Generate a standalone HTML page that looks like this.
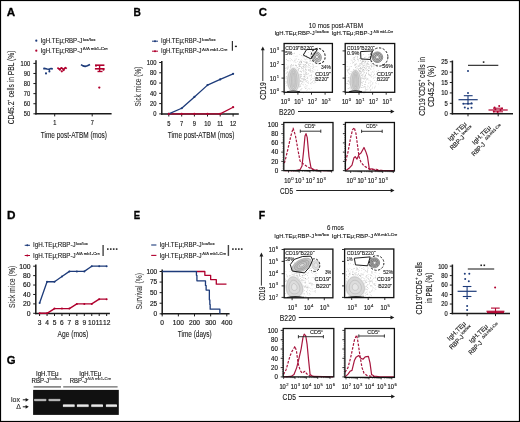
<!DOCTYPE html>
<html><head><meta charset="utf-8"><style>html,body{margin:0;padding:0;background:#fff;overflow:hidden}svg{display:block;will-change:transform}</style></head>
<body><svg width="520" height="422" viewBox="0 0 520 422" font-family='"Liberation Sans", sans-serif'>
<rect width="520" height="422" fill="#fff"/>
<text x="6.80" y="16.10" font-size="11" fill="#000" font-weight="bold" textLength="8.40" lengthAdjust="spacingAndGlyphs" stroke="#000" stroke-width="0.3" >A</text>
<text x="133.40" y="16.20" font-size="11" fill="#000" font-weight="bold" textLength="7.40" lengthAdjust="spacingAndGlyphs" stroke="#000" stroke-width="0.3" >B</text>
<text x="258.80" y="16.20" font-size="11" fill="#000" font-weight="bold" textLength="8.20" lengthAdjust="spacingAndGlyphs" stroke="#000" stroke-width="0.3" >C</text>
<text x="6.90" y="219.30" font-size="11" fill="#000" font-weight="bold" textLength="8.50" lengthAdjust="spacingAndGlyphs" stroke="#000" stroke-width="0.3" >D</text>
<text x="133.80" y="218.80" font-size="11" fill="#000" font-weight="bold" textLength="6.40" lengthAdjust="spacingAndGlyphs" stroke="#000" stroke-width="0.3" >E</text>
<text x="258.80" y="219.20" font-size="11" fill="#000" font-weight="bold" textLength="6.40" lengthAdjust="spacingAndGlyphs" stroke="#000" stroke-width="0.3" >F</text>
<text x="6.80" y="364.00" font-size="11" fill="#000" font-weight="bold" textLength="8.80" lengthAdjust="spacingAndGlyphs" stroke="#000" stroke-width="0.3" >G</text>
<circle cx="36.30" cy="40.70" r="1.1" fill="#1d3b7a"/>
<circle cx="36.30" cy="50.70" r="1.1" fill="#b0002e"/>
<text x="40.60" y="42.80" font-size="6.6000000000000005" fill="#1a1a1a" textLength="41.60" lengthAdjust="spacingAndGlyphs" stroke="#1a1a1a" stroke-width="0.12" >IgH.TEμ;RBP-J</text>
<text x="82.80" y="40.50" font-size="4.1" fill="#222" textLength="12.70" lengthAdjust="spacingAndGlyphs" stroke="#222" stroke-width="0.16" >lox/lox</text>
<text x="40.60" y="52.60" font-size="6.6000000000000005" fill="#1a1a1a" textLength="41.60" lengthAdjust="spacingAndGlyphs" stroke="#1a1a1a" stroke-width="0.12" >IgH.TEμ;RBP-J</text>
<text x="82.80" y="50.30" font-size="4.1" fill="#222" textLength="25.00" lengthAdjust="spacingAndGlyphs" stroke="#222" stroke-width="0.16" >Δ/Δ mb1-Cre</text>
<line x1="36.00" y1="60.30" x2="36.00" y2="114.55" stroke="#1a1a1a" stroke-width="1.5" />
<line x1="33.40" y1="63.40" x2="36.00" y2="63.40" stroke="#1a1a1a" stroke-width="1.0" />
<text x="20.62" y="65.80" font-size="7.0" fill="#1a1a1a" textLength="9.58" lengthAdjust="spacingAndGlyphs" stroke="#1a1a1a" stroke-width="0.18" >100</text>
<line x1="33.40" y1="73.48" x2="36.00" y2="73.48" stroke="#1a1a1a" stroke-width="1.0" />
<text x="23.82" y="75.88" font-size="7.0" fill="#1a1a1a" textLength="6.38" lengthAdjust="spacingAndGlyphs" stroke="#1a1a1a" stroke-width="0.18" >90</text>
<line x1="33.40" y1="83.56" x2="36.00" y2="83.56" stroke="#1a1a1a" stroke-width="1.0" />
<text x="23.82" y="85.96" font-size="7.0" fill="#1a1a1a" textLength="6.38" lengthAdjust="spacingAndGlyphs" stroke="#1a1a1a" stroke-width="0.18" >80</text>
<line x1="33.40" y1="93.64" x2="36.00" y2="93.64" stroke="#1a1a1a" stroke-width="1.0" />
<text x="23.82" y="96.04" font-size="7.0" fill="#1a1a1a" textLength="6.38" lengthAdjust="spacingAndGlyphs" stroke="#1a1a1a" stroke-width="0.18" >70</text>
<line x1="33.40" y1="103.72" x2="36.00" y2="103.72" stroke="#1a1a1a" stroke-width="1.0" />
<text x="23.82" y="106.12" font-size="7.0" fill="#1a1a1a" textLength="6.38" lengthAdjust="spacingAndGlyphs" stroke="#1a1a1a" stroke-width="0.18" >60</text>
<line x1="33.40" y1="113.80" x2="36.00" y2="113.80" stroke="#1a1a1a" stroke-width="1.0" />
<text x="23.82" y="116.20" font-size="7.0" fill="#1a1a1a" textLength="6.38" lengthAdjust="spacingAndGlyphs" stroke="#1a1a1a" stroke-width="0.18" >50</text>
<line x1="35.25" y1="113.80" x2="111.60" y2="113.80" stroke="#1a1a1a" stroke-width="1.5" />
<line x1="54.70" y1="113.80" x2="54.70" y2="116.40" stroke="#1a1a1a" stroke-width="1.0" />
<text x="53.14" y="125.20" font-size="6.6" fill="#1a1a1a" textLength="3.12" lengthAdjust="spacingAndGlyphs" stroke="#1a1a1a" stroke-width="0.18" >1</text>
<line x1="92.20" y1="113.80" x2="92.20" y2="116.40" stroke="#1a1a1a" stroke-width="1.0" />
<text x="90.64" y="125.20" font-size="6.6" fill="#1a1a1a" textLength="3.12" lengthAdjust="spacingAndGlyphs" stroke="#1a1a1a" stroke-width="0.18" >7</text>
<text x="40.80" y="137.60" font-size="9.8" fill="#1a1a1a" textLength="66.20" lengthAdjust="spacingAndGlyphs" stroke="#1a1a1a" stroke-width="0.12" >Time post-ATBM (mos)</text>
<text x="14.50" y="124.30" font-size="9" fill="#1a1a1a" textLength="73.80" lengthAdjust="spacingAndGlyphs" stroke="#1a1a1a" stroke-width="0.12" transform="rotate(-90 14.50 124.30)" >CD45.2⁺ cells in PBL (%)</text>
<polyline points="43.20,68.60 45.00,68.40 47.00,69.00 49.00,69.20 51.00,68.60 52.80,68.90" stroke="#1d3b7a" stroke-width="1.6" fill="none" stroke-linejoin="round" />
<circle cx="46.00" cy="73.40" r="1.05" fill="#1d3b7a"/>
<circle cx="49.40" cy="71.40" r="1.05" fill="#1d3b7a"/>
<line x1="49.30" y1="69.00" x2="49.40" y2="71.40" stroke="#1d3b7a" stroke-width="1.0" />
<polyline points="57.40,67.60 59.40,69.40 61.60,67.80 63.60,69.60 65.40,67.60 66.80,68.60" stroke="#b0002e" stroke-width="1.7" fill="none" stroke-linejoin="round" />
<circle cx="61.80" cy="71.30" r="1.15" fill="#b0002e"/>
<circle cx="60.00" cy="69.80" r="1.0" fill="#b0002e"/>
<circle cx="63.60" cy="70.20" r="1.0" fill="#b0002e"/>
<polyline points="81.00,64.60 83.00,65.90 85.20,66.40 87.40,65.80 90.00,64.60" stroke="#1d3b7a" stroke-width="1.7" fill="none" stroke-linejoin="round" />
<line x1="95.00" y1="65.20" x2="104.40" y2="65.20" stroke="#b0002e" stroke-width="1.6" />
<line x1="94.90" y1="68.80" x2="104.60" y2="68.80" stroke="#b0002e" stroke-width="1.6" />
<line x1="99.60" y1="65.00" x2="99.60" y2="72.00" stroke="#b0002e" stroke-width="1.4" />
<line x1="97.50" y1="71.50" x2="102.50" y2="71.50" stroke="#b0002e" stroke-width="1.4" />
<circle cx="96.00" cy="65.80" r="1.0" fill="#b0002e"/>
<circle cx="103.50" cy="69.80" r="1.0" fill="#b0002e"/>
<circle cx="99.30" cy="87.60" r="1.15" fill="#b0002e"/>
<line x1="152.00" y1="41.20" x2="158.00" y2="41.20" stroke="#1d3b7a" stroke-width="1.0" />
<circle cx="155.00" cy="41.20" r="1.0" fill="#1d3b7a"/>
<line x1="152.00" y1="51.20" x2="158.00" y2="51.20" stroke="#b0002e" stroke-width="1.0" />
<circle cx="155.00" cy="51.20" r="1.0" fill="#b0002e"/>
<text x="161.00" y="43.10" font-size="6.490000000000001" fill="#1a1a1a" textLength="40.50" lengthAdjust="spacingAndGlyphs" stroke="#1a1a1a" stroke-width="0.12" >IgH.TEμ;RBP-J</text>
<text x="202.10" y="40.80" font-size="4.1" fill="#222" textLength="13.60" lengthAdjust="spacingAndGlyphs" stroke="#222" stroke-width="0.16" >lox/lox</text>
<text x="161.00" y="53.10" font-size="6.490000000000001" fill="#1a1a1a" textLength="40.50" lengthAdjust="spacingAndGlyphs" stroke="#1a1a1a" stroke-width="0.12" >IgH.TEμ;RBP-J</text>
<text x="202.10" y="50.80" font-size="4.1" fill="#222" textLength="25.30" lengthAdjust="spacingAndGlyphs" stroke="#222" stroke-width="0.16" >Δ/Δ mb1-Cre</text>
<line x1="232.40" y1="41.00" x2="232.40" y2="50.80" stroke="#333" stroke-width="1.2" />
<rect x="234.9" y="45.7" width="2.0" height="1.4" fill="#222"/>
<line x1="161.80" y1="61.00" x2="161.80" y2="114.65" stroke="#1a1a1a" stroke-width="1.5" />
<line x1="159.20" y1="62.50" x2="161.80" y2="62.50" stroke="#1a1a1a" stroke-width="1.0" />
<text x="146.76" y="64.90" font-size="6.8" fill="#1a1a1a" textLength="9.64" lengthAdjust="spacingAndGlyphs" stroke="#1a1a1a" stroke-width="0.18" >100</text>
<line x1="159.20" y1="72.78" x2="161.80" y2="72.78" stroke="#1a1a1a" stroke-width="1.0" />
<text x="149.97" y="75.18" font-size="6.8" fill="#1a1a1a" textLength="6.43" lengthAdjust="spacingAndGlyphs" stroke="#1a1a1a" stroke-width="0.18" >80</text>
<line x1="159.20" y1="83.06" x2="161.80" y2="83.06" stroke="#1a1a1a" stroke-width="1.0" />
<text x="149.97" y="85.46" font-size="6.8" fill="#1a1a1a" textLength="6.43" lengthAdjust="spacingAndGlyphs" stroke="#1a1a1a" stroke-width="0.18" >60</text>
<line x1="159.20" y1="93.34" x2="161.80" y2="93.34" stroke="#1a1a1a" stroke-width="1.0" />
<text x="149.97" y="95.74" font-size="6.8" fill="#1a1a1a" textLength="6.43" lengthAdjust="spacingAndGlyphs" stroke="#1a1a1a" stroke-width="0.18" >40</text>
<line x1="159.20" y1="103.62" x2="161.80" y2="103.62" stroke="#1a1a1a" stroke-width="1.0" />
<text x="149.97" y="106.02" font-size="6.8" fill="#1a1a1a" textLength="6.43" lengthAdjust="spacingAndGlyphs" stroke="#1a1a1a" stroke-width="0.18" >20</text>
<line x1="159.20" y1="113.90" x2="161.80" y2="113.90" stroke="#1a1a1a" stroke-width="1.0" />
<text x="153.19" y="116.30" font-size="6.8" fill="#1a1a1a" textLength="3.21" lengthAdjust="spacingAndGlyphs" stroke="#1a1a1a" stroke-width="0.18" >0</text>
<line x1="161.05" y1="113.90" x2="238.80" y2="113.90" stroke="#1a1a1a" stroke-width="1.5" />
<line x1="168.80" y1="113.90" x2="168.80" y2="116.50" stroke="#1a1a1a" stroke-width="1.0" />
<text x="167.19" y="125.80" font-size="6.8" fill="#1a1a1a" textLength="3.21" lengthAdjust="spacingAndGlyphs" stroke="#1a1a1a" stroke-width="0.18" >5</text>
<line x1="181.70" y1="113.90" x2="181.70" y2="116.50" stroke="#1a1a1a" stroke-width="1.0" />
<text x="180.09" y="125.80" font-size="6.8" fill="#1a1a1a" textLength="3.21" lengthAdjust="spacingAndGlyphs" stroke="#1a1a1a" stroke-width="0.18" >7</text>
<line x1="194.40" y1="113.90" x2="194.40" y2="116.50" stroke="#1a1a1a" stroke-width="1.0" />
<text x="192.79" y="125.80" font-size="6.8" fill="#1a1a1a" textLength="3.21" lengthAdjust="spacingAndGlyphs" stroke="#1a1a1a" stroke-width="0.18" >9</text>
<line x1="207.50" y1="113.90" x2="207.50" y2="116.50" stroke="#1a1a1a" stroke-width="1.0" />
<text x="204.29" y="125.80" font-size="6.8" fill="#1a1a1a" textLength="6.43" lengthAdjust="spacingAndGlyphs" stroke="#1a1a1a" stroke-width="0.18" >10</text>
<line x1="220.20" y1="113.90" x2="220.20" y2="116.50" stroke="#1a1a1a" stroke-width="1.0" />
<text x="217.20" y="125.80" font-size="6.8" fill="#1a1a1a" textLength="6.00" lengthAdjust="spacingAndGlyphs" stroke="#1a1a1a" stroke-width="0.18" >11</text>
<line x1="233.10" y1="113.90" x2="233.10" y2="116.50" stroke="#1a1a1a" stroke-width="1.0" />
<text x="229.89" y="125.80" font-size="6.8" fill="#1a1a1a" textLength="6.43" lengthAdjust="spacingAndGlyphs" stroke="#1a1a1a" stroke-width="0.18" >12</text>
<text x="167.80" y="137.60" font-size="9.8" fill="#1a1a1a" textLength="66.60" lengthAdjust="spacingAndGlyphs" stroke="#1a1a1a" stroke-width="0.12" >Time post-ATBM (mos)</text>
<text x="141.40" y="106.50" font-size="9" fill="#3a3a3a" textLength="40.00" lengthAdjust="spacingAndGlyphs" stroke="#3a3a3a" stroke-width="0.12" transform="rotate(-90 141.40 106.50)" >Sick mice (%)</text>
<polyline points="168.80,113.90 181.70,113.90 194.40,113.90 207.50,113.90 220.20,113.90 233.10,107.22" stroke="#b0002e" stroke-width="1.2" fill="none" stroke-linejoin="round" />
<polyline points="168.80,113.90 181.70,108.25 194.40,96.94 207.50,85.12 220.20,79.46 233.10,73.81" stroke="#1d3b7a" stroke-width="1.3" fill="none" stroke-linejoin="round" />
<circle cx="168.80" cy="113.90" r="1.1" fill="#1d3b7a"/>
<circle cx="181.70" cy="108.25" r="1.1" fill="#1d3b7a"/>
<circle cx="194.40" cy="96.94" r="1.1" fill="#1d3b7a"/>
<circle cx="207.50" cy="85.12" r="1.1" fill="#1d3b7a"/>
<circle cx="220.20" cy="79.46" r="1.1" fill="#1d3b7a"/>
<circle cx="233.10" cy="73.81" r="1.1" fill="#1d3b7a"/>
<circle cx="168.80" cy="113.90" r="1.15" fill="#b0002e"/>
<circle cx="181.70" cy="113.90" r="1.15" fill="#b0002e"/>
<circle cx="194.40" cy="113.90" r="1.15" fill="#b0002e"/>
<circle cx="207.50" cy="113.90" r="1.15" fill="#b0002e"/>
<circle cx="220.20" cy="113.90" r="1.15" fill="#b0002e"/>
<circle cx="233.10" cy="107.22" r="1.15" fill="#b0002e"/>
<text x="308.75" y="27.80" font-size="6.3" fill="#1a1a1a" textLength="54.20" lengthAdjust="spacingAndGlyphs" stroke="#1a1a1a" stroke-width="0.1" >10 mos post-ATBM</text>
<text x="274.40" y="34.90" font-size="6.1" fill="#1a1a1a" textLength="40.40" lengthAdjust="spacingAndGlyphs" stroke="#1a1a1a" stroke-width="0.12" >IgH.TEμ;RBP-J</text>
<text x="315.60" y="32.50" font-size="4.2" fill="#222" textLength="13.40" lengthAdjust="spacingAndGlyphs" stroke="#222" stroke-width="0.16" >lox/lox</text>
<text x="331.60" y="34.90" font-size="6.1" fill="#1a1a1a" textLength="40.80" lengthAdjust="spacingAndGlyphs" stroke="#1a1a1a" stroke-width="0.12" >IgH.TEμ;RBP-J</text>
<text x="373.60" y="32.50" font-size="4.2" fill="#222" textLength="19.60" lengthAdjust="spacingAndGlyphs" stroke="#222" stroke-width="0.16" >Δ/Δ mb1-Cre</text>
<path d="M297.0 80.9h0.6v0.6h-0.6zM297.3 69.6h0.6v0.6h-0.6zM290.0 71.3h0.6v0.6h-0.6zM311.3 79.1h0.6v0.6h-0.6zM310.9 77.1h0.6v0.6h-0.6zM304.6 76.6h0.6v0.6h-0.6zM286.2 82.3h0.6v0.6h-0.6zM305.7 80.6h0.6v0.6h-0.6zM288.5 60.0h0.6v0.6h-0.6zM290.5 68.1h0.6v0.6h-0.6zM303.6 73.4h0.6v0.6h-0.6zM305.8 65.6h0.6v0.6h-0.6zM303.6 79.4h0.6v0.6h-0.6zM294.5 90.9h0.6v0.6h-0.6zM305.5 87.8h0.6v0.6h-0.6zM293.3 64.6h0.6v0.6h-0.6zM295.9 72.5h0.6v0.6h-0.6zM307.2 77.3h0.6v0.6h-0.6zM295.3 62.2h0.6v0.6h-0.6zM294.9 88.1h0.6v0.6h-0.6zM291.1 77.2h0.6v0.6h-0.6zM303.9 57.9h0.6v0.6h-0.6zM300.5 89.1h0.6v0.6h-0.6zM284.3 71.1h0.6v0.6h-0.6zM298.8 63.4h0.6v0.6h-0.6zM305.8 73.1h0.6v0.6h-0.6zM287.1 82.6h0.6v0.6h-0.6zM306.9 85.4h0.6v0.6h-0.6zM313.5 78.0h0.6v0.6h-0.6zM301.2 58.9h0.6v0.6h-0.6zM306.8 66.1h0.6v0.6h-0.6zM295.6 59.5h0.6v0.6h-0.6zM289.9 67.5h0.6v0.6h-0.6zM308.9 57.6h0.6v0.6h-0.6zM286.3 76.6h0.6v0.6h-0.6zM313.2 80.2h0.6v0.6h-0.6zM289.8 58.1h0.6v0.6h-0.6zM304.0 64.4h0.6v0.6h-0.6zM289.5 84.8h0.6v0.6h-0.6zM311.4 75.9h0.6v0.6h-0.6zM302.9 80.0h0.6v0.6h-0.6zM313.9 80.3h0.6v0.6h-0.6zM305.8 81.2h0.6v0.6h-0.6zM287.7 85.8h0.6v0.6h-0.6zM310.0 80.5h0.6v0.6h-0.6zM284.8 68.3h0.6v0.6h-0.6zM306.7 57.1h0.6v0.6h-0.6zM298.1 86.7h0.6v0.6h-0.6zM289.9 88.6h0.6v0.6h-0.6zM306.4 72.0h0.6v0.6h-0.6zM303.7 82.6h0.6v0.6h-0.6zM301.2 87.9h0.6v0.6h-0.6zM292.6 68.6h0.6v0.6h-0.6zM311.0 74.3h0.6v0.6h-0.6zM291.3 85.0h0.6v0.6h-0.6zM313.5 69.2h0.6v0.6h-0.6zM286.7 72.5h0.6v0.6h-0.6zM298.2 69.8h0.6v0.6h-0.6zM312.1 63.6h0.6v0.6h-0.6zM310.7 61.3h0.6v0.6h-0.6zM291.6 81.9h0.6v0.6h-0.6zM310.8 83.6h0.6v0.6h-0.6zM304.1 76.0h0.6v0.6h-0.6zM301.8 81.8h0.6v0.6h-0.6zM297.9 77.9h0.6v0.6h-0.6zM306.6 74.0h0.6v0.6h-0.6zM308.2 81.2h0.6v0.6h-0.6zM315.7 77.0h0.6v0.6h-0.6zM295.1 68.9h0.6v0.6h-0.6zM299.9 85.8h0.6v0.6h-0.6zM296.1 79.3h0.6v0.6h-0.6zM309.9 57.8h0.6v0.6h-0.6zM288.4 77.0h0.6v0.6h-0.6zM304.7 77.3h0.6v0.6h-0.6zM295.2 82.6h0.6v0.6h-0.6zM303.2 66.9h0.6v0.6h-0.6zM316.4 76.8h0.6v0.6h-0.6zM293.6 72.6h0.6v0.6h-0.6zM297.3 73.1h0.6v0.6h-0.6zM283.4 70.5h0.6v0.6h-0.6zM309.3 61.4h0.6v0.6h-0.6zM299.3 86.1h0.6v0.6h-0.6zM307.4 89.2h0.6v0.6h-0.6zM285.3 70.4h0.6v0.6h-0.6zM296.1 82.3h0.6v0.6h-0.6zM306.4 55.6h0.6v0.6h-0.6zM309.2 59.6h0.6v0.6h-0.6zM306.1 58.4h0.6v0.6h-0.6zM301.8 88.2h0.6v0.6h-0.6zM298.2 76.7h0.6v0.6h-0.6zM308.8 75.8h0.6v0.6h-0.6zM299.2 90.6h0.6v0.6h-0.6zM310.9 70.4h0.6v0.6h-0.6zM315.6 66.3h0.6v0.6h-0.6zM309.9 70.6h0.6v0.6h-0.6zM301.5 83.4h0.6v0.6h-0.6zM302.5 82.5h0.6v0.6h-0.6zM288.5 60.7h0.6v0.6h-0.6zM306.3 62.3h0.6v0.6h-0.6zM291.3 59.3h0.6v0.6h-0.6zM311.9 82.3h0.6v0.6h-0.6zM312.7 64.5h0.6v0.6h-0.6zM300.0 60.2h0.6v0.6h-0.6zM306.6 90.0h0.6v0.6h-0.6zM292.5 89.5h0.6v0.6h-0.6zM310.5 71.8h0.6v0.6h-0.6zM286.5 85.3h0.6v0.6h-0.6zM298.9 65.9h0.6v0.6h-0.6zM304.6 79.6h0.6v0.6h-0.6zM312.6 63.9h0.6v0.6h-0.6zM309.4 88.4h0.6v0.6h-0.6zM313.7 72.0h0.6v0.6h-0.6zM292.6 86.0h0.6v0.6h-0.6zM301.4 75.8h0.6v0.6h-0.6zM313.5 71.1h0.6v0.6h-0.6zM283.8 70.8h0.6v0.6h-0.6zM285.5 81.5h0.6v0.6h-0.6zM303.6 65.8h0.6v0.6h-0.6zM299.9 84.8h0.6v0.6h-0.6zM300.8 89.3h0.6v0.6h-0.6zM299.4 86.9h0.6v0.6h-0.6zM311.0 88.0h0.6v0.6h-0.6zM293.0 84.8h0.6v0.6h-0.6zM286.0 64.5h0.6v0.6h-0.6zM285.7 83.2h0.6v0.6h-0.6zM287.6 73.8h0.6v0.6h-0.6zM297.7 73.6h0.6v0.6h-0.6zM293.2 77.1h0.6v0.6h-0.6zM315.2 74.4h0.6v0.6h-0.6zM305.5 86.2h0.6v0.6h-0.6zM298.0 59.3h0.6v0.6h-0.6zM294.4 86.8h0.6v0.6h-0.6zM285.8 68.0h0.6v0.6h-0.6zM310.0 83.3h0.6v0.6h-0.6zM300.1 84.5h0.6v0.6h-0.6zM301.7 59.9h0.6v0.6h-0.6zM286.3 67.4h0.6v0.6h-0.6zM309.6 67.0h0.6v0.6h-0.6zM290.8 64.8h0.6v0.6h-0.6zM285.9 72.7h0.6v0.6h-0.6zM288.1 78.3h0.6v0.6h-0.6zM283.7 76.7h0.6v0.6h-0.6zM295.0 56.2h0.6v0.6h-0.6zM308.1 70.4h0.6v0.6h-0.6zM284.6 66.9h0.6v0.6h-0.6zM303.4 67.7h0.6v0.6h-0.6zM308.2 83.2h0.6v0.6h-0.6zM307.5 78.3h0.6v0.6h-0.6zM312.5 81.3h0.6v0.6h-0.6zM303.4 55.5h0.6v0.6h-0.6zM308.1 88.0h0.6v0.6h-0.6zM296.6 67.6h0.6v0.6h-0.6zM312.4 60.8h0.6v0.6h-0.6zM303.2 93.2h0.6v0.6h-0.6zM290.5 82.3h0.6v0.6h-0.6zM315.5 72.8h0.6v0.6h-0.6zM305.9 85.2h0.6v0.6h-0.6zM290.1 72.9h0.6v0.6h-0.6zM303.2 84.6h0.6v0.6h-0.6zM299.6 71.3h0.6v0.6h-0.6zM289.4 69.6h0.6v0.6h-0.6zM309.7 75.3h0.6v0.6h-0.6zM291.3 63.9h0.6v0.6h-0.6zM315.5 81.8h0.6v0.6h-0.6zM304.0 54.9h0.6v0.6h-0.6zM306.9 80.3h0.6v0.6h-0.6zM314.5 78.3h0.6v0.6h-0.6zM299.2 81.1h0.6v0.6h-0.6zM285.7 83.0h0.6v0.6h-0.6zM303.6 64.8h0.6v0.6h-0.6zM309.6 89.5h0.6v0.6h-0.6zM287.1 66.8h0.6v0.6h-0.6zM303.5 76.6h0.6v0.6h-0.6zM295.8 61.9h0.6v0.6h-0.6zM314.8 82.5h0.6v0.6h-0.6zM289.9 60.6h0.6v0.6h-0.6zM313.6 83.3h0.6v0.6h-0.6zM314.4 81.6h0.6v0.6h-0.6zM290.5 77.3h0.6v0.6h-0.6zM284.5 67.7h0.6v0.6h-0.6zM299.3 81.1h0.6v0.6h-0.6zM291.8 72.4h0.6v0.6h-0.6zM305.3 79.1h0.6v0.6h-0.6zM307.3 76.8h0.6v0.6h-0.6zM296.4 84.2h0.6v0.6h-0.6zM300.5 63.2h0.6v0.6h-0.6zM292.8 74.0h0.6v0.6h-0.6zM298.7 76.2h0.6v0.6h-0.6zM300.0 76.5h0.6v0.6h-0.6zM298.7 59.2h0.6v0.6h-0.6zM304.3 86.8h0.6v0.6h-0.6zM305.1 71.4h0.6v0.6h-0.6zM304.7 62.1h0.6v0.6h-0.6zM284.5 74.6h0.6v0.6h-0.6zM290.5 82.9h0.6v0.6h-0.6zM293.6 55.7h0.6v0.6h-0.6zM291.5 89.2h0.6v0.6h-0.6zM296.4 58.6h0.6v0.6h-0.6zM291.7 80.6h0.6v0.6h-0.6zM305.8 76.4h0.6v0.6h-0.6z" fill="#c4c4c4"/>
<path d="M305.4 84.4h0.6v0.6h-0.6zM294.9 83.4h0.6v0.6h-0.6zM306.6 86.7h0.6v0.6h-0.6zM302.2 68.3h0.6v0.6h-0.6zM294.0 84.6h0.6v0.6h-0.6zM292.9 87.6h0.6v0.6h-0.6zM299.2 86.2h0.6v0.6h-0.6zM303.7 76.1h0.6v0.6h-0.6zM292.6 85.9h0.6v0.6h-0.6zM301.9 78.1h0.6v0.6h-0.6zM286.8 79.7h0.6v0.6h-0.6zM297.5 88.2h0.6v0.6h-0.6zM300.5 78.2h0.6v0.6h-0.6zM301.0 82.9h0.6v0.6h-0.6zM296.4 78.5h0.6v0.6h-0.6zM293.3 84.2h0.6v0.6h-0.6zM287.6 72.3h0.6v0.6h-0.6zM295.0 64.8h0.6v0.6h-0.6zM291.9 59.9h0.6v0.6h-0.6zM290.2 83.1h0.6v0.6h-0.6zM299.0 77.5h0.6v0.6h-0.6zM293.4 65.2h0.6v0.6h-0.6zM307.8 82.6h0.6v0.6h-0.6zM302.7 70.1h0.6v0.6h-0.6zM293.7 61.6h0.6v0.6h-0.6zM300.5 86.4h0.6v0.6h-0.6zM299.4 62.1h0.6v0.6h-0.6zM290.6 65.4h0.6v0.6h-0.6zM295.2 80.2h0.6v0.6h-0.6zM299.4 84.3h0.6v0.6h-0.6zM305.5 88.5h0.6v0.6h-0.6zM285.8 73.5h0.6v0.6h-0.6zM287.6 68.3h0.6v0.6h-0.6zM294.4 78.0h0.6v0.6h-0.6zM298.4 63.7h0.6v0.6h-0.6zM286.3 77.8h0.6v0.6h-0.6zM293.6 75.2h0.6v0.6h-0.6zM294.6 71.2h0.6v0.6h-0.6zM299.9 81.2h0.6v0.6h-0.6zM294.4 72.0h0.6v0.6h-0.6zM293.8 53.5h0.6v0.6h-0.6zM288.1 78.3h0.6v0.6h-0.6zM296.0 65.6h0.6v0.6h-0.6zM293.2 75.2h0.6v0.6h-0.6zM298.2 83.5h0.6v0.6h-0.6zM294.7 70.3h0.6v0.6h-0.6zM294.0 77.4h0.6v0.6h-0.6zM300.1 80.6h0.6v0.6h-0.6zM289.9 65.8h0.6v0.6h-0.6zM292.4 71.3h0.6v0.6h-0.6zM287.2 77.0h0.6v0.6h-0.6zM291.6 78.9h0.6v0.6h-0.6zM298.7 74.3h0.6v0.6h-0.6zM311.3 75.1h0.6v0.6h-0.6zM302.7 79.1h0.6v0.6h-0.6zM302.8 56.6h0.6v0.6h-0.6zM289.7 80.2h0.6v0.6h-0.6zM297.3 89.5h0.6v0.6h-0.6zM300.4 86.5h0.6v0.6h-0.6zM298.6 76.6h0.6v0.6h-0.6zM298.6 68.3h0.6v0.6h-0.6zM303.3 68.8h0.6v0.6h-0.6zM293.4 78.2h0.6v0.6h-0.6zM303.1 78.2h0.6v0.6h-0.6zM289.3 80.3h0.6v0.6h-0.6zM299.1 84.4h0.6v0.6h-0.6zM306.7 78.2h0.6v0.6h-0.6zM296.9 74.1h0.6v0.6h-0.6zM304.9 71.7h0.6v0.6h-0.6zM299.7 73.7h0.6v0.6h-0.6zM290.1 84.5h0.6v0.6h-0.6zM304.3 77.9h0.6v0.6h-0.6zM290.3 85.3h0.6v0.6h-0.6zM294.7 80.8h0.6v0.6h-0.6zM305.7 88.2h0.6v0.6h-0.6zM295.0 85.1h0.6v0.6h-0.6zM290.5 77.6h0.6v0.6h-0.6zM304.6 67.1h0.6v0.6h-0.6zM303.2 73.9h0.6v0.6h-0.6zM294.6 75.2h0.6v0.6h-0.6zM294.2 68.2h0.6v0.6h-0.6zM295.2 65.1h0.6v0.6h-0.6zM294.5 80.8h0.6v0.6h-0.6zM298.3 75.9h0.6v0.6h-0.6zM288.7 79.4h0.6v0.6h-0.6zM300.4 77.0h0.6v0.6h-0.6zM291.7 71.7h0.6v0.6h-0.6zM288.4 74.8h0.6v0.6h-0.6zM297.1 82.6h0.6v0.6h-0.6zM290.1 78.1h0.6v0.6h-0.6zM314.6 61.2h0.6v0.6h-0.6zM291.3 79.5h0.6v0.6h-0.6zM296.1 81.7h0.6v0.6h-0.6zM293.3 81.3h0.6v0.6h-0.6zM295.4 84.9h0.6v0.6h-0.6zM295.0 68.7h0.6v0.6h-0.6zM287.7 83.6h0.6v0.6h-0.6zM290.5 83.7h0.6v0.6h-0.6zM300.2 80.8h0.6v0.6h-0.6zM298.6 77.1h0.6v0.6h-0.6zM285.1 77.7h0.6v0.6h-0.6zM298.2 73.2h0.6v0.6h-0.6zM294.3 84.7h0.6v0.6h-0.6zM288.9 83.8h0.6v0.6h-0.6zM308.0 73.0h0.6v0.6h-0.6zM296.0 76.6h0.6v0.6h-0.6zM305.8 80.8h0.6v0.6h-0.6zM301.3 71.8h0.6v0.6h-0.6zM294.9 77.9h0.6v0.6h-0.6zM301.3 62.3h0.6v0.6h-0.6zM300.2 76.8h0.6v0.6h-0.6zM298.1 81.3h0.6v0.6h-0.6zM305.4 72.8h0.6v0.6h-0.6zM287.8 65.8h0.6v0.6h-0.6zM286.5 81.0h0.6v0.6h-0.6zM306.8 81.9h0.6v0.6h-0.6zM291.4 71.9h0.6v0.6h-0.6zM298.7 82.9h0.6v0.6h-0.6zM287.9 67.5h0.6v0.6h-0.6zM297.0 80.2h0.6v0.6h-0.6zM285.9 76.2h0.6v0.6h-0.6zM291.2 82.1h0.6v0.6h-0.6zM294.2 77.2h0.6v0.6h-0.6zM292.5 87.5h0.6v0.6h-0.6zM304.7 74.7h0.6v0.6h-0.6zM300.9 71.2h0.6v0.6h-0.6zM295.5 84.7h0.6v0.6h-0.6zM305.6 74.6h0.6v0.6h-0.6zM294.5 79.8h0.6v0.6h-0.6zM290.3 81.3h0.6v0.6h-0.6zM287.1 60.2h0.6v0.6h-0.6zM295.3 80.3h0.6v0.6h-0.6zM291.2 86.0h0.6v0.6h-0.6zM293.1 72.5h0.6v0.6h-0.6zM298.3 63.9h0.6v0.6h-0.6zM290.3 77.8h0.6v0.6h-0.6zM300.9 76.5h0.6v0.6h-0.6zM297.2 72.1h0.6v0.6h-0.6zM290.5 78.2h0.6v0.6h-0.6zM296.2 87.2h0.6v0.6h-0.6zM286.3 59.1h0.6v0.6h-0.6zM299.2 85.2h0.6v0.6h-0.6zM296.4 80.3h0.6v0.6h-0.6zM301.5 81.3h0.6v0.6h-0.6zM306.6 66.9h0.6v0.6h-0.6zM292.4 47.0h0.6v0.6h-0.6zM300.7 74.6h0.6v0.6h-0.6zM295.0 75.7h0.6v0.6h-0.6zM291.5 70.5h0.6v0.6h-0.6zM290.6 83.8h0.6v0.6h-0.6zM295.3 78.6h0.6v0.6h-0.6zM293.8 86.2h0.6v0.6h-0.6zM298.5 76.7h0.6v0.6h-0.6zM299.7 76.6h0.6v0.6h-0.6zM286.9 91.1h0.6v0.6h-0.6zM298.3 69.4h0.6v0.6h-0.6zM302.6 81.1h0.6v0.6h-0.6zM297.3 86.0h0.6v0.6h-0.6zM296.4 76.7h0.6v0.6h-0.6zM295.2 75.4h0.6v0.6h-0.6zM297.5 78.7h0.6v0.6h-0.6zM299.7 74.7h0.6v0.6h-0.6zM294.7 58.7h0.6v0.6h-0.6zM292.0 84.1h0.6v0.6h-0.6zM304.4 74.7h0.6v0.6h-0.6zM292.7 84.6h0.6v0.6h-0.6zM306.7 78.4h0.6v0.6h-0.6zM303.6 71.6h0.6v0.6h-0.6zM296.5 77.3h0.6v0.6h-0.6zM295.8 88.2h0.6v0.6h-0.6zM311.7 72.0h0.6v0.6h-0.6zM291.0 82.5h0.6v0.6h-0.6zM287.6 82.5h0.6v0.6h-0.6zM299.0 75.5h0.6v0.6h-0.6zM298.7 64.1h0.6v0.6h-0.6zM300.3 64.1h0.6v0.6h-0.6zM290.1 73.0h0.6v0.6h-0.6zM292.2 85.7h0.6v0.6h-0.6zM295.6 74.4h0.6v0.6h-0.6zM295.0 81.3h0.6v0.6h-0.6zM303.7 80.4h0.6v0.6h-0.6zM310.5 60.1h0.6v0.6h-0.6zM294.7 81.8h0.6v0.6h-0.6zM301.8 84.0h0.6v0.6h-0.6zM293.1 68.5h0.6v0.6h-0.6zM295.7 87.3h0.6v0.6h-0.6zM287.4 68.8h0.6v0.6h-0.6zM294.8 60.6h0.6v0.6h-0.6zM293.2 74.1h0.6v0.6h-0.6zM298.2 71.7h0.6v0.6h-0.6zM288.8 74.5h0.6v0.6h-0.6zM294.7 72.0h0.6v0.6h-0.6zM295.1 84.8h0.6v0.6h-0.6zM289.5 74.2h0.6v0.6h-0.6zM289.9 77.7h0.6v0.6h-0.6zM298.7 65.8h0.6v0.6h-0.6zM298.2 77.8h0.6v0.6h-0.6zM303.4 61.2h0.6v0.6h-0.6zM300.7 79.9h0.6v0.6h-0.6zM298.3 82.0h0.6v0.6h-0.6zM304.1 76.0h0.6v0.6h-0.6zM301.1 74.3h0.6v0.6h-0.6zM300.1 70.7h0.6v0.6h-0.6zM298.1 76.6h0.6v0.6h-0.6zM287.0 70.9h0.6v0.6h-0.6zM296.4 86.5h0.6v0.6h-0.6zM298.0 82.7h0.6v0.6h-0.6zM294.7 90.2h0.6v0.6h-0.6zM292.3 73.1h0.6v0.6h-0.6zM301.2 78.6h0.6v0.6h-0.6zM293.1 72.8h0.6v0.6h-0.6zM293.2 83.6h0.6v0.6h-0.6zM297.5 67.1h0.6v0.6h-0.6zM298.0 79.6h0.6v0.6h-0.6zM288.0 85.0h0.6v0.6h-0.6zM293.0 75.0h0.6v0.6h-0.6zM300.6 89.9h0.6v0.6h-0.6zM290.2 81.9h0.6v0.6h-0.6zM291.5 88.8h0.6v0.6h-0.6zM290.5 85.3h0.6v0.6h-0.6zM310.5 55.1h0.6v0.6h-0.6zM292.0 82.5h0.6v0.6h-0.6zM294.3 72.0h0.6v0.6h-0.6zM310.1 78.7h0.6v0.6h-0.6zM291.0 79.3h0.6v0.6h-0.6zM303.8 79.1h0.6v0.6h-0.6z" fill="#a8a8a8"/>
<path d="M296.7 55.8h0.6v0.6h-0.6zM312.1 70.4h0.6v0.6h-0.6zM300.1 71.2h0.6v0.6h-0.6zM308.0 69.9h0.6v0.6h-0.6zM291.4 64.2h0.6v0.6h-0.6zM310.4 70.4h0.6v0.6h-0.6zM310.3 51.3h0.6v0.6h-0.6zM306.0 69.0h0.6v0.6h-0.6zM320.3 60.3h0.6v0.6h-0.6zM303.0 66.2h0.6v0.6h-0.6zM310.3 63.3h0.6v0.6h-0.6zM311.9 61.3h0.6v0.6h-0.6zM306.6 62.8h0.6v0.6h-0.6zM305.9 61.9h0.6v0.6h-0.6zM295.4 72.6h0.6v0.6h-0.6zM306.8 62.6h0.6v0.6h-0.6zM306.2 71.9h0.6v0.6h-0.6zM299.1 65.3h0.6v0.6h-0.6zM308.2 69.2h0.6v0.6h-0.6zM303.0 53.4h0.6v0.6h-0.6zM312.5 68.0h0.6v0.6h-0.6zM305.1 64.3h0.6v0.6h-0.6zM306.6 63.4h0.6v0.6h-0.6zM298.9 61.6h0.6v0.6h-0.6zM301.4 62.3h0.6v0.6h-0.6zM298.0 69.8h0.6v0.6h-0.6zM297.1 70.0h0.6v0.6h-0.6zM298.9 68.1h0.6v0.6h-0.6zM313.2 67.2h0.6v0.6h-0.6zM300.6 66.3h0.6v0.6h-0.6zM305.9 55.6h0.6v0.6h-0.6zM301.4 67.0h0.6v0.6h-0.6zM302.2 66.5h0.6v0.6h-0.6zM309.4 70.6h0.6v0.6h-0.6zM310.4 69.5h0.6v0.6h-0.6zM303.3 65.9h0.6v0.6h-0.6zM303.4 64.1h0.6v0.6h-0.6zM303.9 55.7h0.6v0.6h-0.6zM303.0 65.9h0.6v0.6h-0.6zM299.2 65.9h0.6v0.6h-0.6zM308.1 65.0h0.6v0.6h-0.6zM317.5 50.4h0.6v0.6h-0.6zM303.8 55.0h0.6v0.6h-0.6zM310.9 81.9h0.6v0.6h-0.6zM290.0 66.8h0.6v0.6h-0.6zM308.1 64.2h0.6v0.6h-0.6zM308.3 52.5h0.6v0.6h-0.6zM310.1 68.2h0.6v0.6h-0.6zM305.1 62.5h0.6v0.6h-0.6zM308.8 63.1h0.6v0.6h-0.6zM306.3 62.9h0.6v0.6h-0.6zM291.5 65.8h0.6v0.6h-0.6zM306.2 70.5h0.6v0.6h-0.6zM299.7 65.8h0.6v0.6h-0.6zM308.7 66.9h0.6v0.6h-0.6zM312.5 77.9h0.6v0.6h-0.6zM299.5 54.5h0.6v0.6h-0.6zM310.1 75.2h0.6v0.6h-0.6zM310.5 70.9h0.6v0.6h-0.6zM301.3 61.7h0.6v0.6h-0.6zM310.3 60.5h0.6v0.6h-0.6zM294.1 60.0h0.6v0.6h-0.6zM320.0 77.5h0.6v0.6h-0.6zM300.9 61.6h0.6v0.6h-0.6zM306.4 61.5h0.6v0.6h-0.6zM312.9 65.5h0.6v0.6h-0.6zM298.5 73.9h0.6v0.6h-0.6zM301.5 67.3h0.6v0.6h-0.6zM304.9 64.1h0.6v0.6h-0.6zM306.9 61.8h0.6v0.6h-0.6zM293.9 52.8h0.6v0.6h-0.6zM297.4 61.4h0.6v0.6h-0.6zM304.9 66.3h0.6v0.6h-0.6zM308.3 66.7h0.6v0.6h-0.6zM300.2 61.7h0.6v0.6h-0.6zM292.3 65.0h0.6v0.6h-0.6zM307.9 69.2h0.6v0.6h-0.6zM304.3 65.0h0.6v0.6h-0.6zM310.6 66.1h0.6v0.6h-0.6zM309.4 69.5h0.6v0.6h-0.6zM306.3 73.8h0.6v0.6h-0.6zM301.6 63.8h0.6v0.6h-0.6zM300.2 61.2h0.6v0.6h-0.6zM314.3 76.6h0.6v0.6h-0.6zM305.1 69.4h0.6v0.6h-0.6zM312.1 70.8h0.6v0.6h-0.6zM312.2 58.4h0.6v0.6h-0.6zM301.2 68.7h0.6v0.6h-0.6zM313.6 66.6h0.6v0.6h-0.6zM299.8 63.9h0.6v0.6h-0.6zM301.0 60.9h0.6v0.6h-0.6zM314.0 62.2h0.6v0.6h-0.6zM305.1 79.0h0.6v0.6h-0.6zM312.1 68.0h0.6v0.6h-0.6zM301.3 68.5h0.6v0.6h-0.6zM314.7 69.7h0.6v0.6h-0.6zM312.6 66.6h0.6v0.6h-0.6zM308.1 64.8h0.6v0.6h-0.6zM307.6 73.8h0.6v0.6h-0.6zM296.4 65.6h0.6v0.6h-0.6zM306.4 62.6h0.6v0.6h-0.6zM303.2 70.7h0.6v0.6h-0.6zM317.0 69.8h0.6v0.6h-0.6zM307.0 56.7h0.6v0.6h-0.6zM316.6 66.5h0.6v0.6h-0.6zM304.8 59.3h0.6v0.6h-0.6zM304.7 59.4h0.6v0.6h-0.6zM305.4 68.8h0.6v0.6h-0.6zM305.2 67.7h0.6v0.6h-0.6zM299.9 74.6h0.6v0.6h-0.6zM301.1 55.1h0.6v0.6h-0.6zM303.9 61.4h0.6v0.6h-0.6zM298.9 63.9h0.6v0.6h-0.6zM306.7 58.9h0.6v0.6h-0.6zM304.2 74.6h0.6v0.6h-0.6zM309.1 65.1h0.6v0.6h-0.6zM305.8 65.3h0.6v0.6h-0.6zM304.7 70.4h0.6v0.6h-0.6zM304.4 51.6h0.6v0.6h-0.6zM304.9 60.7h0.6v0.6h-0.6z" fill="#b0b0b0"/>
<path d="M300.07,79.80 L300.07,81.85 L299.90,83.85 L299.56,85.75 L299.05,87.51 L298.38,89.07 L297.57,90.41 L296.64,91.48 L295.62,92.27 L294.53,92.75 L293.40,92.91 L292.27,92.75 L291.18,92.27 L290.16,91.48 L289.23,90.41 L288.42,89.07 L287.75,87.51 L287.24,85.75 L286.90,83.85 L286.73,81.85 L286.73,79.80 L286.89,77.75 L287.21,75.75 L287.67,73.85 L288.26,72.09 L288.95,70.53 L289.73,69.19 L290.59,68.12 L291.50,67.33 L292.44,66.85 L293.40,66.69 L294.36,66.85 L295.30,67.33 L296.21,68.12 L297.07,69.19 L297.85,70.53 L298.54,72.09 L299.13,73.85 L299.59,75.75 L299.91,77.75Z" fill="#f1f1f1" stroke="none"/>
<path d="M299.20,79.80 L299.20,81.58 L299.05,83.32 L298.76,84.98 L298.31,86.50 L297.73,87.86 L297.03,89.02 L296.22,89.96 L295.33,90.64 L294.38,91.06 L293.40,91.20 L292.42,91.06 L291.47,90.64 L290.58,89.96 L289.77,89.02 L289.07,87.86 L288.49,86.50 L288.04,84.98 L287.75,83.32 L287.60,81.58 L287.60,79.80 L287.74,78.02 L288.02,76.28 L288.42,74.62 L288.93,73.10 L289.53,71.74 L290.21,70.58 L290.95,69.64 L291.74,68.96 L292.56,68.54 L293.40,68.40 L294.24,68.54 L295.06,68.96 L295.85,69.64 L296.59,70.58 L297.27,71.74 L297.87,73.10 L298.38,74.62 L298.78,76.28 L299.06,78.02Z" fill="#dadada" stroke="#a0a0a0" stroke-width="0.45"/>
<path d="M297.06,79.80 L297.06,81.41 L296.97,82.99 L296.78,84.48 L296.50,85.86 L296.13,87.09 L295.69,88.14 L295.18,88.98 L294.62,89.60 L294.02,89.98 L293.40,90.11 L292.78,89.98 L292.18,89.60 L291.62,88.98 L291.11,88.14 L290.67,87.09 L290.30,85.86 L290.02,84.48 L289.83,82.99 L289.74,81.41 L289.74,79.80 L289.83,78.19 L290.00,76.61 L290.26,75.12 L290.58,73.74 L290.96,72.51 L291.39,71.46 L291.86,70.62 L292.35,70.00 L292.87,69.62 L293.40,69.49 L293.93,69.62 L294.45,70.00 L294.94,70.62 L295.41,71.46 L295.84,72.51 L296.22,73.74 L296.54,75.12 L296.80,76.61 L296.97,78.19Z" fill="#d2d2d2" stroke="#a0a0a0" stroke-width="0.45"/>
<path d="M295.31,79.80 L295.31,81.20 L295.26,82.56 L295.17,83.86 L295.02,85.06 L294.83,86.12 L294.60,87.04 L294.33,87.77 L294.04,88.31 L293.72,88.63 L293.40,88.74 L293.08,88.63 L292.76,88.31 L292.47,87.77 L292.20,87.04 L291.97,86.12 L291.78,85.06 L291.63,83.86 L291.54,82.56 L291.49,81.20 L291.49,79.80 L291.53,78.40 L291.63,77.04 L291.76,75.74 L291.92,74.54 L292.12,73.48 L292.35,72.56 L292.59,71.83 L292.85,71.29 L293.12,70.97 L293.40,70.86 L293.68,70.97 L293.95,71.29 L294.21,71.83 L294.45,72.56 L294.68,73.48 L294.88,74.54 L295.04,75.74 L295.17,77.04 L295.27,78.40Z" fill="#d8d8d8" stroke="#a0a0a0" stroke-width="0.45"/>
<path d="M294.03,79.80 L294.03,80.90 L294.02,81.97 L293.98,82.99 L293.93,83.92 L293.87,84.76 L293.79,85.48 L293.71,86.05 L293.61,86.47 L293.51,86.73 L293.40,86.82 L293.29,86.73 L293.19,86.47 L293.09,86.05 L293.01,85.48 L292.93,84.76 L292.87,83.92 L292.82,82.99 L292.78,81.97 L292.77,80.90 L292.77,79.80 L292.78,78.70 L292.81,77.63 L292.86,76.61 L292.91,75.68 L292.98,74.84 L293.05,74.12 L293.13,73.55 L293.22,73.13 L293.31,72.87 L293.40,72.78 L293.49,72.87 L293.58,73.13 L293.67,73.55 L293.75,74.12 L293.82,74.84 L293.89,75.68 L293.94,76.61 L293.99,77.63 L294.02,78.70Z" fill="#e0e0e0" stroke="#a0a0a0" stroke-width="0.45"/>
<path d="M287,91.8 Q293,90.3 300,91.8" stroke="#333" stroke-width="1.1" fill="none"/>
<ellipse cx="316.9" cy="56.9" rx="4.3" ry="5.2" transform="rotate(-25 316.9 56.9)" fill="#cdcdcd"/>
<ellipse cx="316.9" cy="56.9" rx="4.30" ry="5.20" transform="rotate(-25 316.9 56.9)" fill="none" stroke="#6a6a6a" stroke-width="0.55"/>
<ellipse cx="316.9" cy="56.9" rx="2.87" ry="3.47" transform="rotate(-25 316.9 56.9)" fill="none" stroke="#6a6a6a" stroke-width="0.55"/>
<ellipse cx="316.9" cy="56.9" rx="1.43" ry="1.73" transform="rotate(-25 316.9 56.9)" fill="none" stroke="#6a6a6a" stroke-width="0.55"/>
<ellipse cx="316.9" cy="56.9" rx="0.95" ry="1.14" fill="#f0f0f0"/>
<rect x="284.10" y="43.50" width="48.30" height="48.80" fill="none" stroke="#111" stroke-width="1.3"/>
<line x1="281.50" y1="91.70" x2="284.10" y2="91.70" stroke="#1a1a1a" stroke-width="0.9" />
<line x1="281.50" y1="78.10" x2="284.10" y2="78.10" stroke="#1a1a1a" stroke-width="0.9" />
<line x1="281.50" y1="64.50" x2="284.10" y2="64.50" stroke="#1a1a1a" stroke-width="0.9" />
<line x1="281.50" y1="50.90" x2="284.10" y2="50.90" stroke="#1a1a1a" stroke-width="0.9" />
<line x1="284.30" y1="92.30" x2="284.30" y2="94.70" stroke="#1a1a1a" stroke-width="0.9" />
<line x1="297.90" y1="92.30" x2="297.90" y2="94.70" stroke="#1a1a1a" stroke-width="0.9" />
<line x1="311.50" y1="92.30" x2="311.50" y2="94.70" stroke="#1a1a1a" stroke-width="0.9" />
<line x1="325.10" y1="92.30" x2="325.10" y2="94.70" stroke="#1a1a1a" stroke-width="0.9" />
<polygon points="303.3,55.1 306.6,49.6 317.5,49.2 310.9,58.9" fill="none" stroke="#111" stroke-width="0.95" stroke-linejoin="round"/>
<ellipse cx="318.2" cy="56" rx="6.9" ry="7.8" transform="rotate(-20 318.2 56)" fill="none" stroke="#222" stroke-width="1.0" stroke-dasharray="2.3,1.5"/>
<text x="285.30" y="49.50" font-size="5.5" fill="#222" textLength="28.70" lengthAdjust="spacingAndGlyphs" stroke="#222" stroke-width="0.12" >CD19⁺B220⁻</text>
<text x="285.30" y="55.10" font-size="5.5" fill="#222" textLength="7.00" lengthAdjust="spacingAndGlyphs" stroke="#222" stroke-width="0.12" >5%</text>
<text x="321.10" y="69.00" font-size="5.5" fill="#222" textLength="9.80" lengthAdjust="spacingAndGlyphs" stroke="#222" stroke-width="0.12" >34%</text>
<text x="315.20" y="75.50" font-size="5.5" fill="#222" textLength="15.70" lengthAdjust="spacingAndGlyphs" stroke="#222" stroke-width="0.12" >CD19⁺</text>
<text x="315.20" y="81.40" font-size="5.5" fill="#222" textLength="13.80" lengthAdjust="spacingAndGlyphs" stroke="#222" stroke-width="0.12" >B220⁺</text>
<path d="M369.1 66.2h0.6v0.6h-0.6zM363.1 93.0h0.6v0.6h-0.6zM352.4 61.8h0.6v0.6h-0.6zM353.5 57.0h0.6v0.6h-0.6zM346.7 77.5h0.6v0.6h-0.6zM356.9 56.5h0.6v0.6h-0.6zM348.6 80.5h0.6v0.6h-0.6zM353.5 69.3h0.6v0.6h-0.6zM365.2 89.3h0.6v0.6h-0.6zM376.3 83.0h0.6v0.6h-0.6zM363.7 76.6h0.6v0.6h-0.6zM374.8 86.0h0.6v0.6h-0.6zM358.4 80.2h0.6v0.6h-0.6zM365.4 74.7h0.6v0.6h-0.6zM357.2 59.1h0.6v0.6h-0.6zM357.2 57.8h0.6v0.6h-0.6zM374.0 80.2h0.6v0.6h-0.6zM352.0 87.7h0.6v0.6h-0.6zM368.8 56.9h0.6v0.6h-0.6zM376.5 81.5h0.6v0.6h-0.6zM376.2 64.0h0.6v0.6h-0.6zM368.0 79.7h0.6v0.6h-0.6zM364.4 76.4h0.6v0.6h-0.6zM370.8 59.3h0.6v0.6h-0.6zM351.7 60.4h0.6v0.6h-0.6zM355.8 66.1h0.6v0.6h-0.6zM366.3 77.7h0.6v0.6h-0.6zM362.4 65.0h0.6v0.6h-0.6zM357.3 85.8h0.6v0.6h-0.6zM370.5 75.3h0.6v0.6h-0.6zM359.1 90.6h0.6v0.6h-0.6zM355.5 82.4h0.6v0.6h-0.6zM373.8 70.8h0.6v0.6h-0.6zM370.0 61.4h0.6v0.6h-0.6zM372.7 76.5h0.6v0.6h-0.6zM348.2 80.8h0.6v0.6h-0.6zM353.8 87.8h0.6v0.6h-0.6zM354.3 71.8h0.6v0.6h-0.6zM365.3 69.4h0.6v0.6h-0.6zM365.0 66.5h0.6v0.6h-0.6zM369.6 74.1h0.6v0.6h-0.6zM363.3 54.3h0.6v0.6h-0.6zM373.9 74.4h0.6v0.6h-0.6zM346.8 75.0h0.6v0.6h-0.6zM366.8 86.9h0.6v0.6h-0.6zM353.1 88.9h0.6v0.6h-0.6zM360.9 93.4h0.6v0.6h-0.6zM360.3 83.1h0.6v0.6h-0.6zM358.3 60.6h0.6v0.6h-0.6zM372.5 84.2h0.6v0.6h-0.6zM375.2 82.6h0.6v0.6h-0.6zM357.1 57.2h0.6v0.6h-0.6zM355.0 65.4h0.6v0.6h-0.6zM353.3 81.3h0.6v0.6h-0.6zM365.9 70.3h0.6v0.6h-0.6zM364.1 72.0h0.6v0.6h-0.6zM364.4 83.9h0.6v0.6h-0.6zM371.8 65.8h0.6v0.6h-0.6zM350.4 86.9h0.6v0.6h-0.6zM363.2 87.5h0.6v0.6h-0.6zM347.5 70.6h0.6v0.6h-0.6zM362.3 57.9h0.6v0.6h-0.6zM356.4 83.3h0.6v0.6h-0.6zM370.7 89.2h0.6v0.6h-0.6zM354.3 59.3h0.6v0.6h-0.6zM367.5 85.6h0.6v0.6h-0.6zM363.9 58.9h0.6v0.6h-0.6zM370.1 83.7h0.6v0.6h-0.6zM368.2 67.6h0.6v0.6h-0.6zM365.4 84.3h0.6v0.6h-0.6zM357.5 56.4h0.6v0.6h-0.6zM365.8 80.5h0.6v0.6h-0.6zM362.1 85.4h0.6v0.6h-0.6zM355.2 72.9h0.6v0.6h-0.6zM358.5 81.7h0.6v0.6h-0.6zM376.3 71.3h0.6v0.6h-0.6zM375.4 85.7h0.6v0.6h-0.6zM370.5 81.4h0.6v0.6h-0.6zM377.1 72.2h0.6v0.6h-0.6zM360.8 60.9h0.6v0.6h-0.6zM366.5 89.1h0.6v0.6h-0.6zM368.0 79.7h0.6v0.6h-0.6zM359.6 76.4h0.6v0.6h-0.6zM349.8 84.5h0.6v0.6h-0.6zM357.8 60.7h0.6v0.6h-0.6zM354.2 63.9h0.6v0.6h-0.6zM370.3 86.1h0.6v0.6h-0.6zM349.9 83.7h0.6v0.6h-0.6zM371.3 66.8h0.6v0.6h-0.6zM348.8 66.2h0.6v0.6h-0.6zM354.8 78.5h0.6v0.6h-0.6zM359.2 55.5h0.6v0.6h-0.6zM364.1 57.5h0.6v0.6h-0.6zM370.4 60.8h0.6v0.6h-0.6zM354.8 63.5h0.6v0.6h-0.6zM356.8 88.6h0.6v0.6h-0.6zM371.0 81.5h0.6v0.6h-0.6zM364.9 57.5h0.6v0.6h-0.6zM356.2 66.7h0.6v0.6h-0.6zM351.8 80.2h0.6v0.6h-0.6zM354.1 65.1h0.6v0.6h-0.6zM354.6 56.8h0.6v0.6h-0.6zM367.6 88.8h0.6v0.6h-0.6zM363.9 61.7h0.6v0.6h-0.6zM345.3 75.3h0.6v0.6h-0.6zM374.2 77.5h0.6v0.6h-0.6zM370.0 89.0h0.6v0.6h-0.6zM373.4 68.7h0.6v0.6h-0.6zM372.4 83.0h0.6v0.6h-0.6zM348.1 69.7h0.6v0.6h-0.6zM348.4 72.8h0.6v0.6h-0.6zM367.8 61.3h0.6v0.6h-0.6zM348.0 84.4h0.6v0.6h-0.6zM365.5 90.0h0.6v0.6h-0.6zM350.4 84.9h0.6v0.6h-0.6zM374.1 87.8h0.6v0.6h-0.6zM359.5 77.8h0.6v0.6h-0.6zM360.4 86.5h0.6v0.6h-0.6zM373.0 75.1h0.6v0.6h-0.6zM349.5 82.0h0.6v0.6h-0.6zM356.8 82.3h0.6v0.6h-0.6zM364.3 91.0h0.6v0.6h-0.6zM373.5 68.6h0.6v0.6h-0.6zM365.0 91.6h0.6v0.6h-0.6zM355.9 79.8h0.6v0.6h-0.6zM372.3 86.8h0.6v0.6h-0.6zM367.0 59.2h0.6v0.6h-0.6zM349.5 76.9h0.6v0.6h-0.6zM364.5 93.4h0.6v0.6h-0.6zM353.8 86.7h0.6v0.6h-0.6zM368.4 57.6h0.6v0.6h-0.6zM353.0 76.2h0.6v0.6h-0.6zM356.3 71.9h0.6v0.6h-0.6zM367.1 63.7h0.6v0.6h-0.6zM367.2 65.7h0.6v0.6h-0.6zM355.9 81.1h0.6v0.6h-0.6zM355.4 77.9h0.6v0.6h-0.6zM376.4 74.3h0.6v0.6h-0.6zM360.4 83.7h0.6v0.6h-0.6zM358.2 87.1h0.6v0.6h-0.6zM349.8 80.9h0.6v0.6h-0.6zM356.5 63.9h0.6v0.6h-0.6zM376.2 66.0h0.6v0.6h-0.6zM376.5 80.4h0.6v0.6h-0.6zM374.5 64.1h0.6v0.6h-0.6zM371.8 88.1h0.6v0.6h-0.6zM360.6 72.2h0.6v0.6h-0.6zM378.5 75.4h0.6v0.6h-0.6zM357.3 65.7h0.6v0.6h-0.6zM367.2 78.5h0.6v0.6h-0.6zM363.5 91.5h0.6v0.6h-0.6zM358.2 80.4h0.6v0.6h-0.6zM374.5 63.9h0.6v0.6h-0.6zM369.9 90.4h0.6v0.6h-0.6zM350.3 62.9h0.6v0.6h-0.6zM354.1 57.5h0.6v0.6h-0.6zM365.7 56.2h0.6v0.6h-0.6zM366.6 89.7h0.6v0.6h-0.6zM347.6 70.7h0.6v0.6h-0.6zM347.2 81.1h0.6v0.6h-0.6zM353.8 70.5h0.6v0.6h-0.6zM362.6 81.4h0.6v0.6h-0.6zM357.9 74.2h0.6v0.6h-0.6zM355.7 75.6h0.6v0.6h-0.6zM350.0 74.8h0.6v0.6h-0.6zM346.7 69.4h0.6v0.6h-0.6zM377.6 74.8h0.6v0.6h-0.6zM349.5 77.0h0.6v0.6h-0.6zM354.1 58.2h0.6v0.6h-0.6zM354.2 83.2h0.6v0.6h-0.6zM366.5 72.7h0.6v0.6h-0.6zM353.2 61.9h0.6v0.6h-0.6zM375.1 76.8h0.6v0.6h-0.6zM355.3 56.4h0.6v0.6h-0.6zM353.8 91.3h0.6v0.6h-0.6zM350.2 73.1h0.6v0.6h-0.6zM364.5 71.8h0.6v0.6h-0.6zM359.3 58.5h0.6v0.6h-0.6zM353.7 89.8h0.6v0.6h-0.6zM354.2 84.3h0.6v0.6h-0.6zM347.3 71.2h0.6v0.6h-0.6zM364.7 86.8h0.6v0.6h-0.6zM350.8 81.0h0.6v0.6h-0.6zM366.3 64.4h0.6v0.6h-0.6zM367.1 62.8h0.6v0.6h-0.6zM353.1 73.8h0.6v0.6h-0.6zM345.2 73.2h0.6v0.6h-0.6zM353.5 59.3h0.6v0.6h-0.6zM357.3 83.8h0.6v0.6h-0.6zM358.0 88.6h0.6v0.6h-0.6zM352.0 60.7h0.6v0.6h-0.6zM376.0 78.2h0.6v0.6h-0.6zM371.4 64.3h0.6v0.6h-0.6zM370.9 77.4h0.6v0.6h-0.6zM369.4 74.3h0.6v0.6h-0.6zM373.7 66.6h0.6v0.6h-0.6zM353.8 59.1h0.6v0.6h-0.6zM373.2 65.6h0.6v0.6h-0.6zM352.0 63.4h0.6v0.6h-0.6zM357.7 59.4h0.6v0.6h-0.6z" fill="#c4c4c4"/>
<path d="M355.0 72.4h0.6v0.6h-0.6zM353.1 69.4h0.6v0.6h-0.6zM357.3 73.9h0.6v0.6h-0.6zM357.8 80.2h0.6v0.6h-0.6zM359.4 58.3h0.6v0.6h-0.6zM353.3 70.8h0.6v0.6h-0.6zM362.4 63.8h0.6v0.6h-0.6zM352.0 75.4h0.6v0.6h-0.6zM354.6 86.9h0.6v0.6h-0.6zM353.9 86.7h0.6v0.6h-0.6zM346.7 61.7h0.6v0.6h-0.6zM365.5 81.9h0.6v0.6h-0.6zM360.4 79.1h0.6v0.6h-0.6zM360.4 67.1h0.6v0.6h-0.6zM363.6 73.2h0.6v0.6h-0.6zM363.9 78.8h0.6v0.6h-0.6zM364.9 76.8h0.6v0.6h-0.6zM354.2 80.2h0.6v0.6h-0.6zM354.0 73.1h0.6v0.6h-0.6zM357.7 79.3h0.6v0.6h-0.6zM367.6 78.4h0.6v0.6h-0.6zM369.0 87.6h0.6v0.6h-0.6zM357.9 79.2h0.6v0.6h-0.6zM356.0 71.4h0.6v0.6h-0.6zM356.5 72.2h0.6v0.6h-0.6zM368.5 82.8h0.6v0.6h-0.6zM353.9 60.8h0.6v0.6h-0.6zM356.6 74.3h0.6v0.6h-0.6zM349.4 67.8h0.6v0.6h-0.6zM356.8 76.7h0.6v0.6h-0.6zM367.1 79.2h0.6v0.6h-0.6zM358.2 74.7h0.6v0.6h-0.6zM352.8 91.5h0.6v0.6h-0.6zM354.6 78.3h0.6v0.6h-0.6zM350.8 86.7h0.6v0.6h-0.6zM347.2 83.1h0.6v0.6h-0.6zM364.7 90.7h0.6v0.6h-0.6zM350.4 87.8h0.6v0.6h-0.6zM352.0 71.2h0.6v0.6h-0.6zM347.7 88.4h0.6v0.6h-0.6zM368.5 72.7h0.6v0.6h-0.6zM351.7 74.9h0.6v0.6h-0.6zM374.6 87.0h0.6v0.6h-0.6zM353.2 61.9h0.6v0.6h-0.6zM352.3 88.7h0.6v0.6h-0.6zM370.1 75.6h0.6v0.6h-0.6zM352.2 73.4h0.6v0.6h-0.6zM349.4 87.6h0.6v0.6h-0.6zM359.0 71.1h0.6v0.6h-0.6zM362.5 78.1h0.6v0.6h-0.6zM348.8 83.6h0.6v0.6h-0.6zM362.9 60.8h0.6v0.6h-0.6zM369.8 82.5h0.6v0.6h-0.6zM362.3 61.3h0.6v0.6h-0.6zM352.0 74.9h0.6v0.6h-0.6zM364.5 64.9h0.6v0.6h-0.6zM350.8 59.7h0.6v0.6h-0.6zM355.3 81.1h0.6v0.6h-0.6zM361.6 75.3h0.6v0.6h-0.6zM348.8 69.6h0.6v0.6h-0.6zM352.4 79.3h0.6v0.6h-0.6zM359.0 68.4h0.6v0.6h-0.6zM367.8 86.5h0.6v0.6h-0.6zM357.7 71.5h0.6v0.6h-0.6zM363.4 70.8h0.6v0.6h-0.6zM347.8 79.8h0.6v0.6h-0.6zM358.7 83.5h0.6v0.6h-0.6zM361.6 90.7h0.6v0.6h-0.6zM351.1 86.8h0.6v0.6h-0.6zM350.1 84.2h0.6v0.6h-0.6zM358.3 80.2h0.6v0.6h-0.6zM363.8 77.8h0.6v0.6h-0.6zM364.8 85.9h0.6v0.6h-0.6zM357.9 72.9h0.6v0.6h-0.6zM351.7 73.3h0.6v0.6h-0.6zM355.6 77.8h0.6v0.6h-0.6zM377.9 83.7h0.6v0.6h-0.6zM362.4 70.3h0.6v0.6h-0.6zM352.0 75.1h0.6v0.6h-0.6zM358.3 68.7h0.6v0.6h-0.6zM368.3 72.9h0.6v0.6h-0.6zM364.5 57.0h0.6v0.6h-0.6zM357.0 80.5h0.6v0.6h-0.6zM358.3 83.4h0.6v0.6h-0.6zM359.0 79.5h0.6v0.6h-0.6zM359.2 76.2h0.6v0.6h-0.6zM351.3 72.8h0.6v0.6h-0.6zM356.6 89.6h0.6v0.6h-0.6zM353.6 70.1h0.6v0.6h-0.6zM353.1 79.7h0.6v0.6h-0.6zM378.2 72.1h0.6v0.6h-0.6zM357.3 80.5h0.6v0.6h-0.6zM356.8 86.4h0.6v0.6h-0.6zM369.4 66.8h0.6v0.6h-0.6zM358.1 75.6h0.6v0.6h-0.6zM359.5 64.2h0.6v0.6h-0.6zM360.7 79.7h0.6v0.6h-0.6zM357.5 56.7h0.6v0.6h-0.6zM354.4 71.2h0.6v0.6h-0.6zM347.1 69.8h0.6v0.6h-0.6zM361.9 82.9h0.6v0.6h-0.6zM356.8 82.6h0.6v0.6h-0.6zM352.8 78.6h0.6v0.6h-0.6zM357.3 83.0h0.6v0.6h-0.6zM356.5 76.7h0.6v0.6h-0.6zM356.1 72.2h0.6v0.6h-0.6zM372.6 82.6h0.6v0.6h-0.6zM366.8 64.0h0.6v0.6h-0.6zM361.9 85.5h0.6v0.6h-0.6zM370.2 89.8h0.6v0.6h-0.6zM362.4 67.4h0.6v0.6h-0.6zM350.9 80.4h0.6v0.6h-0.6zM360.5 68.8h0.6v0.6h-0.6zM354.3 74.4h0.6v0.6h-0.6zM357.4 81.0h0.6v0.6h-0.6zM355.0 66.9h0.6v0.6h-0.6zM356.3 87.2h0.6v0.6h-0.6zM360.1 83.9h0.6v0.6h-0.6zM360.4 71.1h0.6v0.6h-0.6zM361.0 87.1h0.6v0.6h-0.6zM370.9 84.7h0.6v0.6h-0.6zM354.6 72.6h0.6v0.6h-0.6zM351.3 79.0h0.6v0.6h-0.6zM356.8 84.0h0.6v0.6h-0.6zM372.9 77.8h0.6v0.6h-0.6zM361.7 82.3h0.6v0.6h-0.6zM358.9 76.1h0.6v0.6h-0.6zM356.1 70.6h0.6v0.6h-0.6zM358.2 77.8h0.6v0.6h-0.6zM359.2 70.3h0.6v0.6h-0.6zM357.3 78.4h0.6v0.6h-0.6zM361.2 68.4h0.6v0.6h-0.6zM359.9 86.8h0.6v0.6h-0.6zM361.2 74.7h0.6v0.6h-0.6zM353.6 75.9h0.6v0.6h-0.6zM355.9 72.2h0.6v0.6h-0.6zM359.6 79.8h0.6v0.6h-0.6zM350.6 71.4h0.6v0.6h-0.6zM356.3 84.0h0.6v0.6h-0.6zM348.6 68.8h0.6v0.6h-0.6zM360.5 67.0h0.6v0.6h-0.6zM357.8 81.2h0.6v0.6h-0.6zM356.2 68.8h0.6v0.6h-0.6zM356.6 75.0h0.6v0.6h-0.6zM359.4 70.5h0.6v0.6h-0.6zM364.6 62.9h0.6v0.6h-0.6zM355.8 78.1h0.6v0.6h-0.6zM363.7 72.5h0.6v0.6h-0.6zM360.8 72.9h0.6v0.6h-0.6zM354.2 82.0h0.6v0.6h-0.6zM350.5 86.8h0.6v0.6h-0.6zM365.5 78.3h0.6v0.6h-0.6zM349.1 81.6h0.6v0.6h-0.6zM365.0 87.8h0.6v0.6h-0.6zM362.7 61.5h0.6v0.6h-0.6zM352.2 90.8h0.6v0.6h-0.6zM348.4 88.2h0.6v0.6h-0.6zM370.2 84.9h0.6v0.6h-0.6zM364.8 75.0h0.6v0.6h-0.6zM348.4 77.1h0.6v0.6h-0.6zM355.6 77.6h0.6v0.6h-0.6zM361.9 76.7h0.6v0.6h-0.6zM358.3 81.8h0.6v0.6h-0.6zM360.1 78.8h0.6v0.6h-0.6zM355.5 72.4h0.6v0.6h-0.6zM366.4 79.4h0.6v0.6h-0.6zM349.4 72.9h0.6v0.6h-0.6zM356.0 74.0h0.6v0.6h-0.6zM364.6 67.5h0.6v0.6h-0.6zM360.4 79.3h0.6v0.6h-0.6zM348.8 78.4h0.6v0.6h-0.6zM356.3 82.5h0.6v0.6h-0.6zM353.8 80.7h0.6v0.6h-0.6zM362.5 87.4h0.6v0.6h-0.6zM356.9 72.6h0.6v0.6h-0.6zM364.6 59.2h0.6v0.6h-0.6zM351.4 84.0h0.6v0.6h-0.6zM361.6 68.7h0.6v0.6h-0.6zM358.1 69.9h0.6v0.6h-0.6zM357.4 86.1h0.6v0.6h-0.6zM362.2 59.3h0.6v0.6h-0.6zM362.4 62.0h0.6v0.6h-0.6zM365.0 81.6h0.6v0.6h-0.6zM372.8 72.5h0.6v0.6h-0.6zM357.0 87.4h0.6v0.6h-0.6zM352.5 71.7h0.6v0.6h-0.6zM354.4 77.3h0.6v0.6h-0.6zM349.4 82.4h0.6v0.6h-0.6zM360.8 78.6h0.6v0.6h-0.6zM368.9 75.1h0.6v0.6h-0.6zM366.1 73.1h0.6v0.6h-0.6zM362.3 60.6h0.6v0.6h-0.6zM358.4 76.4h0.6v0.6h-0.6zM353.5 72.5h0.6v0.6h-0.6zM354.6 71.5h0.6v0.6h-0.6zM353.2 73.3h0.6v0.6h-0.6zM349.6 76.8h0.6v0.6h-0.6zM362.5 75.7h0.6v0.6h-0.6zM353.6 90.2h0.6v0.6h-0.6zM363.8 86.3h0.6v0.6h-0.6zM365.1 75.1h0.6v0.6h-0.6zM356.1 88.0h0.6v0.6h-0.6zM353.1 76.9h0.6v0.6h-0.6zM359.6 81.4h0.6v0.6h-0.6zM355.1 86.9h0.6v0.6h-0.6zM355.8 84.5h0.6v0.6h-0.6zM364.5 83.9h0.6v0.6h-0.6zM362.1 67.6h0.6v0.6h-0.6zM347.8 72.4h0.6v0.6h-0.6zM360.3 91.5h0.6v0.6h-0.6zM348.4 80.8h0.6v0.6h-0.6zM351.0 71.4h0.6v0.6h-0.6zM355.1 84.2h0.6v0.6h-0.6zM358.5 88.6h0.6v0.6h-0.6zM350.1 86.0h0.6v0.6h-0.6zM363.5 78.6h0.6v0.6h-0.6zM360.3 72.9h0.6v0.6h-0.6zM349.4 74.4h0.6v0.6h-0.6zM358.4 80.8h0.6v0.6h-0.6zM362.2 71.0h0.6v0.6h-0.6zM363.4 81.4h0.6v0.6h-0.6zM346.4 83.4h0.6v0.6h-0.6zM360.9 82.1h0.6v0.6h-0.6zM368.1 74.3h0.6v0.6h-0.6zM360.6 84.7h0.6v0.6h-0.6zM350.7 88.8h0.6v0.6h-0.6zM346.8 66.3h0.6v0.6h-0.6zM360.7 68.2h0.6v0.6h-0.6zM356.2 63.2h0.6v0.6h-0.6zM357.5 67.8h0.6v0.6h-0.6z" fill="#a8a8a8"/>
<path d="M368.1 56.8h0.6v0.6h-0.6zM368.7 64.4h0.6v0.6h-0.6zM366.4 65.6h0.6v0.6h-0.6zM366.8 58.1h0.6v0.6h-0.6zM350.6 66.2h0.6v0.6h-0.6zM360.4 63.3h0.6v0.6h-0.6zM368.6 54.1h0.6v0.6h-0.6zM361.4 62.3h0.6v0.6h-0.6zM359.7 68.0h0.6v0.6h-0.6zM365.2 61.1h0.6v0.6h-0.6zM360.1 70.8h0.6v0.6h-0.6zM362.0 69.5h0.6v0.6h-0.6zM368.7 54.6h0.6v0.6h-0.6zM359.5 66.0h0.6v0.6h-0.6zM368.1 70.7h0.6v0.6h-0.6zM370.8 72.2h0.6v0.6h-0.6zM363.8 64.7h0.6v0.6h-0.6zM370.7 63.4h0.6v0.6h-0.6zM372.3 56.5h0.6v0.6h-0.6zM369.9 65.0h0.6v0.6h-0.6zM354.2 71.9h0.6v0.6h-0.6zM367.9 66.1h0.6v0.6h-0.6zM359.5 63.2h0.6v0.6h-0.6zM375.1 61.0h0.6v0.6h-0.6zM358.8 65.2h0.6v0.6h-0.6zM363.6 60.5h0.6v0.6h-0.6zM360.9 72.3h0.6v0.6h-0.6zM357.3 77.7h0.6v0.6h-0.6zM362.7 59.4h0.6v0.6h-0.6zM370.7 69.4h0.6v0.6h-0.6zM359.7 70.5h0.6v0.6h-0.6zM355.0 60.5h0.6v0.6h-0.6zM372.8 64.5h0.6v0.6h-0.6zM358.2 69.1h0.6v0.6h-0.6zM371.5 65.9h0.6v0.6h-0.6zM355.2 63.9h0.6v0.6h-0.6zM368.5 70.6h0.6v0.6h-0.6zM377.1 64.5h0.6v0.6h-0.6zM363.1 65.8h0.6v0.6h-0.6zM373.2 60.4h0.6v0.6h-0.6zM373.8 49.5h0.6v0.6h-0.6zM370.8 61.9h0.6v0.6h-0.6zM368.8 70.1h0.6v0.6h-0.6zM358.9 65.5h0.6v0.6h-0.6zM367.4 69.5h0.6v0.6h-0.6zM360.4 60.1h0.6v0.6h-0.6zM354.5 81.2h0.6v0.6h-0.6zM364.8 64.7h0.6v0.6h-0.6zM357.0 71.6h0.6v0.6h-0.6zM362.8 74.6h0.6v0.6h-0.6zM371.1 66.1h0.6v0.6h-0.6zM370.4 59.3h0.6v0.6h-0.6zM364.0 62.5h0.6v0.6h-0.6zM358.4 66.1h0.6v0.6h-0.6zM365.1 74.6h0.6v0.6h-0.6zM360.5 63.2h0.6v0.6h-0.6zM368.5 68.4h0.6v0.6h-0.6zM366.2 63.2h0.6v0.6h-0.6zM369.0 68.2h0.6v0.6h-0.6zM354.9 64.4h0.6v0.6h-0.6zM357.8 58.9h0.6v0.6h-0.6zM366.9 66.4h0.6v0.6h-0.6zM366.7 60.7h0.6v0.6h-0.6zM364.8 60.5h0.6v0.6h-0.6zM368.3 70.1h0.6v0.6h-0.6zM376.5 73.6h0.6v0.6h-0.6zM361.2 63.3h0.6v0.6h-0.6zM360.4 67.8h0.6v0.6h-0.6zM377.9 70.3h0.6v0.6h-0.6zM352.8 58.5h0.6v0.6h-0.6zM358.2 69.1h0.6v0.6h-0.6zM366.0 67.8h0.6v0.6h-0.6zM376.7 61.0h0.6v0.6h-0.6zM360.9 77.8h0.6v0.6h-0.6zM368.1 61.3h0.6v0.6h-0.6zM353.8 56.9h0.6v0.6h-0.6zM351.3 66.4h0.6v0.6h-0.6zM366.3 72.0h0.6v0.6h-0.6zM365.2 61.8h0.6v0.6h-0.6zM361.6 77.4h0.6v0.6h-0.6zM355.4 67.0h0.6v0.6h-0.6zM366.2 69.7h0.6v0.6h-0.6zM363.6 69.0h0.6v0.6h-0.6zM370.9 65.1h0.6v0.6h-0.6zM363.3 64.9h0.6v0.6h-0.6zM360.2 64.8h0.6v0.6h-0.6zM364.2 67.3h0.6v0.6h-0.6zM374.0 73.8h0.6v0.6h-0.6zM363.3 69.6h0.6v0.6h-0.6zM367.8 70.6h0.6v0.6h-0.6zM366.1 67.6h0.6v0.6h-0.6zM363.2 61.3h0.6v0.6h-0.6zM371.2 73.8h0.6v0.6h-0.6zM370.0 68.6h0.6v0.6h-0.6zM367.6 63.3h0.6v0.6h-0.6zM355.3 70.0h0.6v0.6h-0.6zM367.2 62.7h0.6v0.6h-0.6zM360.2 73.7h0.6v0.6h-0.6zM355.2 76.6h0.6v0.6h-0.6zM369.8 80.2h0.6v0.6h-0.6zM361.7 65.9h0.6v0.6h-0.6zM363.0 66.9h0.6v0.6h-0.6zM364.7 61.5h0.6v0.6h-0.6zM372.4 61.3h0.6v0.6h-0.6zM363.0 69.3h0.6v0.6h-0.6zM362.8 63.4h0.6v0.6h-0.6zM368.1 63.8h0.6v0.6h-0.6zM358.5 65.4h0.6v0.6h-0.6zM364.7 76.2h0.6v0.6h-0.6zM359.4 71.8h0.6v0.6h-0.6zM361.3 63.9h0.6v0.6h-0.6zM364.0 67.6h0.6v0.6h-0.6zM371.2 76.5h0.6v0.6h-0.6zM362.2 74.0h0.6v0.6h-0.6zM372.0 70.9h0.6v0.6h-0.6zM361.4 71.4h0.6v0.6h-0.6zM365.4 68.1h0.6v0.6h-0.6zM364.4 70.0h0.6v0.6h-0.6z" fill="#b0b0b0"/>
<path d="M361.38,80.80 L361.38,82.67 L361.23,84.50 L360.92,86.23 L360.47,87.83 L359.87,89.26 L359.14,90.48 L358.31,91.46 L357.39,92.17 L356.41,92.61 L355.40,92.76 L354.39,92.61 L353.41,92.17 L352.49,91.46 L351.66,90.48 L350.93,89.26 L350.33,87.83 L349.88,86.23 L349.57,84.50 L349.42,82.67 L349.42,80.80 L349.57,78.93 L349.85,77.10 L350.27,75.37 L350.79,73.77 L351.41,72.34 L352.11,71.12 L352.88,70.14 L353.69,69.43 L354.54,68.99 L355.40,68.84 L356.26,68.99 L357.11,69.43 L357.92,70.14 L358.69,71.12 L359.39,72.34 L360.01,73.77 L360.53,75.37 L360.95,77.10 L361.23,78.93Z" fill="#f1f1f1" stroke="none"/>
<path d="M360.60,80.80 L360.60,82.43 L360.47,84.01 L360.20,85.52 L359.80,86.91 L359.28,88.15 L358.65,89.21 L357.93,90.07 L357.13,90.69 L356.28,91.07 L355.40,91.20 L354.52,91.07 L353.67,90.69 L352.87,90.07 L352.15,89.21 L351.52,88.15 L351.00,86.91 L350.60,85.52 L350.33,84.01 L350.20,82.43 L350.20,80.80 L350.33,79.17 L350.58,77.59 L350.94,76.08 L351.39,74.69 L351.93,73.45 L352.54,72.39 L353.21,71.53 L353.92,70.91 L354.65,70.53 L355.40,70.40 L356.15,70.53 L356.88,70.91 L357.59,71.53 L358.26,72.39 L358.87,73.45 L359.41,74.69 L359.86,76.08 L360.22,77.59 L360.47,79.17Z" fill="#dadada" stroke="#a0a0a0" stroke-width="0.45"/>
<path d="M358.68,80.80 L358.68,82.27 L358.60,83.71 L358.43,85.07 L358.18,86.33 L357.85,87.45 L357.45,88.41 L357.00,89.18 L356.49,89.74 L355.95,90.09 L355.40,90.20 L354.85,90.09 L354.31,89.74 L353.80,89.18 L353.35,88.41 L352.95,87.45 L352.62,86.33 L352.37,85.07 L352.20,83.71 L352.12,82.27 L352.12,80.80 L352.20,79.33 L352.36,77.89 L352.58,76.53 L352.87,75.27 L353.21,74.15 L353.60,73.19 L354.02,72.42 L354.46,71.86 L354.93,71.51 L355.40,71.40 L355.87,71.51 L356.34,71.86 L356.78,72.42 L357.20,73.19 L357.59,74.15 L357.93,75.27 L358.22,76.53 L358.44,77.89 L358.60,79.33Z" fill="#d2d2d2" stroke="#a0a0a0" stroke-width="0.45"/>
<path d="M357.12,80.80 L357.12,82.08 L357.07,83.32 L356.98,84.50 L356.85,85.60 L356.68,86.57 L356.47,87.40 L356.23,88.07 L355.97,88.56 L355.69,88.86 L355.40,88.96 L355.11,88.86 L354.83,88.56 L354.57,88.07 L354.33,87.40 L354.12,86.57 L353.95,85.60 L353.82,84.50 L353.73,83.32 L353.68,82.08 L353.68,80.80 L353.73,79.52 L353.81,78.28 L353.93,77.10 L354.08,76.00 L354.26,75.03 L354.46,74.20 L354.68,73.53 L354.91,73.04 L355.15,72.74 L355.40,72.64 L355.65,72.74 L355.89,73.04 L356.12,73.53 L356.34,74.20 L356.54,75.03 L356.72,76.00 L356.87,77.10 L356.99,78.28 L357.07,79.52Z" fill="#d8d8d8" stroke="#a0a0a0" stroke-width="0.45"/>
<path d="M355.97,80.80 L355.97,81.80 L355.95,82.78 L355.92,83.71 L355.88,84.56 L355.82,85.33 L355.75,85.98 L355.68,86.50 L355.59,86.89 L355.50,87.12 L355.40,87.20 L355.30,87.12 L355.21,86.89 L355.12,86.50 L355.05,85.98 L354.98,85.33 L354.92,84.56 L354.88,83.71 L354.85,82.78 L354.83,81.80 L354.83,80.80 L354.85,79.80 L354.88,78.82 L354.91,77.89 L354.96,77.04 L355.02,76.27 L355.09,75.62 L355.16,75.10 L355.24,74.71 L355.32,74.48 L355.40,74.40 L355.48,74.48 L355.56,74.71 L355.64,75.10 L355.71,75.62 L355.78,76.27 L355.84,77.04 L355.89,77.89 L355.92,78.82 L355.95,79.80Z" fill="#e0e0e0" stroke="#a0a0a0" stroke-width="0.45"/>
<path d="M349,91.8 Q355,89.9 362,91.8" stroke="#222" stroke-width="1.3" fill="none"/>
<ellipse cx="377.4" cy="57.2" rx="5.3" ry="5.3" transform="rotate(-20 377.4 57.2)" fill="#c4c4c4"/>
<ellipse cx="377.4" cy="57.2" rx="5.30" ry="5.30" transform="rotate(-20 377.4 57.2)" fill="none" stroke="#555" stroke-width="0.55"/>
<ellipse cx="377.4" cy="57.2" rx="3.97" ry="3.97" transform="rotate(-20 377.4 57.2)" fill="none" stroke="#555" stroke-width="0.55"/>
<ellipse cx="377.4" cy="57.2" rx="2.65" ry="2.65" transform="rotate(-20 377.4 57.2)" fill="none" stroke="#555" stroke-width="0.55"/>
<ellipse cx="377.4" cy="57.2" rx="1.32" ry="1.32" transform="rotate(-20 377.4 57.2)" fill="none" stroke="#555" stroke-width="0.55"/>
<ellipse cx="377.4" cy="57.2" rx="1.17" ry="1.17" fill="#f0f0f0"/>
<rect x="345.20" y="43.50" width="49.50" height="48.80" fill="none" stroke="#111" stroke-width="1.3"/>
<line x1="342.60" y1="91.70" x2="345.20" y2="91.70" stroke="#1a1a1a" stroke-width="0.9" />
<line x1="342.60" y1="78.10" x2="345.20" y2="78.10" stroke="#1a1a1a" stroke-width="0.9" />
<line x1="342.60" y1="64.50" x2="345.20" y2="64.50" stroke="#1a1a1a" stroke-width="0.9" />
<line x1="342.60" y1="50.90" x2="345.20" y2="50.90" stroke="#1a1a1a" stroke-width="0.9" />
<line x1="345.40" y1="92.30" x2="345.40" y2="94.70" stroke="#1a1a1a" stroke-width="0.9" />
<line x1="359.00" y1="92.30" x2="359.00" y2="94.70" stroke="#1a1a1a" stroke-width="0.9" />
<line x1="372.60" y1="92.30" x2="372.60" y2="94.70" stroke="#1a1a1a" stroke-width="0.9" />
<line x1="386.20" y1="92.30" x2="386.20" y2="94.70" stroke="#1a1a1a" stroke-width="0.9" />
<polygon points="360.6,51.6 372.5,51.0 370.2,59.5 360.9,58.9" fill="none" stroke="#111" stroke-width="0.95" stroke-linejoin="round"/>
<ellipse cx="379.1" cy="57" rx="8.8" ry="9.1" fill="none" stroke="#222" stroke-width="1.0" stroke-dasharray="2.3,1.5"/>
<text x="346.80" y="49.50" font-size="5.5" fill="#222" textLength="28.00" lengthAdjust="spacingAndGlyphs" stroke="#222" stroke-width="0.12" >CD19⁺B220⁻</text>
<text x="346.90" y="55.30" font-size="5.5" fill="#222" textLength="12.40" lengthAdjust="spacingAndGlyphs" stroke="#222" stroke-width="0.12" >0.9%</text>
<text x="382.10" y="68.40" font-size="5.5" fill="#222" textLength="11.00" lengthAdjust="spacingAndGlyphs" stroke="#222" stroke-width="0.12" >56%</text>
<text x="377.00" y="75.50" font-size="5.5" fill="#222" textLength="16.00" lengthAdjust="spacingAndGlyphs" stroke="#222" stroke-width="0.12" >CD19⁺</text>
<text x="377.00" y="81.40" font-size="5.5" fill="#222" textLength="13.00" lengthAdjust="spacingAndGlyphs" stroke="#222" stroke-width="0.12" >B220⁺</text>
<text x="269.80" y="53.30" font-size="6.8" fill="#1a1a1a" textLength="6.40" lengthAdjust="spacingAndGlyphs" stroke="#1a1a1a" stroke-width="0.18" >10</text>
<text x="276.70" y="50.30" font-size="4.2" fill="#1a1a1a" stroke="#1a1a1a" stroke-width="0.12" >3</text>
<text x="269.80" y="66.90" font-size="6.8" fill="#1a1a1a" textLength="6.40" lengthAdjust="spacingAndGlyphs" stroke="#1a1a1a" stroke-width="0.18" >10</text>
<text x="276.70" y="63.90" font-size="4.2" fill="#1a1a1a" stroke="#1a1a1a" stroke-width="0.12" >2</text>
<text x="269.80" y="80.50" font-size="6.8" fill="#1a1a1a" textLength="6.40" lengthAdjust="spacingAndGlyphs" stroke="#1a1a1a" stroke-width="0.18" >10</text>
<text x="276.70" y="77.50" font-size="4.2" fill="#1a1a1a" stroke="#1a1a1a" stroke-width="0.12" >1</text>
<text x="269.80" y="94.10" font-size="6.8" fill="#1a1a1a" textLength="6.40" lengthAdjust="spacingAndGlyphs" stroke="#1a1a1a" stroke-width="0.18" >10</text>
<text x="276.70" y="91.10" font-size="4.2" fill="#1a1a1a" stroke="#1a1a1a" stroke-width="0.12" >0</text>
<text x="280.80" y="103.70" font-size="6.8" fill="#1a1a1a" textLength="6.40" lengthAdjust="spacingAndGlyphs" stroke="#1a1a1a" stroke-width="0.18" >10</text>
<text x="287.70" y="100.70" font-size="4.2" fill="#1a1a1a" stroke="#1a1a1a" stroke-width="0.12" >0</text>
<text x="294.30" y="103.70" font-size="6.8" fill="#1a1a1a" textLength="6.40" lengthAdjust="spacingAndGlyphs" stroke="#1a1a1a" stroke-width="0.18" >10</text>
<text x="301.20" y="100.70" font-size="4.2" fill="#1a1a1a" stroke="#1a1a1a" stroke-width="0.12" >1</text>
<text x="307.80" y="103.70" font-size="6.8" fill="#1a1a1a" textLength="6.40" lengthAdjust="spacingAndGlyphs" stroke="#1a1a1a" stroke-width="0.18" >10</text>
<text x="314.70" y="100.70" font-size="4.2" fill="#1a1a1a" stroke="#1a1a1a" stroke-width="0.12" >2</text>
<text x="321.40" y="103.70" font-size="6.8" fill="#1a1a1a" textLength="6.40" lengthAdjust="spacingAndGlyphs" stroke="#1a1a1a" stroke-width="0.18" >10</text>
<text x="328.30" y="100.70" font-size="4.2" fill="#1a1a1a" stroke="#1a1a1a" stroke-width="0.12" >3</text>
<text x="341.90" y="103.70" font-size="6.8" fill="#1a1a1a" textLength="6.40" lengthAdjust="spacingAndGlyphs" stroke="#1a1a1a" stroke-width="0.18" >10</text>
<text x="348.80" y="100.70" font-size="4.2" fill="#1a1a1a" stroke="#1a1a1a" stroke-width="0.12" >0</text>
<text x="355.40" y="103.70" font-size="6.8" fill="#1a1a1a" textLength="6.40" lengthAdjust="spacingAndGlyphs" stroke="#1a1a1a" stroke-width="0.18" >10</text>
<text x="362.30" y="100.70" font-size="4.2" fill="#1a1a1a" stroke="#1a1a1a" stroke-width="0.12" >1</text>
<text x="368.90" y="103.70" font-size="6.8" fill="#1a1a1a" textLength="6.40" lengthAdjust="spacingAndGlyphs" stroke="#1a1a1a" stroke-width="0.18" >10</text>
<text x="375.80" y="100.70" font-size="4.2" fill="#1a1a1a" stroke="#1a1a1a" stroke-width="0.12" >2</text>
<text x="382.50" y="103.70" font-size="6.8" fill="#1a1a1a" textLength="6.40" lengthAdjust="spacingAndGlyphs" stroke="#1a1a1a" stroke-width="0.18" >10</text>
<text x="389.40" y="100.70" font-size="4.2" fill="#1a1a1a" stroke="#1a1a1a" stroke-width="0.12" >3</text>
<line x1="262.80" y1="81.00" x2="262.80" y2="49.40" stroke="#1a1a1a" stroke-width="0.9" />
<polygon points="260.90,50.20 264.70,50.20 262.80,46.40" fill="#1a1a1a"/>
<text x="266.10" y="99.80" font-size="8.4" fill="#1a1a1a" textLength="17.60" lengthAdjust="spacingAndGlyphs" stroke="#1a1a1a" stroke-width="0.12" transform="rotate(-90 266.10 99.80)" >CD19</text>
<text x="279.00" y="114.60" font-size="8.4" fill="#1a1a1a" textLength="15.80" lengthAdjust="spacingAndGlyphs" stroke="#1a1a1a" stroke-width="0.12" >B220</text>
<line x1="298.00" y1="111.50" x2="391.50" y2="111.50" stroke="#222" stroke-width="1.1" />
<polygon points="390.70,109.60 390.70,113.40 394.50,111.50" fill="#1a1a1a"/>
<polyline points="284.40,163.21 285.50,159.05 287.70,149.99 290.80,136.18 293.10,128.19 295.40,135.49 297.70,148.52 300.00,160.90 303.10,163.81 307.70,166.90 312.30,169.21 318.00,170.37" stroke="#a8173f" stroke-width="1.2" fill="none" stroke-linejoin="round" stroke-dasharray="2.6,1.4"/>
<polyline points="284.50,170.60 296.00,170.60 300.00,169.68 302.00,165.98 303.50,152.12 305.00,135.95 306.00,133.64 307.20,137.34 309.00,156.74 311.00,167.83 314.00,170.14 318.00,170.60 332.00,170.60" stroke="#a8173f" stroke-width="1.2" fill="none" stroke-linejoin="round" />
<rect x="283.80" y="122.50" width="49.20" height="48.10" fill="none" stroke="#111" stroke-width="1.3"/>
<line x1="281.30" y1="124.40" x2="283.80" y2="124.40" stroke="#1a1a1a" stroke-width="0.9" />
<line x1="281.30" y1="133.64" x2="283.80" y2="133.64" stroke="#1a1a1a" stroke-width="0.9" />
<line x1="281.30" y1="142.88" x2="283.80" y2="142.88" stroke="#1a1a1a" stroke-width="0.9" />
<line x1="281.30" y1="152.12" x2="283.80" y2="152.12" stroke="#1a1a1a" stroke-width="0.9" />
<line x1="281.30" y1="161.36" x2="283.80" y2="161.36" stroke="#1a1a1a" stroke-width="0.9" />
<line x1="281.30" y1="170.60" x2="283.80" y2="170.60" stroke="#1a1a1a" stroke-width="0.9" />
<line x1="282.50" y1="126.25" x2="283.80" y2="126.25" stroke="#1a1a1a" stroke-width="0.5" />
<line x1="282.50" y1="128.10" x2="283.80" y2="128.10" stroke="#1a1a1a" stroke-width="0.5" />
<line x1="282.50" y1="129.94" x2="283.80" y2="129.94" stroke="#1a1a1a" stroke-width="0.5" />
<line x1="282.50" y1="131.79" x2="283.80" y2="131.79" stroke="#1a1a1a" stroke-width="0.5" />
<line x1="282.50" y1="135.49" x2="283.80" y2="135.49" stroke="#1a1a1a" stroke-width="0.5" />
<line x1="282.50" y1="137.34" x2="283.80" y2="137.34" stroke="#1a1a1a" stroke-width="0.5" />
<line x1="282.50" y1="139.18" x2="283.80" y2="139.18" stroke="#1a1a1a" stroke-width="0.5" />
<line x1="282.50" y1="141.03" x2="283.80" y2="141.03" stroke="#1a1a1a" stroke-width="0.5" />
<line x1="282.50" y1="144.73" x2="283.80" y2="144.73" stroke="#1a1a1a" stroke-width="0.5" />
<line x1="282.50" y1="146.58" x2="283.80" y2="146.58" stroke="#1a1a1a" stroke-width="0.5" />
<line x1="282.50" y1="148.42" x2="283.80" y2="148.42" stroke="#1a1a1a" stroke-width="0.5" />
<line x1="282.50" y1="150.27" x2="283.80" y2="150.27" stroke="#1a1a1a" stroke-width="0.5" />
<line x1="282.50" y1="153.97" x2="283.80" y2="153.97" stroke="#1a1a1a" stroke-width="0.5" />
<line x1="282.50" y1="155.82" x2="283.80" y2="155.82" stroke="#1a1a1a" stroke-width="0.5" />
<line x1="282.50" y1="157.66" x2="283.80" y2="157.66" stroke="#1a1a1a" stroke-width="0.5" />
<line x1="282.50" y1="159.51" x2="283.80" y2="159.51" stroke="#1a1a1a" stroke-width="0.5" />
<line x1="282.50" y1="163.21" x2="283.80" y2="163.21" stroke="#1a1a1a" stroke-width="0.5" />
<line x1="282.50" y1="165.06" x2="283.80" y2="165.06" stroke="#1a1a1a" stroke-width="0.5" />
<line x1="282.50" y1="166.90" x2="283.80" y2="166.90" stroke="#1a1a1a" stroke-width="0.5" />
<line x1="282.50" y1="168.75" x2="283.80" y2="168.75" stroke="#1a1a1a" stroke-width="0.5" />
<line x1="288.50" y1="170.60" x2="288.50" y2="172.60" stroke="#1a1a1a" stroke-width="0.8" />
<line x1="291.72" y1="170.60" x2="291.72" y2="171.80" stroke="#1a1a1a" stroke-width="0.5" />
<line x1="293.61" y1="170.60" x2="293.61" y2="171.80" stroke="#1a1a1a" stroke-width="0.5" />
<line x1="294.94" y1="170.60" x2="294.94" y2="171.80" stroke="#1a1a1a" stroke-width="0.5" />
<line x1="295.98" y1="170.60" x2="295.98" y2="171.80" stroke="#1a1a1a" stroke-width="0.5" />
<line x1="296.83" y1="170.60" x2="296.83" y2="171.80" stroke="#1a1a1a" stroke-width="0.5" />
<line x1="297.54" y1="170.60" x2="297.54" y2="171.80" stroke="#1a1a1a" stroke-width="0.5" />
<line x1="298.16" y1="170.60" x2="298.16" y2="171.80" stroke="#1a1a1a" stroke-width="0.5" />
<line x1="298.71" y1="170.60" x2="298.71" y2="171.80" stroke="#1a1a1a" stroke-width="0.5" />
<line x1="299.20" y1="170.60" x2="299.20" y2="172.60" stroke="#1a1a1a" stroke-width="0.8" />
<line x1="302.45" y1="170.60" x2="302.45" y2="171.80" stroke="#1a1a1a" stroke-width="0.5" />
<line x1="304.35" y1="170.60" x2="304.35" y2="171.80" stroke="#1a1a1a" stroke-width="0.5" />
<line x1="305.70" y1="170.60" x2="305.70" y2="171.80" stroke="#1a1a1a" stroke-width="0.5" />
<line x1="306.75" y1="170.60" x2="306.75" y2="171.80" stroke="#1a1a1a" stroke-width="0.5" />
<line x1="307.60" y1="170.60" x2="307.60" y2="171.80" stroke="#1a1a1a" stroke-width="0.5" />
<line x1="308.33" y1="170.60" x2="308.33" y2="171.80" stroke="#1a1a1a" stroke-width="0.5" />
<line x1="308.95" y1="170.60" x2="308.95" y2="171.80" stroke="#1a1a1a" stroke-width="0.5" />
<line x1="309.51" y1="170.60" x2="309.51" y2="171.80" stroke="#1a1a1a" stroke-width="0.5" />
<line x1="310.00" y1="170.60" x2="310.00" y2="172.60" stroke="#1a1a1a" stroke-width="0.8" />
<line x1="313.25" y1="170.60" x2="313.25" y2="171.80" stroke="#1a1a1a" stroke-width="0.5" />
<line x1="315.15" y1="170.60" x2="315.15" y2="171.80" stroke="#1a1a1a" stroke-width="0.5" />
<line x1="316.50" y1="170.60" x2="316.50" y2="171.80" stroke="#1a1a1a" stroke-width="0.5" />
<line x1="317.55" y1="170.60" x2="317.55" y2="171.80" stroke="#1a1a1a" stroke-width="0.5" />
<line x1="318.40" y1="170.60" x2="318.40" y2="171.80" stroke="#1a1a1a" stroke-width="0.5" />
<line x1="319.13" y1="170.60" x2="319.13" y2="171.80" stroke="#1a1a1a" stroke-width="0.5" />
<line x1="319.75" y1="170.60" x2="319.75" y2="171.80" stroke="#1a1a1a" stroke-width="0.5" />
<line x1="320.31" y1="170.60" x2="320.31" y2="171.80" stroke="#1a1a1a" stroke-width="0.5" />
<line x1="320.80" y1="170.60" x2="320.80" y2="172.60" stroke="#1a1a1a" stroke-width="0.8" />
<line x1="324.05" y1="170.60" x2="324.05" y2="171.80" stroke="#1a1a1a" stroke-width="0.5" />
<line x1="325.95" y1="170.60" x2="325.95" y2="171.80" stroke="#1a1a1a" stroke-width="0.5" />
<line x1="327.30" y1="170.60" x2="327.30" y2="171.80" stroke="#1a1a1a" stroke-width="0.5" />
<line x1="328.35" y1="170.60" x2="328.35" y2="171.80" stroke="#1a1a1a" stroke-width="0.5" />
<line x1="329.20" y1="170.60" x2="329.20" y2="171.80" stroke="#1a1a1a" stroke-width="0.5" />
<line x1="329.93" y1="170.60" x2="329.93" y2="171.80" stroke="#1a1a1a" stroke-width="0.5" />
<line x1="330.55" y1="170.60" x2="330.55" y2="171.80" stroke="#1a1a1a" stroke-width="0.5" />
<line x1="331.11" y1="170.60" x2="331.11" y2="171.80" stroke="#1a1a1a" stroke-width="0.5" />
<line x1="331.60" y1="170.60" x2="331.60" y2="172.60" stroke="#1a1a1a" stroke-width="0.8" />
<line x1="300.30" y1="131.20" x2="320.80" y2="131.20" stroke="#222" stroke-width="0.9" />
<line x1="300.30" y1="129.60" x2="300.30" y2="132.80" stroke="#222" stroke-width="0.9" />
<line x1="320.80" y1="129.60" x2="320.80" y2="132.80" stroke="#222" stroke-width="0.9" />
<text x="304.60" y="128.30" font-size="5.0" fill="#1a1a1a" textLength="11.60" lengthAdjust="spacingAndGlyphs" stroke="#1a1a1a" stroke-width="0.1" >CD5⁺</text>
<text x="267.68" y="126.70" font-size="6.5" fill="#1a1a1a" textLength="10.52" lengthAdjust="spacingAndGlyphs" stroke="#1a1a1a" stroke-width="0.18" >100</text>
<text x="271.19" y="135.94" font-size="6.5" fill="#1a1a1a" textLength="7.01" lengthAdjust="spacingAndGlyphs" stroke="#1a1a1a" stroke-width="0.18" >80</text>
<text x="271.19" y="145.18" font-size="6.5" fill="#1a1a1a" textLength="7.01" lengthAdjust="spacingAndGlyphs" stroke="#1a1a1a" stroke-width="0.18" >60</text>
<text x="271.19" y="154.42" font-size="6.5" fill="#1a1a1a" textLength="7.01" lengthAdjust="spacingAndGlyphs" stroke="#1a1a1a" stroke-width="0.18" >40</text>
<text x="271.19" y="163.66" font-size="6.5" fill="#1a1a1a" textLength="7.01" lengthAdjust="spacingAndGlyphs" stroke="#1a1a1a" stroke-width="0.18" >20</text>
<text x="274.69" y="172.90" font-size="6.5" fill="#1a1a1a" textLength="3.51" lengthAdjust="spacingAndGlyphs" stroke="#1a1a1a" stroke-width="0.18" >0</text>
<polyline points="345.60,161.36 348.00,152.12 350.50,138.26 352.50,129.94 354.20,127.63 356.00,133.64 357.50,145.19 359.00,156.74 361.00,162.28 364.00,165.98 368.00,168.29 372.00,169.68 376.00,169.21 380.00,170.14 385.00,170.60" stroke="#a8173f" stroke-width="1.2" fill="none" stroke-linejoin="round" stroke-dasharray="2.6,1.4"/>
<polyline points="346.00,170.60 349.00,168.29 352.00,165.06 354.00,157.66 355.20,156.74 357.00,159.05 359.00,154.43 361.00,153.04 364.00,147.50 366.00,152.12 367.50,156.74 369.40,169.68 372.00,168.75 376.00,170.60 394.00,170.60" stroke="#a8173f" stroke-width="1.2" fill="none" stroke-linejoin="round" />
<rect x="345.40" y="122.50" width="49.00" height="48.50" fill="none" stroke="#111" stroke-width="1.3"/>
<line x1="342.90" y1="124.40" x2="345.40" y2="124.40" stroke="#1a1a1a" stroke-width="0.9" />
<line x1="342.90" y1="133.64" x2="345.40" y2="133.64" stroke="#1a1a1a" stroke-width="0.9" />
<line x1="342.90" y1="142.88" x2="345.40" y2="142.88" stroke="#1a1a1a" stroke-width="0.9" />
<line x1="342.90" y1="152.12" x2="345.40" y2="152.12" stroke="#1a1a1a" stroke-width="0.9" />
<line x1="342.90" y1="161.36" x2="345.40" y2="161.36" stroke="#1a1a1a" stroke-width="0.9" />
<line x1="342.90" y1="170.60" x2="345.40" y2="170.60" stroke="#1a1a1a" stroke-width="0.9" />
<line x1="344.10" y1="126.25" x2="345.40" y2="126.25" stroke="#1a1a1a" stroke-width="0.5" />
<line x1="344.10" y1="128.10" x2="345.40" y2="128.10" stroke="#1a1a1a" stroke-width="0.5" />
<line x1="344.10" y1="129.94" x2="345.40" y2="129.94" stroke="#1a1a1a" stroke-width="0.5" />
<line x1="344.10" y1="131.79" x2="345.40" y2="131.79" stroke="#1a1a1a" stroke-width="0.5" />
<line x1="344.10" y1="135.49" x2="345.40" y2="135.49" stroke="#1a1a1a" stroke-width="0.5" />
<line x1="344.10" y1="137.34" x2="345.40" y2="137.34" stroke="#1a1a1a" stroke-width="0.5" />
<line x1="344.10" y1="139.18" x2="345.40" y2="139.18" stroke="#1a1a1a" stroke-width="0.5" />
<line x1="344.10" y1="141.03" x2="345.40" y2="141.03" stroke="#1a1a1a" stroke-width="0.5" />
<line x1="344.10" y1="144.73" x2="345.40" y2="144.73" stroke="#1a1a1a" stroke-width="0.5" />
<line x1="344.10" y1="146.58" x2="345.40" y2="146.58" stroke="#1a1a1a" stroke-width="0.5" />
<line x1="344.10" y1="148.42" x2="345.40" y2="148.42" stroke="#1a1a1a" stroke-width="0.5" />
<line x1="344.10" y1="150.27" x2="345.40" y2="150.27" stroke="#1a1a1a" stroke-width="0.5" />
<line x1="344.10" y1="153.97" x2="345.40" y2="153.97" stroke="#1a1a1a" stroke-width="0.5" />
<line x1="344.10" y1="155.82" x2="345.40" y2="155.82" stroke="#1a1a1a" stroke-width="0.5" />
<line x1="344.10" y1="157.66" x2="345.40" y2="157.66" stroke="#1a1a1a" stroke-width="0.5" />
<line x1="344.10" y1="159.51" x2="345.40" y2="159.51" stroke="#1a1a1a" stroke-width="0.5" />
<line x1="344.10" y1="163.21" x2="345.40" y2="163.21" stroke="#1a1a1a" stroke-width="0.5" />
<line x1="344.10" y1="165.06" x2="345.40" y2="165.06" stroke="#1a1a1a" stroke-width="0.5" />
<line x1="344.10" y1="166.90" x2="345.40" y2="166.90" stroke="#1a1a1a" stroke-width="0.5" />
<line x1="344.10" y1="168.75" x2="345.40" y2="168.75" stroke="#1a1a1a" stroke-width="0.5" />
<line x1="350.70" y1="171.00" x2="350.70" y2="173.00" stroke="#1a1a1a" stroke-width="0.8" />
<line x1="353.98" y1="171.00" x2="353.98" y2="172.20" stroke="#1a1a1a" stroke-width="0.5" />
<line x1="355.90" y1="171.00" x2="355.90" y2="172.20" stroke="#1a1a1a" stroke-width="0.5" />
<line x1="357.26" y1="171.00" x2="357.26" y2="172.20" stroke="#1a1a1a" stroke-width="0.5" />
<line x1="358.32" y1="171.00" x2="358.32" y2="172.20" stroke="#1a1a1a" stroke-width="0.5" />
<line x1="359.18" y1="171.00" x2="359.18" y2="172.20" stroke="#1a1a1a" stroke-width="0.5" />
<line x1="359.91" y1="171.00" x2="359.91" y2="172.20" stroke="#1a1a1a" stroke-width="0.5" />
<line x1="360.54" y1="171.00" x2="360.54" y2="172.20" stroke="#1a1a1a" stroke-width="0.5" />
<line x1="361.10" y1="171.00" x2="361.10" y2="172.20" stroke="#1a1a1a" stroke-width="0.5" />
<line x1="361.60" y1="171.00" x2="361.60" y2="173.00" stroke="#1a1a1a" stroke-width="0.8" />
<line x1="364.73" y1="171.00" x2="364.73" y2="172.20" stroke="#1a1a1a" stroke-width="0.5" />
<line x1="366.56" y1="171.00" x2="366.56" y2="172.20" stroke="#1a1a1a" stroke-width="0.5" />
<line x1="367.86" y1="171.00" x2="367.86" y2="172.20" stroke="#1a1a1a" stroke-width="0.5" />
<line x1="368.87" y1="171.00" x2="368.87" y2="172.20" stroke="#1a1a1a" stroke-width="0.5" />
<line x1="369.69" y1="171.00" x2="369.69" y2="172.20" stroke="#1a1a1a" stroke-width="0.5" />
<line x1="370.39" y1="171.00" x2="370.39" y2="172.20" stroke="#1a1a1a" stroke-width="0.5" />
<line x1="370.99" y1="171.00" x2="370.99" y2="172.20" stroke="#1a1a1a" stroke-width="0.5" />
<line x1="371.52" y1="171.00" x2="371.52" y2="172.20" stroke="#1a1a1a" stroke-width="0.5" />
<line x1="372.00" y1="171.00" x2="372.00" y2="173.00" stroke="#1a1a1a" stroke-width="0.8" />
<line x1="375.22" y1="171.00" x2="375.22" y2="172.20" stroke="#1a1a1a" stroke-width="0.5" />
<line x1="377.11" y1="171.00" x2="377.11" y2="172.20" stroke="#1a1a1a" stroke-width="0.5" />
<line x1="378.44" y1="171.00" x2="378.44" y2="172.20" stroke="#1a1a1a" stroke-width="0.5" />
<line x1="379.48" y1="171.00" x2="379.48" y2="172.20" stroke="#1a1a1a" stroke-width="0.5" />
<line x1="380.33" y1="171.00" x2="380.33" y2="172.20" stroke="#1a1a1a" stroke-width="0.5" />
<line x1="381.04" y1="171.00" x2="381.04" y2="172.20" stroke="#1a1a1a" stroke-width="0.5" />
<line x1="381.66" y1="171.00" x2="381.66" y2="172.20" stroke="#1a1a1a" stroke-width="0.5" />
<line x1="382.21" y1="171.00" x2="382.21" y2="172.20" stroke="#1a1a1a" stroke-width="0.5" />
<line x1="382.70" y1="171.00" x2="382.70" y2="173.00" stroke="#1a1a1a" stroke-width="0.8" />
<line x1="385.89" y1="171.00" x2="385.89" y2="172.20" stroke="#1a1a1a" stroke-width="0.5" />
<line x1="387.76" y1="171.00" x2="387.76" y2="172.20" stroke="#1a1a1a" stroke-width="0.5" />
<line x1="389.08" y1="171.00" x2="389.08" y2="172.20" stroke="#1a1a1a" stroke-width="0.5" />
<line x1="390.11" y1="171.00" x2="390.11" y2="172.20" stroke="#1a1a1a" stroke-width="0.5" />
<line x1="390.95" y1="171.00" x2="390.95" y2="172.20" stroke="#1a1a1a" stroke-width="0.5" />
<line x1="391.66" y1="171.00" x2="391.66" y2="172.20" stroke="#1a1a1a" stroke-width="0.5" />
<line x1="392.27" y1="171.00" x2="392.27" y2="172.20" stroke="#1a1a1a" stroke-width="0.5" />
<line x1="392.81" y1="171.00" x2="392.81" y2="172.20" stroke="#1a1a1a" stroke-width="0.5" />
<line x1="393.30" y1="171.00" x2="393.30" y2="173.00" stroke="#1a1a1a" stroke-width="0.8" />
<line x1="361.60" y1="131.30" x2="382.20" y2="131.30" stroke="#222" stroke-width="0.9" />
<line x1="361.60" y1="129.70" x2="361.60" y2="132.90" stroke="#222" stroke-width="0.9" />
<line x1="382.20" y1="129.70" x2="382.20" y2="132.90" stroke="#222" stroke-width="0.9" />
<text x="366.00" y="128.30" font-size="5.0" fill="#1a1a1a" textLength="11.60" lengthAdjust="spacingAndGlyphs" stroke="#1a1a1a" stroke-width="0.1" >CD5⁺</text>
<text x="284.30" y="182.60" font-size="6.4" fill="#1a1a1a" textLength="6.40" lengthAdjust="spacingAndGlyphs" stroke="#1a1a1a" stroke-width="0.18" >10</text>
<text x="291.20" y="179.60" font-size="4.2" fill="#1a1a1a" stroke="#1a1a1a" stroke-width="0.12" >0</text>
<text x="295.00" y="182.60" font-size="6.4" fill="#1a1a1a" textLength="6.40" lengthAdjust="spacingAndGlyphs" stroke="#1a1a1a" stroke-width="0.18" >10</text>
<text x="301.90" y="179.60" font-size="4.2" fill="#1a1a1a" stroke="#1a1a1a" stroke-width="0.12" >1</text>
<text x="305.80" y="182.60" font-size="6.4" fill="#1a1a1a" textLength="6.40" lengthAdjust="spacingAndGlyphs" stroke="#1a1a1a" stroke-width="0.18" >10</text>
<text x="312.70" y="179.60" font-size="4.2" fill="#1a1a1a" stroke="#1a1a1a" stroke-width="0.12" >2</text>
<text x="316.60" y="182.60" font-size="6.4" fill="#1a1a1a" textLength="6.40" lengthAdjust="spacingAndGlyphs" stroke="#1a1a1a" stroke-width="0.18" >10</text>
<text x="323.50" y="179.60" font-size="4.2" fill="#1a1a1a" stroke="#1a1a1a" stroke-width="0.12" >3</text>
<text x="346.50" y="182.60" font-size="6.4" fill="#1a1a1a" textLength="6.40" lengthAdjust="spacingAndGlyphs" stroke="#1a1a1a" stroke-width="0.18" >10</text>
<text x="353.40" y="179.60" font-size="4.2" fill="#1a1a1a" stroke="#1a1a1a" stroke-width="0.12" >0</text>
<text x="357.40" y="182.60" font-size="6.4" fill="#1a1a1a" textLength="6.40" lengthAdjust="spacingAndGlyphs" stroke="#1a1a1a" stroke-width="0.18" >10</text>
<text x="364.30" y="179.60" font-size="4.2" fill="#1a1a1a" stroke="#1a1a1a" stroke-width="0.12" >1</text>
<text x="367.80" y="182.60" font-size="6.4" fill="#1a1a1a" textLength="6.40" lengthAdjust="spacingAndGlyphs" stroke="#1a1a1a" stroke-width="0.18" >10</text>
<text x="374.70" y="179.60" font-size="4.2" fill="#1a1a1a" stroke="#1a1a1a" stroke-width="0.12" >2</text>
<text x="378.50" y="182.60" font-size="6.4" fill="#1a1a1a" textLength="6.40" lengthAdjust="spacingAndGlyphs" stroke="#1a1a1a" stroke-width="0.18" >10</text>
<text x="385.40" y="179.60" font-size="4.2" fill="#1a1a1a" stroke="#1a1a1a" stroke-width="0.12" >3</text>
<text x="280.00" y="193.60" font-size="8.4" fill="#1a1a1a" textLength="13.00" lengthAdjust="spacingAndGlyphs" stroke="#1a1a1a" stroke-width="0.12" >CD5</text>
<line x1="296.20" y1="190.50" x2="391.50" y2="190.50" stroke="#222" stroke-width="1.1" />
<polygon points="390.70,188.60 390.70,192.40 394.50,190.50" fill="#1a1a1a"/>
<line x1="452.40" y1="60.50" x2="452.40" y2="114.45" stroke="#1a1a1a" stroke-width="1.5" />
<line x1="449.80" y1="61.75" x2="452.40" y2="61.75" stroke="#1a1a1a" stroke-width="1.0" />
<text x="441.19" y="64.15" font-size="6.6" fill="#1a1a1a" textLength="6.61" lengthAdjust="spacingAndGlyphs" stroke="#1a1a1a" stroke-width="0.18" >25</text>
<line x1="449.80" y1="72.14" x2="452.40" y2="72.14" stroke="#1a1a1a" stroke-width="1.0" />
<text x="441.19" y="74.54" font-size="6.6" fill="#1a1a1a" textLength="6.61" lengthAdjust="spacingAndGlyphs" stroke="#1a1a1a" stroke-width="0.18" >20</text>
<line x1="449.80" y1="82.53" x2="452.40" y2="82.53" stroke="#1a1a1a" stroke-width="1.0" />
<text x="441.19" y="84.93" font-size="6.6" fill="#1a1a1a" textLength="6.61" lengthAdjust="spacingAndGlyphs" stroke="#1a1a1a" stroke-width="0.18" >15</text>
<line x1="449.80" y1="92.92" x2="452.40" y2="92.92" stroke="#1a1a1a" stroke-width="1.0" />
<text x="441.19" y="95.32" font-size="6.6" fill="#1a1a1a" textLength="6.61" lengthAdjust="spacingAndGlyphs" stroke="#1a1a1a" stroke-width="0.18" >10</text>
<line x1="449.80" y1="103.31" x2="452.40" y2="103.31" stroke="#1a1a1a" stroke-width="1.0" />
<text x="444.50" y="105.71" font-size="6.6" fill="#1a1a1a" textLength="3.30" lengthAdjust="spacingAndGlyphs" stroke="#1a1a1a" stroke-width="0.18" >5</text>
<line x1="449.80" y1="113.70" x2="452.40" y2="113.70" stroke="#1a1a1a" stroke-width="1.0" />
<text x="444.50" y="116.10" font-size="6.6" fill="#1a1a1a" textLength="3.30" lengthAdjust="spacingAndGlyphs" stroke="#1a1a1a" stroke-width="0.18" >0</text>
<line x1="451.65" y1="113.70" x2="513.00" y2="113.70" stroke="#1a1a1a" stroke-width="1.5" />
<line x1="468.00" y1="113.70" x2="468.00" y2="116.30" stroke="#1a1a1a" stroke-width="1.0" />
<line x1="498.20" y1="113.70" x2="498.20" y2="116.30" stroke="#1a1a1a" stroke-width="1.0" />
<text x="424.60" y="115.70" font-size="8.8" fill="#1a1a1a" textLength="58.70" lengthAdjust="spacingAndGlyphs" stroke="#1a1a1a" stroke-width="0.12" transform="rotate(-90 424.60 115.70)" >CD19⁺CD5⁺ cells in</text>
<text x="434.00" y="107.00" font-size="8.8" fill="#1a1a1a" textLength="41.40" lengthAdjust="spacingAndGlyphs" stroke="#1a1a1a" stroke-width="0.12" transform="rotate(-90 434.00 107.00)" >CD45.2⁺ (%)</text>
<line x1="468.00" y1="65.35" x2="498.30" y2="65.35" stroke="#333" stroke-width="1.2" />
<rect x="482.8" y="61.3" width="1.6" height="1.6" fill="#222"/>
<circle cx="468.00" cy="71.00" r="1.0" fill="#1d3b7a"/>
<circle cx="468.00" cy="93.10" r="1.0" fill="#1d3b7a"/>
<circle cx="463.30" cy="103.80" r="1.0" fill="#1d3b7a"/>
<circle cx="468.00" cy="103.80" r="1.0" fill="#1d3b7a"/>
<circle cx="471.50" cy="103.30" r="1.0" fill="#1d3b7a"/>
<circle cx="464.80" cy="107.50" r="1.0" fill="#1d3b7a"/>
<circle cx="471.50" cy="107.70" r="1.0" fill="#1d3b7a"/>
<circle cx="468.00" cy="108.60" r="1.0" fill="#1d3b7a"/>
<line x1="458.50" y1="99.70" x2="477.70" y2="99.70" stroke="#1d3b7a" stroke-width="1.2" />
<line x1="463.80" y1="95.70" x2="472.60" y2="95.70" stroke="#1d3b7a" stroke-width="1.1" />
<line x1="463.80" y1="103.80" x2="472.60" y2="103.80" stroke="#1d3b7a" stroke-width="1.1" />
<line x1="468.00" y1="95.70" x2="468.00" y2="103.80" stroke="#1d3b7a" stroke-width="1.1" />
<circle cx="494.60" cy="107.40" r="1.0" fill="#b0002e"/>
<circle cx="499.20" cy="105.90" r="1.0" fill="#b0002e"/>
<circle cx="495.40" cy="109.20" r="1.0" fill="#b0002e"/>
<circle cx="500.50" cy="110.00" r="1.0" fill="#b0002e"/>
<circle cx="497.70" cy="112.00" r="1.0" fill="#b0002e"/>
<circle cx="493.80" cy="111.50" r="1.0" fill="#b0002e"/>
<circle cx="502.00" cy="108.60" r="1.0" fill="#b0002e"/>
<line x1="488.50" y1="110.00" x2="507.70" y2="110.00" stroke="#b0002e" stroke-width="1.2" />
<line x1="493.00" y1="108.20" x2="503.00" y2="108.20" stroke="#b0002e" stroke-width="1.0" />
<line x1="493.00" y1="111.80" x2="503.00" y2="111.80" stroke="#b0002e" stroke-width="1.0" />
<g transform="translate(458.30 132.60) rotate(-45)">
<text x="-11.90" y="0.60" font-size="6.4" fill="#1a1a1a" textLength="23.80" lengthAdjust="spacingAndGlyphs" stroke="#1a1a1a" stroke-width="0.15" >IgH.TEμ</text>
<text x="-16.60" y="8.40" font-size="6.4" fill="#1a1a1a" textLength="17.60" lengthAdjust="spacingAndGlyphs" stroke="#1a1a1a" stroke-width="0.15" >RBP-J</text>
<text x="1.50" y="5.40" font-size="4.0" fill="#222" textLength="12.00" lengthAdjust="spacingAndGlyphs" stroke="#222" stroke-width="0.14" >lox/lox</text>
</g>
<g transform="translate(482.50 136.20) rotate(-45)">
<text x="-11.90" y="0.60" font-size="6.4" fill="#1a1a1a" textLength="23.80" lengthAdjust="spacingAndGlyphs" stroke="#1a1a1a" stroke-width="0.15" >IgH.TEμ</text>
<text x="-20.30" y="8.40" font-size="6.4" fill="#1a1a1a" textLength="16.30" lengthAdjust="spacingAndGlyphs" stroke="#1a1a1a" stroke-width="0.15" >RBP-J</text>
<text x="-0.20" y="5.40" font-size="4.0" fill="#222" textLength="21.40" lengthAdjust="spacingAndGlyphs" stroke="#222" stroke-width="0.14" >Δ/Δ mb1-Cre</text>
</g>
<line x1="24.70" y1="245.30" x2="30.00" y2="245.30" stroke="#1d3b7a" stroke-width="1.0" />
<circle cx="27.30" cy="245.30" r="1.0" fill="#1d3b7a"/>
<line x1="24.70" y1="255.50" x2="30.00" y2="255.50" stroke="#b0002e" stroke-width="1.0" />
<circle cx="27.30" cy="255.50" r="1.0" fill="#b0002e"/>
<text x="33.10" y="247.30" font-size="6.71" fill="#1a1a1a" textLength="42.50" lengthAdjust="spacingAndGlyphs" stroke="#1a1a1a" stroke-width="0.12" >IgH.TEμ;RBP-J</text>
<text x="76.20" y="245.00" font-size="4.1" fill="#222" textLength="11.50" lengthAdjust="spacingAndGlyphs" stroke="#222" stroke-width="0.16" >lox/lox</text>
<text x="33.10" y="257.60" font-size="6.71" fill="#1a1a1a" textLength="42.50" lengthAdjust="spacingAndGlyphs" stroke="#1a1a1a" stroke-width="0.12" >IgH.TEμ;RBP-J</text>
<text x="76.20" y="255.30" font-size="4.1" fill="#222" textLength="23.60" lengthAdjust="spacingAndGlyphs" stroke="#222" stroke-width="0.16" >Δ/Δ mb1-Cre</text>
<line x1="103.10" y1="245.00" x2="103.10" y2="255.90" stroke="#444" stroke-width="1.4" />
<rect x="107.00" y="248.25" width="1.6" height="1.7" fill="#333"/>
<rect x="109.95" y="248.25" width="1.6" height="1.7" fill="#333"/>
<rect x="112.90" y="248.25" width="1.6" height="1.7" fill="#333"/>
<rect x="115.85" y="248.25" width="1.6" height="1.7" fill="#333"/>
<line x1="35.80" y1="264.50" x2="35.80" y2="314.15" stroke="#1a1a1a" stroke-width="1.5" />
<line x1="33.20" y1="266.20" x2="35.80" y2="266.20" stroke="#1a1a1a" stroke-width="1.0" />
<text x="19.25" y="268.60" font-size="6.8" fill="#1a1a1a" textLength="11.35" lengthAdjust="spacingAndGlyphs" stroke="#1a1a1a" stroke-width="0.18" >100</text>
<line x1="33.20" y1="275.62" x2="35.80" y2="275.62" stroke="#1a1a1a" stroke-width="1.0" />
<text x="23.04" y="278.02" font-size="6.8" fill="#1a1a1a" textLength="7.56" lengthAdjust="spacingAndGlyphs" stroke="#1a1a1a" stroke-width="0.18" >80</text>
<line x1="33.20" y1="285.04" x2="35.80" y2="285.04" stroke="#1a1a1a" stroke-width="1.0" />
<text x="23.04" y="287.44" font-size="6.8" fill="#1a1a1a" textLength="7.56" lengthAdjust="spacingAndGlyphs" stroke="#1a1a1a" stroke-width="0.18" >60</text>
<line x1="33.20" y1="294.46" x2="35.80" y2="294.46" stroke="#1a1a1a" stroke-width="1.0" />
<text x="23.04" y="296.86" font-size="6.8" fill="#1a1a1a" textLength="7.56" lengthAdjust="spacingAndGlyphs" stroke="#1a1a1a" stroke-width="0.18" >40</text>
<line x1="33.20" y1="303.88" x2="35.80" y2="303.88" stroke="#1a1a1a" stroke-width="1.0" />
<text x="23.04" y="306.28" font-size="6.8" fill="#1a1a1a" textLength="7.56" lengthAdjust="spacingAndGlyphs" stroke="#1a1a1a" stroke-width="0.18" >20</text>
<line x1="33.20" y1="313.30" x2="35.80" y2="313.30" stroke="#1a1a1a" stroke-width="1.0" />
<text x="26.82" y="315.70" font-size="6.8" fill="#1a1a1a" textLength="3.78" lengthAdjust="spacingAndGlyphs" stroke="#1a1a1a" stroke-width="0.18" >0</text>
<line x1="35.05" y1="313.40" x2="109.90" y2="313.40" stroke="#1a1a1a" stroke-width="1.5" />
<line x1="39.60" y1="313.40" x2="39.60" y2="316.00" stroke="#1a1a1a" stroke-width="1.0" />
<text x="37.75" y="325.40" font-size="7.0" fill="#1a1a1a" textLength="3.70" lengthAdjust="spacingAndGlyphs" stroke="#1a1a1a" stroke-width="0.18" >3</text>
<line x1="47.05" y1="313.40" x2="47.05" y2="316.00" stroke="#1a1a1a" stroke-width="1.0" />
<text x="45.20" y="325.40" font-size="7.0" fill="#1a1a1a" textLength="3.70" lengthAdjust="spacingAndGlyphs" stroke="#1a1a1a" stroke-width="0.18" >4</text>
<line x1="54.50" y1="313.40" x2="54.50" y2="316.00" stroke="#1a1a1a" stroke-width="1.0" />
<text x="52.65" y="325.40" font-size="7.0" fill="#1a1a1a" textLength="3.70" lengthAdjust="spacingAndGlyphs" stroke="#1a1a1a" stroke-width="0.18" >5</text>
<line x1="61.95" y1="313.40" x2="61.95" y2="316.00" stroke="#1a1a1a" stroke-width="1.0" />
<text x="60.10" y="325.40" font-size="7.0" fill="#1a1a1a" textLength="3.70" lengthAdjust="spacingAndGlyphs" stroke="#1a1a1a" stroke-width="0.18" >6</text>
<line x1="69.40" y1="313.40" x2="69.40" y2="316.00" stroke="#1a1a1a" stroke-width="1.0" />
<text x="67.55" y="325.40" font-size="7.0" fill="#1a1a1a" textLength="3.70" lengthAdjust="spacingAndGlyphs" stroke="#1a1a1a" stroke-width="0.18" >7</text>
<line x1="76.85" y1="313.40" x2="76.85" y2="316.00" stroke="#1a1a1a" stroke-width="1.0" />
<text x="75.00" y="325.40" font-size="7.0" fill="#1a1a1a" textLength="3.70" lengthAdjust="spacingAndGlyphs" stroke="#1a1a1a" stroke-width="0.18" >8</text>
<line x1="84.30" y1="313.40" x2="84.30" y2="316.00" stroke="#1a1a1a" stroke-width="1.0" />
<text x="82.45" y="325.40" font-size="7.0" fill="#1a1a1a" textLength="3.70" lengthAdjust="spacingAndGlyphs" stroke="#1a1a1a" stroke-width="0.18" >9</text>
<line x1="91.75" y1="313.40" x2="91.75" y2="316.00" stroke="#1a1a1a" stroke-width="1.0" />
<text x="88.05" y="325.40" font-size="7.0" fill="#1a1a1a" textLength="7.40" lengthAdjust="spacingAndGlyphs" stroke="#1a1a1a" stroke-width="0.18" >10</text>
<line x1="99.20" y1="313.40" x2="99.20" y2="316.00" stroke="#1a1a1a" stroke-width="1.0" />
<text x="95.75" y="325.40" font-size="7.0" fill="#1a1a1a" textLength="6.90" lengthAdjust="spacingAndGlyphs" stroke="#1a1a1a" stroke-width="0.18" >11</text>
<line x1="106.65" y1="313.40" x2="106.65" y2="316.00" stroke="#1a1a1a" stroke-width="1.0" />
<text x="102.95" y="325.40" font-size="7.0" fill="#1a1a1a" textLength="7.40" lengthAdjust="spacingAndGlyphs" stroke="#1a1a1a" stroke-width="0.18" >12</text>
<text x="57.60" y="336.50" font-size="9.6" fill="#1a1a1a" textLength="30.70" lengthAdjust="spacingAndGlyphs" stroke="#1a1a1a" stroke-width="0.12" >Age (mos)</text>
<text x="14.60" y="307.90" font-size="9" fill="#3a3a3a" textLength="42.30" lengthAdjust="spacingAndGlyphs" stroke="#3a3a3a" stroke-width="0.12" transform="rotate(-90 14.60 307.90)" >Sick mice (%)</text>
<polyline points="39.60,313.30 47.05,313.30 54.50,308.59 61.95,308.59 69.40,308.59 76.85,303.88 84.30,303.88 91.75,303.88 99.20,299.17 106.65,299.17" stroke="#b0002e" stroke-width="1.4" fill="none" stroke-linejoin="round" />
<polyline points="39.60,302.94 47.05,281.74 54.50,281.74 61.95,276.56 69.40,271.38 76.85,271.38 84.30,271.38 91.75,266.20 99.20,266.20 106.65,266.20" stroke="#1d3b7a" stroke-width="1.3" fill="none" stroke-linejoin="round" />
<circle cx="39.60" cy="302.94" r="1.0" fill="#1d3b7a"/>
<circle cx="47.05" cy="281.74" r="1.0" fill="#1d3b7a"/>
<circle cx="54.50" cy="281.74" r="1.0" fill="#1d3b7a"/>
<circle cx="61.95" cy="276.56" r="1.0" fill="#1d3b7a"/>
<circle cx="69.40" cy="271.38" r="1.0" fill="#1d3b7a"/>
<circle cx="76.85" cy="271.38" r="1.0" fill="#1d3b7a"/>
<circle cx="84.30" cy="271.38" r="1.0" fill="#1d3b7a"/>
<circle cx="91.75" cy="266.20" r="1.0" fill="#1d3b7a"/>
<circle cx="99.20" cy="266.20" r="1.0" fill="#1d3b7a"/>
<circle cx="106.65" cy="266.20" r="1.0" fill="#1d3b7a"/>
<circle cx="39.60" cy="313.30" r="1.0" fill="#b0002e"/>
<circle cx="47.05" cy="313.30" r="1.0" fill="#b0002e"/>
<circle cx="54.50" cy="308.59" r="1.0" fill="#b0002e"/>
<circle cx="61.95" cy="308.59" r="1.0" fill="#b0002e"/>
<circle cx="69.40" cy="308.59" r="1.0" fill="#b0002e"/>
<circle cx="76.85" cy="303.88" r="1.0" fill="#b0002e"/>
<circle cx="84.30" cy="303.88" r="1.0" fill="#b0002e"/>
<circle cx="91.75" cy="303.88" r="1.0" fill="#b0002e"/>
<circle cx="99.20" cy="299.17" r="1.0" fill="#b0002e"/>
<circle cx="106.65" cy="299.17" r="1.0" fill="#b0002e"/>
<line x1="151.20" y1="245.00" x2="156.40" y2="245.00" stroke="#1d3b7a" stroke-width="1.1" />
<line x1="151.20" y1="255.40" x2="156.40" y2="255.40" stroke="#b0002e" stroke-width="1.1" />
<text x="159.60" y="247.20" font-size="6.71" fill="#1a1a1a" textLength="42.10" lengthAdjust="spacingAndGlyphs" stroke="#1a1a1a" stroke-width="0.12" >IgH.TEμ;RBP-J</text>
<text x="202.30" y="244.90" font-size="4.1" fill="#222" textLength="12.30" lengthAdjust="spacingAndGlyphs" stroke="#222" stroke-width="0.16" >lox/lox</text>
<text x="159.60" y="257.50" font-size="6.71" fill="#1a1a1a" textLength="42.10" lengthAdjust="spacingAndGlyphs" stroke="#1a1a1a" stroke-width="0.12" >IgH.TEμ;RBP-J</text>
<text x="202.30" y="255.20" font-size="4.1" fill="#222" textLength="23.80" lengthAdjust="spacingAndGlyphs" stroke="#222" stroke-width="0.16" >Δ/Δ mb1-Cre</text>
<line x1="228.40" y1="245.00" x2="228.40" y2="255.90" stroke="#444" stroke-width="1.4" />
<rect x="232.10" y="248.25" width="1.6" height="1.7" fill="#333"/>
<rect x="235.05" y="248.25" width="1.6" height="1.7" fill="#333"/>
<rect x="238.00" y="248.25" width="1.6" height="1.7" fill="#333"/>
<rect x="240.95" y="248.25" width="1.6" height="1.7" fill="#333"/>
<line x1="162.20" y1="269.50" x2="162.20" y2="314.55" stroke="#1a1a1a" stroke-width="1.5" />
<line x1="159.60" y1="271.50" x2="162.20" y2="271.50" stroke="#1a1a1a" stroke-width="1.0" />
<text x="146.42" y="273.90" font-size="6.8" fill="#1a1a1a" textLength="10.78" lengthAdjust="spacingAndGlyphs" stroke="#1a1a1a" stroke-width="0.18" >100</text>
<line x1="159.60" y1="282.07" x2="162.20" y2="282.07" stroke="#1a1a1a" stroke-width="1.0" />
<text x="150.01" y="284.47" font-size="6.8" fill="#1a1a1a" textLength="7.19" lengthAdjust="spacingAndGlyphs" stroke="#1a1a1a" stroke-width="0.18" >75</text>
<line x1="159.60" y1="292.65" x2="162.20" y2="292.65" stroke="#1a1a1a" stroke-width="1.0" />
<text x="150.01" y="295.05" font-size="6.8" fill="#1a1a1a" textLength="7.19" lengthAdjust="spacingAndGlyphs" stroke="#1a1a1a" stroke-width="0.18" >50</text>
<line x1="159.60" y1="303.23" x2="162.20" y2="303.23" stroke="#1a1a1a" stroke-width="1.0" />
<text x="150.01" y="305.62" font-size="6.8" fill="#1a1a1a" textLength="7.19" lengthAdjust="spacingAndGlyphs" stroke="#1a1a1a" stroke-width="0.18" >25</text>
<line x1="159.60" y1="313.80" x2="162.20" y2="313.80" stroke="#1a1a1a" stroke-width="1.0" />
<text x="153.61" y="316.20" font-size="6.8" fill="#1a1a1a" textLength="3.59" lengthAdjust="spacingAndGlyphs" stroke="#1a1a1a" stroke-width="0.18" >0</text>
<line x1="161.45" y1="313.80" x2="229.60" y2="313.80" stroke="#1a1a1a" stroke-width="1.5" />
<line x1="162.20" y1="313.80" x2="162.20" y2="316.40" stroke="#1a1a1a" stroke-width="1.0" />
<text x="160.37" y="325.10" font-size="6.8" fill="#1a1a1a" textLength="3.67" lengthAdjust="spacingAndGlyphs" stroke="#1a1a1a" stroke-width="0.18" >0</text>
<line x1="178.35" y1="313.80" x2="178.35" y2="316.40" stroke="#1a1a1a" stroke-width="1.0" />
<text x="172.85" y="325.10" font-size="6.8" fill="#1a1a1a" textLength="11.01" lengthAdjust="spacingAndGlyphs" stroke="#1a1a1a" stroke-width="0.18" >100</text>
<line x1="194.50" y1="313.80" x2="194.50" y2="316.40" stroke="#1a1a1a" stroke-width="1.0" />
<text x="189.00" y="325.10" font-size="6.8" fill="#1a1a1a" textLength="11.01" lengthAdjust="spacingAndGlyphs" stroke="#1a1a1a" stroke-width="0.18" >200</text>
<line x1="210.65" y1="313.80" x2="210.65" y2="316.40" stroke="#1a1a1a" stroke-width="1.0" />
<text x="205.15" y="325.10" font-size="6.8" fill="#1a1a1a" textLength="11.01" lengthAdjust="spacingAndGlyphs" stroke="#1a1a1a" stroke-width="0.18" >300</text>
<line x1="226.80" y1="313.80" x2="226.80" y2="316.40" stroke="#1a1a1a" stroke-width="1.0" />
<text x="221.30" y="325.10" font-size="6.8" fill="#1a1a1a" textLength="11.01" lengthAdjust="spacingAndGlyphs" stroke="#1a1a1a" stroke-width="0.18" >400</text>
<text x="177.80" y="336.50" font-size="9.6" fill="#1a1a1a" textLength="33.80" lengthAdjust="spacingAndGlyphs" stroke="#1a1a1a" stroke-width="0.12" >Time (days)</text>
<text x="141.80" y="309.40" font-size="8.8" fill="#3a3a3a" textLength="36.30" lengthAdjust="spacingAndGlyphs" stroke="#3a3a3a" stroke-width="0.12" transform="rotate(-90 141.80 309.40)" >Survival (%)</text>
<polyline points="196.60,271.50 204.84,271.50 204.84,275.31 210.65,275.31 210.65,279.54 216.30,279.54 216.30,284.19 226.48,284.19 226.48,284.19" stroke="#b0002e" stroke-width="1.3" fill="none" stroke-linejoin="round" />
<polyline points="162.20,271.50 196.44,271.50 196.44,271.50 196.44,271.50 196.44,275.31 196.92,275.31 196.92,275.31 196.92,275.31 196.92,280.81 205.48,280.81 205.48,280.81 205.48,280.81 205.48,285.46 206.13,285.46 206.13,285.46 206.13,285.46 206.13,290.11 209.03,290.11 209.03,290.11 209.36,290.11 209.36,299.84 209.84,299.84 209.84,304.49 210.17,304.49 210.17,309.15 219.86,309.15 219.86,309.15 219.86,309.15 219.86,313.80" stroke="#1d3b7a" stroke-width="1.3" fill="none" stroke-linejoin="round" />
<text x="326.90" y="230.40" font-size="6.4" fill="#1a1a1a" textLength="16.90" lengthAdjust="spacingAndGlyphs" stroke="#1a1a1a" stroke-width="0.1" >6 mos</text>
<text x="274.30" y="238.30" font-size="6.1" fill="#1a1a1a" textLength="39.90" lengthAdjust="spacingAndGlyphs" stroke="#1a1a1a" stroke-width="0.12" >IgH.TEμ;RBP-J</text>
<text x="314.90" y="235.70" font-size="4.2" fill="#222" textLength="14.20" lengthAdjust="spacingAndGlyphs" stroke="#222" stroke-width="0.16" >lox/lox</text>
<text x="331.80" y="238.30" font-size="6.1" fill="#1a1a1a" textLength="41.40" lengthAdjust="spacingAndGlyphs" stroke="#1a1a1a" stroke-width="0.12" >IgH.TEμ;RBP-J</text>
<text x="373.90" y="235.70" font-size="4.2" fill="#222" textLength="23.30" lengthAdjust="spacingAndGlyphs" stroke="#222" stroke-width="0.16" >Δ/Δ mb1-Cre</text>
<path d="M312.7 291.2h0.6v0.6h-0.6zM299.7 291.6h0.6v0.6h-0.6zM315.3 272.9h0.6v0.6h-0.6zM314.4 270.4h0.6v0.6h-0.6zM308.4 287.6h0.6v0.6h-0.6zM316.6 283.6h0.6v0.6h-0.6zM296.5 272.4h0.6v0.6h-0.6zM289.5 288.2h0.6v0.6h-0.6zM299.2 273.0h0.6v0.6h-0.6zM308.1 272.7h0.6v0.6h-0.6zM296.7 275.8h0.6v0.6h-0.6zM314.9 291.8h0.6v0.6h-0.6zM300.5 266.7h0.6v0.6h-0.6zM305.5 281.9h0.6v0.6h-0.6zM306.2 287.4h0.6v0.6h-0.6zM298.4 290.9h0.6v0.6h-0.6zM311.7 283.3h0.6v0.6h-0.6zM297.1 275.5h0.6v0.6h-0.6zM309.2 270.1h0.6v0.6h-0.6zM300.1 272.6h0.6v0.6h-0.6zM288.3 286.6h0.6v0.6h-0.6zM301.7 281.4h0.6v0.6h-0.6zM310.0 268.1h0.6v0.6h-0.6zM301.2 284.4h0.6v0.6h-0.6zM310.5 270.5h0.6v0.6h-0.6zM310.5 283.5h0.6v0.6h-0.6zM314.3 290.7h0.6v0.6h-0.6zM306.3 296.7h0.6v0.6h-0.6zM302.0 276.0h0.6v0.6h-0.6zM298.2 271.0h0.6v0.6h-0.6zM301.7 265.5h0.6v0.6h-0.6zM300.9 286.0h0.6v0.6h-0.6zM313.1 277.3h0.6v0.6h-0.6zM315.6 275.0h0.6v0.6h-0.6zM300.8 265.6h0.6v0.6h-0.6zM293.6 272.8h0.6v0.6h-0.6zM316.2 285.8h0.6v0.6h-0.6zM290.4 286.3h0.6v0.6h-0.6zM307.8 278.3h0.6v0.6h-0.6zM302.3 277.5h0.6v0.6h-0.6zM297.3 266.4h0.6v0.6h-0.6zM301.1 293.5h0.6v0.6h-0.6zM316.1 278.4h0.6v0.6h-0.6zM293.3 278.7h0.6v0.6h-0.6zM312.0 284.7h0.6v0.6h-0.6zM295.1 285.0h0.6v0.6h-0.6zM299.5 286.8h0.6v0.6h-0.6zM298.1 267.6h0.6v0.6h-0.6zM302.7 289.3h0.6v0.6h-0.6zM290.0 279.9h0.6v0.6h-0.6zM311.8 277.0h0.6v0.6h-0.6zM296.8 296.2h0.6v0.6h-0.6zM310.5 290.9h0.6v0.6h-0.6zM293.9 294.3h0.6v0.6h-0.6zM287.0 276.6h0.6v0.6h-0.6zM309.1 293.1h0.6v0.6h-0.6zM292.1 274.3h0.6v0.6h-0.6zM303.7 265.6h0.6v0.6h-0.6zM309.3 287.0h0.6v0.6h-0.6zM296.8 286.9h0.6v0.6h-0.6zM310.9 284.3h0.6v0.6h-0.6zM306.9 294.5h0.6v0.6h-0.6zM296.3 282.8h0.6v0.6h-0.6zM296.4 291.4h0.6v0.6h-0.6zM297.2 286.3h0.6v0.6h-0.6zM303.7 281.8h0.6v0.6h-0.6zM317.6 280.3h0.6v0.6h-0.6zM315.2 288.2h0.6v0.6h-0.6zM315.4 279.4h0.6v0.6h-0.6zM311.8 288.5h0.6v0.6h-0.6zM294.8 284.0h0.6v0.6h-0.6zM300.4 280.6h0.6v0.6h-0.6zM314.6 274.4h0.6v0.6h-0.6zM289.9 269.2h0.6v0.6h-0.6zM296.8 274.0h0.6v0.6h-0.6zM302.2 287.3h0.6v0.6h-0.6zM317.6 283.6h0.6v0.6h-0.6zM307.2 273.2h0.6v0.6h-0.6zM307.6 293.5h0.6v0.6h-0.6zM311.8 267.5h0.6v0.6h-0.6zM309.8 294.1h0.6v0.6h-0.6zM309.5 268.2h0.6v0.6h-0.6zM298.4 287.5h0.6v0.6h-0.6zM306.6 272.4h0.6v0.6h-0.6zM292.9 290.3h0.6v0.6h-0.6zM290.8 292.3h0.6v0.6h-0.6zM302.2 284.4h0.6v0.6h-0.6zM289.0 275.5h0.6v0.6h-0.6zM308.4 268.1h0.6v0.6h-0.6zM316.5 271.7h0.6v0.6h-0.6zM289.3 281.4h0.6v0.6h-0.6zM307.4 288.8h0.6v0.6h-0.6zM297.5 278.7h0.6v0.6h-0.6zM299.2 274.6h0.6v0.6h-0.6zM285.4 286.8h0.6v0.6h-0.6zM305.0 282.8h0.6v0.6h-0.6zM294.7 283.8h0.6v0.6h-0.6zM301.8 280.1h0.6v0.6h-0.6zM311.0 267.8h0.6v0.6h-0.6zM304.7 270.2h0.6v0.6h-0.6zM299.0 294.5h0.6v0.6h-0.6zM290.4 280.0h0.6v0.6h-0.6zM295.7 290.6h0.6v0.6h-0.6zM293.8 267.6h0.6v0.6h-0.6zM308.0 277.1h0.6v0.6h-0.6zM298.6 291.9h0.6v0.6h-0.6zM292.2 277.1h0.6v0.6h-0.6zM303.8 285.7h0.6v0.6h-0.6zM296.5 291.3h0.6v0.6h-0.6zM318.9 278.1h0.6v0.6h-0.6zM313.8 268.4h0.6v0.6h-0.6zM315.8 277.8h0.6v0.6h-0.6zM303.7 277.1h0.6v0.6h-0.6zM295.7 269.1h0.6v0.6h-0.6zM298.0 293.3h0.6v0.6h-0.6zM313.9 277.6h0.6v0.6h-0.6zM296.1 273.6h0.6v0.6h-0.6zM292.6 294.3h0.6v0.6h-0.6zM309.7 282.3h0.6v0.6h-0.6zM296.8 270.8h0.6v0.6h-0.6zM314.6 288.0h0.6v0.6h-0.6zM292.5 290.3h0.6v0.6h-0.6zM290.7 287.2h0.6v0.6h-0.6zM291.6 276.8h0.6v0.6h-0.6zM307.8 285.8h0.6v0.6h-0.6zM312.3 273.0h0.6v0.6h-0.6zM314.7 291.2h0.6v0.6h-0.6zM301.9 286.2h0.6v0.6h-0.6zM293.1 279.4h0.6v0.6h-0.6zM288.6 281.9h0.6v0.6h-0.6zM304.0 293.7h0.6v0.6h-0.6zM311.8 288.9h0.6v0.6h-0.6zM297.7 278.5h0.6v0.6h-0.6zM297.9 283.5h0.6v0.6h-0.6zM286.5 286.9h0.6v0.6h-0.6zM287.5 276.5h0.6v0.6h-0.6zM302.3 275.3h0.6v0.6h-0.6zM317.3 280.2h0.6v0.6h-0.6zM315.1 290.3h0.6v0.6h-0.6zM296.2 285.4h0.6v0.6h-0.6zM315.1 277.8h0.6v0.6h-0.6zM303.0 274.8h0.6v0.6h-0.6zM302.7 277.0h0.6v0.6h-0.6zM302.9 291.3h0.6v0.6h-0.6zM315.8 282.2h0.6v0.6h-0.6zM304.3 290.1h0.6v0.6h-0.6zM298.9 270.3h0.6v0.6h-0.6zM312.9 272.4h0.6v0.6h-0.6zM311.4 271.8h0.6v0.6h-0.6zM316.6 273.1h0.6v0.6h-0.6zM309.7 293.8h0.6v0.6h-0.6zM293.5 293.5h0.6v0.6h-0.6zM295.1 267.0h0.6v0.6h-0.6zM309.9 288.2h0.6v0.6h-0.6zM300.6 264.5h0.6v0.6h-0.6zM301.3 277.5h0.6v0.6h-0.6zM297.5 277.7h0.6v0.6h-0.6zM286.6 276.4h0.6v0.6h-0.6zM315.1 291.7h0.6v0.6h-0.6zM297.9 273.4h0.6v0.6h-0.6zM306.2 291.6h0.6v0.6h-0.6zM309.2 270.0h0.6v0.6h-0.6zM304.0 282.6h0.6v0.6h-0.6zM314.4 290.7h0.6v0.6h-0.6zM307.3 292.6h0.6v0.6h-0.6zM298.3 294.6h0.6v0.6h-0.6zM297.0 285.4h0.6v0.6h-0.6zM311.4 272.2h0.6v0.6h-0.6zM296.0 266.8h0.6v0.6h-0.6zM304.0 280.4h0.6v0.6h-0.6zM298.2 286.5h0.6v0.6h-0.6zM285.2 280.8h0.6v0.6h-0.6zM303.1 278.0h0.6v0.6h-0.6zM308.7 295.0h0.6v0.6h-0.6zM297.2 271.4h0.6v0.6h-0.6zM294.9 282.0h0.6v0.6h-0.6zM308.4 272.2h0.6v0.6h-0.6zM311.8 271.5h0.6v0.6h-0.6zM311.2 285.5h0.6v0.6h-0.6zM305.6 296.7h0.6v0.6h-0.6zM298.8 279.1h0.6v0.6h-0.6zM307.2 289.9h0.6v0.6h-0.6zM288.6 283.6h0.6v0.6h-0.6zM293.8 287.5h0.6v0.6h-0.6zM315.7 281.5h0.6v0.6h-0.6zM300.7 283.1h0.6v0.6h-0.6zM284.7 285.3h0.6v0.6h-0.6zM308.6 282.8h0.6v0.6h-0.6zM297.5 273.2h0.6v0.6h-0.6zM300.1 292.9h0.6v0.6h-0.6zM301.0 293.8h0.6v0.6h-0.6zM284.7 278.1h0.6v0.6h-0.6zM305.3 280.8h0.6v0.6h-0.6zM287.3 275.5h0.6v0.6h-0.6zM313.0 270.2h0.6v0.6h-0.6zM292.4 270.9h0.6v0.6h-0.6zM295.8 287.8h0.6v0.6h-0.6zM306.7 265.8h0.6v0.6h-0.6zM315.8 275.7h0.6v0.6h-0.6zM296.8 295.0h0.6v0.6h-0.6z" fill="#c4c4c4"/>
<path d="M295.4 273.5h0.6v0.6h-0.6zM291.1 277.4h0.6v0.6h-0.6zM288.2 280.4h0.6v0.6h-0.6zM302.7 285.7h0.6v0.6h-0.6zM288.4 283.9h0.6v0.6h-0.6zM296.2 288.8h0.6v0.6h-0.6zM293.5 286.5h0.6v0.6h-0.6zM312.2 283.7h0.6v0.6h-0.6zM287.7 285.5h0.6v0.6h-0.6zM289.8 280.2h0.6v0.6h-0.6zM297.4 285.6h0.6v0.6h-0.6zM293.8 289.5h0.6v0.6h-0.6zM294.5 273.0h0.6v0.6h-0.6zM302.7 280.2h0.6v0.6h-0.6zM305.3 278.0h0.6v0.6h-0.6zM300.4 285.4h0.6v0.6h-0.6zM287.4 293.8h0.6v0.6h-0.6zM304.4 286.8h0.6v0.6h-0.6zM301.2 279.2h0.6v0.6h-0.6zM295.9 284.7h0.6v0.6h-0.6zM299.2 288.4h0.6v0.6h-0.6zM294.4 277.6h0.6v0.6h-0.6zM291.7 286.2h0.6v0.6h-0.6zM292.8 278.8h0.6v0.6h-0.6zM293.9 262.6h0.6v0.6h-0.6zM293.4 281.1h0.6v0.6h-0.6zM302.0 267.8h0.6v0.6h-0.6zM293.6 286.6h0.6v0.6h-0.6zM299.8 292.2h0.6v0.6h-0.6zM304.1 274.9h0.6v0.6h-0.6zM300.9 280.4h0.6v0.6h-0.6zM289.8 294.8h0.6v0.6h-0.6zM291.2 276.4h0.6v0.6h-0.6zM292.9 276.4h0.6v0.6h-0.6zM303.7 285.9h0.6v0.6h-0.6zM306.8 286.2h0.6v0.6h-0.6zM291.3 291.1h0.6v0.6h-0.6zM291.0 279.4h0.6v0.6h-0.6zM294.7 283.3h0.6v0.6h-0.6zM305.2 278.3h0.6v0.6h-0.6zM298.7 282.8h0.6v0.6h-0.6zM286.3 274.6h0.6v0.6h-0.6zM294.3 286.1h0.6v0.6h-0.6zM298.5 286.7h0.6v0.6h-0.6zM296.4 279.5h0.6v0.6h-0.6zM299.3 275.3h0.6v0.6h-0.6zM285.7 280.4h0.6v0.6h-0.6zM285.0 279.0h0.6v0.6h-0.6zM290.2 278.7h0.6v0.6h-0.6zM295.7 276.8h0.6v0.6h-0.6zM292.7 269.8h0.6v0.6h-0.6zM297.1 276.2h0.6v0.6h-0.6zM299.1 261.2h0.6v0.6h-0.6zM289.8 284.9h0.6v0.6h-0.6zM296.7 283.8h0.6v0.6h-0.6zM297.1 275.5h0.6v0.6h-0.6zM301.7 282.6h0.6v0.6h-0.6zM296.1 279.5h0.6v0.6h-0.6zM300.2 283.8h0.6v0.6h-0.6zM304.8 286.5h0.6v0.6h-0.6zM291.2 281.3h0.6v0.6h-0.6zM303.1 280.2h0.6v0.6h-0.6zM299.0 287.0h0.6v0.6h-0.6zM294.6 265.0h0.6v0.6h-0.6zM297.0 284.7h0.6v0.6h-0.6zM297.0 277.1h0.6v0.6h-0.6zM305.3 282.0h0.6v0.6h-0.6zM291.2 277.5h0.6v0.6h-0.6zM298.8 274.6h0.6v0.6h-0.6zM306.1 291.2h0.6v0.6h-0.6zM306.6 287.6h0.6v0.6h-0.6zM305.6 286.8h0.6v0.6h-0.6zM306.6 279.2h0.6v0.6h-0.6zM297.0 289.0h0.6v0.6h-0.6zM295.3 291.5h0.6v0.6h-0.6zM296.6 288.4h0.6v0.6h-0.6zM296.7 271.5h0.6v0.6h-0.6zM298.2 293.2h0.6v0.6h-0.6zM304.8 296.3h0.6v0.6h-0.6zM300.3 278.4h0.6v0.6h-0.6zM296.1 268.1h0.6v0.6h-0.6zM294.5 290.0h0.6v0.6h-0.6zM302.4 293.3h0.6v0.6h-0.6zM288.8 277.9h0.6v0.6h-0.6zM287.1 293.7h0.6v0.6h-0.6zM299.3 279.2h0.6v0.6h-0.6zM313.0 263.4h0.6v0.6h-0.6zM295.5 284.7h0.6v0.6h-0.6zM312.5 297.0h0.6v0.6h-0.6zM313.6 284.0h0.6v0.6h-0.6zM303.6 293.6h0.6v0.6h-0.6zM300.0 285.8h0.6v0.6h-0.6zM294.6 279.8h0.6v0.6h-0.6zM292.5 266.8h0.6v0.6h-0.6zM298.1 282.7h0.6v0.6h-0.6zM295.2 280.9h0.6v0.6h-0.6zM290.2 282.8h0.6v0.6h-0.6zM292.6 284.6h0.6v0.6h-0.6zM320.3 286.1h0.6v0.6h-0.6zM302.7 289.4h0.6v0.6h-0.6zM301.6 289.4h0.6v0.6h-0.6zM301.3 294.0h0.6v0.6h-0.6zM303.8 293.5h0.6v0.6h-0.6zM292.1 283.0h0.6v0.6h-0.6zM290.3 290.5h0.6v0.6h-0.6zM302.5 279.4h0.6v0.6h-0.6zM305.6 274.3h0.6v0.6h-0.6zM295.3 287.9h0.6v0.6h-0.6zM295.7 286.0h0.6v0.6h-0.6zM305.2 285.6h0.6v0.6h-0.6zM287.5 288.6h0.6v0.6h-0.6zM295.2 283.9h0.6v0.6h-0.6zM291.6 272.2h0.6v0.6h-0.6zM286.3 280.2h0.6v0.6h-0.6zM287.7 261.8h0.6v0.6h-0.6zM304.9 274.0h0.6v0.6h-0.6zM290.4 287.1h0.6v0.6h-0.6zM290.0 288.1h0.6v0.6h-0.6zM292.2 285.4h0.6v0.6h-0.6zM296.8 283.0h0.6v0.6h-0.6zM295.7 294.0h0.6v0.6h-0.6zM291.7 287.1h0.6v0.6h-0.6zM297.3 286.8h0.6v0.6h-0.6zM303.7 271.3h0.6v0.6h-0.6zM298.1 281.6h0.6v0.6h-0.6zM293.6 276.3h0.6v0.6h-0.6zM289.9 275.0h0.6v0.6h-0.6zM309.2 283.1h0.6v0.6h-0.6zM301.8 275.4h0.6v0.6h-0.6zM297.1 294.2h0.6v0.6h-0.6zM295.7 275.2h0.6v0.6h-0.6zM294.1 275.2h0.6v0.6h-0.6zM285.1 281.2h0.6v0.6h-0.6zM292.9 276.7h0.6v0.6h-0.6zM289.1 275.7h0.6v0.6h-0.6zM297.8 293.9h0.6v0.6h-0.6zM287.0 281.7h0.6v0.6h-0.6zM296.8 287.4h0.6v0.6h-0.6zM304.8 278.7h0.6v0.6h-0.6zM286.3 281.5h0.6v0.6h-0.6zM298.3 277.6h0.6v0.6h-0.6zM303.0 296.1h0.6v0.6h-0.6zM284.9 285.8h0.6v0.6h-0.6zM303.9 268.0h0.6v0.6h-0.6zM297.6 281.2h0.6v0.6h-0.6zM284.9 293.3h0.6v0.6h-0.6zM297.7 279.3h0.6v0.6h-0.6zM299.5 288.0h0.6v0.6h-0.6zM302.0 287.5h0.6v0.6h-0.6zM299.2 273.8h0.6v0.6h-0.6zM292.7 284.0h0.6v0.6h-0.6zM293.0 274.8h0.6v0.6h-0.6zM296.3 278.4h0.6v0.6h-0.6zM292.8 276.1h0.6v0.6h-0.6zM290.2 282.2h0.6v0.6h-0.6zM291.0 288.3h0.6v0.6h-0.6zM294.9 284.0h0.6v0.6h-0.6zM299.2 292.9h0.6v0.6h-0.6zM300.7 284.8h0.6v0.6h-0.6zM294.7 276.7h0.6v0.6h-0.6zM293.3 288.3h0.6v0.6h-0.6zM297.8 280.0h0.6v0.6h-0.6zM285.6 271.0h0.6v0.6h-0.6zM298.5 291.0h0.6v0.6h-0.6zM298.9 272.3h0.6v0.6h-0.6zM294.3 284.7h0.6v0.6h-0.6zM288.8 285.7h0.6v0.6h-0.6zM294.4 276.5h0.6v0.6h-0.6zM286.3 289.3h0.6v0.6h-0.6zM298.8 276.1h0.6v0.6h-0.6zM288.1 289.9h0.6v0.6h-0.6zM300.6 280.6h0.6v0.6h-0.6zM308.4 280.7h0.6v0.6h-0.6zM287.8 291.5h0.6v0.6h-0.6zM294.5 285.7h0.6v0.6h-0.6zM296.3 275.2h0.6v0.6h-0.6zM286.7 281.5h0.6v0.6h-0.6zM307.0 275.2h0.6v0.6h-0.6zM306.6 284.7h0.6v0.6h-0.6zM287.3 285.1h0.6v0.6h-0.6zM300.4 276.0h0.6v0.6h-0.6zM287.4 286.4h0.6v0.6h-0.6zM289.7 271.5h0.6v0.6h-0.6zM294.1 284.3h0.6v0.6h-0.6zM291.7 273.8h0.6v0.6h-0.6zM297.7 269.4h0.6v0.6h-0.6zM300.2 286.8h0.6v0.6h-0.6zM309.1 289.9h0.6v0.6h-0.6zM298.8 285.1h0.6v0.6h-0.6zM296.2 272.7h0.6v0.6h-0.6zM307.4 287.1h0.6v0.6h-0.6zM293.8 274.1h0.6v0.6h-0.6zM307.5 287.1h0.6v0.6h-0.6zM286.8 288.2h0.6v0.6h-0.6zM310.7 282.8h0.6v0.6h-0.6zM299.1 279.8h0.6v0.6h-0.6zM291.1 291.3h0.6v0.6h-0.6zM319.9 283.9h0.6v0.6h-0.6zM295.0 289.2h0.6v0.6h-0.6zM293.6 288.7h0.6v0.6h-0.6zM302.4 275.1h0.6v0.6h-0.6zM287.7 282.4h0.6v0.6h-0.6zM302.5 285.2h0.6v0.6h-0.6zM305.6 272.3h0.6v0.6h-0.6zM299.8 278.2h0.6v0.6h-0.6zM296.8 285.5h0.6v0.6h-0.6zM288.5 281.2h0.6v0.6h-0.6zM287.0 285.1h0.6v0.6h-0.6zM289.4 279.2h0.6v0.6h-0.6zM297.7 277.9h0.6v0.6h-0.6zM304.9 278.1h0.6v0.6h-0.6zM302.6 285.2h0.6v0.6h-0.6zM288.0 281.3h0.6v0.6h-0.6z" fill="#a8a8a8"/>
<path d="M302.96,285.14 L303.51,286.88 L303.80,288.64 L303.82,290.36 L303.55,292.01 L302.99,293.55 L302.14,294.95 L301.05,296.16 L299.73,297.15 L298.23,297.90 L296.62,298.39 L294.95,298.60 L293.28,298.52 L291.67,298.15 L290.17,297.49 L288.84,296.56 L287.70,295.38 L286.78,293.98 L286.10,292.40 L285.65,290.68 L285.44,288.86 L285.44,287.00 L285.63,285.14 L286.00,283.34 L286.52,281.63 L287.17,280.07 L287.92,278.70 L288.77,277.54 L289.70,276.63 L290.71,275.98 L291.78,275.61 L292.91,275.51 L294.09,275.70 L295.31,276.15 L296.56,276.86 L297.81,277.81 L299.03,278.97 L300.20,280.32 L301.27,281.82 L302.21,283.44Z" fill="#f1f1f1" stroke="none"/>
<path d="M302.03,285.34 L302.51,286.90 L302.77,288.46 L302.79,290.00 L302.55,291.48 L302.04,292.85 L301.29,294.09 L300.31,295.17 L299.13,296.06 L297.80,296.74 L296.36,297.17 L294.87,297.36 L293.38,297.29 L291.94,296.95 L290.61,296.37 L289.41,295.54 L288.40,294.48 L287.58,293.23 L286.97,291.82 L286.57,290.29 L286.37,288.66 L286.37,287.00 L286.55,285.34 L286.88,283.73 L287.34,282.21 L287.92,280.82 L288.60,279.59 L289.35,278.56 L290.19,277.74 L291.08,277.16 L292.04,276.83 L293.05,276.74 L294.10,276.91 L295.19,277.32 L296.31,277.95 L297.42,278.80 L298.52,279.83 L299.56,281.03 L300.51,282.37 L301.35,283.82Z" fill="#d8d8d8" stroke="#a8a8a8" stroke-width="0.45"/>
<path d="M299.42,285.89 L299.74,286.93 L299.91,287.98 L299.92,289.00 L299.76,289.98 L299.43,290.90 L298.93,291.73 L298.27,292.45 L297.49,293.04 L296.60,293.49 L295.64,293.78 L294.65,293.91 L293.65,293.86 L292.69,293.64 L291.80,293.24 L291.01,292.69 L290.33,291.99 L289.78,291.16 L289.38,290.22 L289.11,289.19 L288.98,288.11 L288.98,287.00 L289.10,285.89 L289.32,284.82 L289.63,283.81 L290.01,282.88 L290.46,282.06 L290.97,281.37 L291.52,280.83 L292.12,280.44 L292.76,280.22 L293.43,280.16 L294.13,280.27 L294.86,280.54 L295.60,280.97 L296.35,281.53 L297.08,282.22 L297.77,283.02 L298.41,283.91 L298.97,284.88Z" fill="#dcdcdc" stroke="#a8a8a8" stroke-width="0.45"/>
<path d="M296.81,286.45 L296.97,286.97 L297.06,287.49 L297.06,288.00 L296.98,288.49 L296.81,288.95 L296.56,289.36 L296.24,289.72 L295.84,290.02 L295.40,290.25 L294.92,290.39 L294.42,290.45 L293.93,290.43 L293.45,290.32 L293.00,290.12 L292.60,289.85 L292.27,289.49 L291.99,289.08 L291.79,288.61 L291.66,288.10 L291.59,287.55 L291.59,287.00 L291.65,286.45 L291.76,285.91 L291.91,285.40 L292.11,284.94 L292.33,284.53 L292.58,284.19 L292.86,283.91 L293.16,283.72 L293.48,283.61 L293.82,283.58 L294.17,283.64 L294.53,283.77 L294.90,283.98 L295.27,284.27 L295.64,284.61 L295.99,285.01 L296.30,285.46 L296.58,285.94Z" fill="#e6e6e6" stroke="#a8a8a8" stroke-width="0.45"/>
<path d="M287,297.5 Q295,295.8 304,297.5" stroke="#333" stroke-width="1.1" fill="none"/>
<path d="M311.07,260.27 L311.37,261.10 L311.43,262.04 L311.25,263.05 L310.85,264.12 L310.21,265.21 L309.38,266.30 L308.35,267.37 L307.17,268.38 L305.85,269.31 L304.43,270.14 L302.95,270.85 L301.44,271.43 L299.93,271.84 L298.48,272.10 L297.10,272.18 L295.84,272.09 L294.73,271.84 L293.80,271.42 L293.05,270.84 L292.53,270.13 L292.23,269.30 L292.17,268.36 L292.35,267.35 L292.75,266.28 L293.39,265.19 L294.22,264.10 L295.25,263.03 L296.43,262.02 L297.75,261.09 L299.17,260.26 L300.65,259.55 L302.16,258.97 L303.67,258.56 L305.12,258.30 L306.50,258.22 L307.76,258.31 L308.87,258.56 L309.80,258.98 L310.55,259.56Z" fill="#c8c8c8" stroke="#7a7a7a" stroke-width="0.45"/>
<path d="M308.75,261.50 L308.98,262.13 L309.02,262.83 L308.89,263.59 L308.58,264.39 L308.11,265.21 L307.48,266.03 L306.71,266.83 L305.82,267.58 L304.84,268.28 L303.77,268.91 L302.66,269.44 L301.53,269.87 L300.40,270.18 L299.31,270.37 L298.28,270.44 L297.33,270.37 L296.50,270.18 L295.80,269.86 L295.24,269.43 L294.85,268.90 L294.62,268.27 L294.58,267.57 L294.71,266.81 L295.02,266.01 L295.49,265.19 L296.12,264.37 L296.89,263.57 L297.78,262.82 L298.76,262.12 L299.83,261.49 L300.94,260.96 L302.07,260.53 L303.20,260.22 L304.29,260.03 L305.32,259.96 L306.27,260.03 L307.10,260.22 L307.80,260.54 L308.36,260.97Z" fill="#bdbdbd" stroke="#7a7a7a" stroke-width="0.45"/>
<path d="M306.44,262.74 L306.58,263.15 L306.61,263.62 L306.53,264.13 L306.32,264.66 L306.01,265.21 L305.59,265.75 L305.08,266.28 L304.48,266.79 L303.82,267.26 L303.11,267.67 L302.37,268.03 L301.62,268.31 L300.87,268.52 L300.14,268.65 L299.45,268.69 L298.82,268.65 L298.27,268.52 L297.80,268.31 L297.43,268.02 L297.16,267.66 L297.02,267.25 L296.99,266.78 L297.07,266.27 L297.28,265.74 L297.59,265.19 L298.01,264.65 L298.52,264.12 L299.12,263.61 L299.78,263.14 L300.49,262.73 L301.23,262.37 L301.98,262.09 L302.73,261.88 L303.46,261.75 L304.15,261.71 L304.78,261.75 L305.33,261.88 L305.80,262.09 L306.17,262.38Z" fill="#c6c6c6" stroke="#7a7a7a" stroke-width="0.45"/>
<path d="M304.12,263.97 L304.19,264.18 L304.21,264.41 L304.16,264.66 L304.06,264.93 L303.90,265.20 L303.69,265.48 L303.44,265.74 L303.14,265.99 L302.81,266.23 L302.46,266.44 L302.09,266.61 L301.71,266.76 L301.33,266.86 L300.97,266.92 L300.63,266.95 L300.31,266.92 L300.03,266.86 L299.80,266.75 L299.61,266.61 L299.48,266.43 L299.41,266.22 L299.39,265.99 L299.44,265.74 L299.54,265.47 L299.70,265.20 L299.91,264.92 L300.16,264.66 L300.46,264.41 L300.79,264.17 L301.14,263.96 L301.51,263.79 L301.89,263.64 L302.27,263.54 L302.63,263.48 L302.97,263.45 L303.29,263.48 L303.57,263.54 L303.80,263.65 L303.99,263.79Z" fill="#d8d8d8" stroke="#7a7a7a" stroke-width="0.45"/>
<path d="M319.60,265.20 L319.55,265.92 L319.41,266.62 L319.19,267.29 L318.87,267.90 L318.49,268.45 L318.03,268.92 L317.53,269.30 L316.97,269.57 L316.39,269.74 L315.80,269.80 L315.21,269.74 L314.63,269.57 L314.07,269.30 L313.57,268.92 L313.11,268.45 L312.73,267.90 L312.41,267.29 L312.19,266.62 L312.05,265.92 L312.00,265.20 L312.05,264.48 L312.19,263.78 L312.41,263.11 L312.73,262.50 L313.11,261.95 L313.57,261.48 L314.07,261.10 L314.63,260.83 L315.21,260.66 L315.80,260.60 L316.39,260.66 L316.97,260.83 L317.53,261.10 L318.03,261.48 L318.49,261.95 L318.87,262.50 L319.19,263.11 L319.41,263.78 L319.55,264.48Z" fill="#dedede" stroke="#aaa" stroke-width="0.45"/>
<path d="M317.70,265.20 L317.68,265.56 L317.61,265.91 L317.49,266.24 L317.34,266.55 L317.14,266.83 L316.92,267.06 L316.66,267.25 L316.39,267.39 L316.10,267.47 L315.80,267.50 L315.50,267.47 L315.21,267.39 L314.94,267.25 L314.68,267.06 L314.46,266.83 L314.26,266.55 L314.11,266.24 L313.99,265.91 L313.92,265.56 L313.90,265.20 L313.92,264.84 L313.99,264.49 L314.11,264.16 L314.26,263.85 L314.46,263.57 L314.68,263.34 L314.94,263.15 L315.21,263.01 L315.50,262.93 L315.80,262.90 L316.10,262.93 L316.39,263.01 L316.66,263.15 L316.92,263.34 L317.14,263.57 L317.34,263.85 L317.49,264.16 L317.61,264.49 L317.68,264.84Z" fill="#e8e8e8" stroke="#aaa" stroke-width="0.45"/>
<rect x="284.20" y="249.10" width="48.70" height="48.70" fill="none" stroke="#111" stroke-width="1.3"/>
<line x1="281.60" y1="249.50" x2="284.20" y2="249.50" stroke="#1a1a1a" stroke-width="0.9" />
<line x1="281.60" y1="261.40" x2="284.20" y2="261.40" stroke="#1a1a1a" stroke-width="0.9" />
<line x1="281.60" y1="273.70" x2="284.20" y2="273.70" stroke="#1a1a1a" stroke-width="0.9" />
<line x1="281.60" y1="285.90" x2="284.20" y2="285.90" stroke="#1a1a1a" stroke-width="0.9" />
<line x1="281.60" y1="297.40" x2="284.20" y2="297.40" stroke="#1a1a1a" stroke-width="0.9" />
<line x1="292.10" y1="297.80" x2="292.10" y2="300.20" stroke="#1a1a1a" stroke-width="0.9" />
<line x1="308.20" y1="297.80" x2="308.20" y2="300.20" stroke="#1a1a1a" stroke-width="0.9" />
<line x1="324.30" y1="297.80" x2="324.30" y2="300.20" stroke="#1a1a1a" stroke-width="0.9" />
<path d="M290.3,264.6 L294.2,259.4 L302.5,256.5 L310.8,256.2 L312.7,260.1 L309.5,267.1 L304.4,272.9 L292.2,271 Z" fill="none" stroke="#111" stroke-width="0.95" stroke-linejoin="round"/>
<path d="M312.5,259.2 A5.4,6.4 0 1 1 311.2,270.3" fill="none" stroke="#222" stroke-width="1.0" stroke-dasharray="2.3,1.5"/>
<text x="285.20" y="255.00" font-size="5.5" fill="#222" textLength="29.40" lengthAdjust="spacingAndGlyphs" stroke="#222" stroke-width="0.12" >CD19⁺B220⁻</text>
<text x="285.20" y="260.90" font-size="5.5" fill="#222" textLength="9.00" lengthAdjust="spacingAndGlyphs" stroke="#222" stroke-width="0.12" >58%</text>
<text x="324.90" y="273.50" font-size="5.5" fill="#222" textLength="6.40" lengthAdjust="spacingAndGlyphs" stroke="#222" stroke-width="0.12" >3%</text>
<text x="314.60" y="280.60" font-size="5.5" fill="#222" textLength="16.60" lengthAdjust="spacingAndGlyphs" stroke="#222" stroke-width="0.12" >CD19⁺</text>
<text x="315.90" y="287.60" font-size="5.5" fill="#222" textLength="15.40" lengthAdjust="spacingAndGlyphs" stroke="#222" stroke-width="0.12" >B220⁺</text>
<path d="M353.6 277.2h0.6v0.6h-0.6zM360.6 296.0h0.6v0.6h-0.6zM359.1 294.8h0.6v0.6h-0.6zM367.5 268.6h0.6v0.6h-0.6zM346.3 285.6h0.6v0.6h-0.6zM347.1 286.4h0.6v0.6h-0.6zM374.1 285.0h0.6v0.6h-0.6zM360.4 278.1h0.6v0.6h-0.6zM366.1 277.5h0.6v0.6h-0.6zM356.7 276.9h0.6v0.6h-0.6zM374.9 275.0h0.6v0.6h-0.6zM367.0 269.6h0.6v0.6h-0.6zM356.2 268.6h0.6v0.6h-0.6zM360.7 288.5h0.6v0.6h-0.6zM366.6 275.5h0.6v0.6h-0.6zM370.1 277.2h0.6v0.6h-0.6zM367.5 284.1h0.6v0.6h-0.6zM366.7 264.8h0.6v0.6h-0.6zM350.4 288.0h0.6v0.6h-0.6zM362.2 297.2h0.6v0.6h-0.6zM360.2 274.8h0.6v0.6h-0.6zM377.1 285.9h0.6v0.6h-0.6zM378.9 285.0h0.6v0.6h-0.6zM360.6 288.9h0.6v0.6h-0.6zM354.2 276.3h0.6v0.6h-0.6zM356.4 278.5h0.6v0.6h-0.6zM371.7 275.9h0.6v0.6h-0.6zM366.8 275.4h0.6v0.6h-0.6zM368.4 265.0h0.6v0.6h-0.6zM360.5 282.9h0.6v0.6h-0.6zM352.5 290.3h0.6v0.6h-0.6zM365.2 293.4h0.6v0.6h-0.6zM373.2 287.4h0.6v0.6h-0.6zM361.4 270.0h0.6v0.6h-0.6zM360.4 275.8h0.6v0.6h-0.6zM366.0 275.8h0.6v0.6h-0.6zM378.9 273.1h0.6v0.6h-0.6zM375.1 276.4h0.6v0.6h-0.6zM360.3 290.7h0.6v0.6h-0.6zM363.0 269.0h0.6v0.6h-0.6zM368.0 278.8h0.6v0.6h-0.6zM346.3 282.5h0.6v0.6h-0.6zM352.2 273.8h0.6v0.6h-0.6zM368.7 284.4h0.6v0.6h-0.6zM360.7 296.9h0.6v0.6h-0.6zM367.8 274.3h0.6v0.6h-0.6zM365.9 279.6h0.6v0.6h-0.6zM348.6 271.3h0.6v0.6h-0.6zM353.2 294.7h0.6v0.6h-0.6zM360.8 277.8h0.6v0.6h-0.6zM357.0 290.9h0.6v0.6h-0.6zM363.3 295.6h0.6v0.6h-0.6zM369.9 294.6h0.6v0.6h-0.6zM361.6 285.3h0.6v0.6h-0.6zM357.8 279.1h0.6v0.6h-0.6zM347.9 276.2h0.6v0.6h-0.6zM352.9 274.5h0.6v0.6h-0.6zM375.6 283.6h0.6v0.6h-0.6zM374.9 288.8h0.6v0.6h-0.6zM372.2 290.5h0.6v0.6h-0.6zM356.4 289.3h0.6v0.6h-0.6zM359.2 275.1h0.6v0.6h-0.6zM371.4 295.4h0.6v0.6h-0.6zM354.9 294.6h0.6v0.6h-0.6zM371.7 272.6h0.6v0.6h-0.6zM366.3 285.2h0.6v0.6h-0.6zM367.5 277.0h0.6v0.6h-0.6zM349.8 281.3h0.6v0.6h-0.6zM372.1 288.8h0.6v0.6h-0.6zM369.8 291.7h0.6v0.6h-0.6zM352.1 280.6h0.6v0.6h-0.6zM366.7 291.2h0.6v0.6h-0.6zM364.9 286.8h0.6v0.6h-0.6zM364.1 296.8h0.6v0.6h-0.6zM346.0 280.8h0.6v0.6h-0.6zM380.4 282.6h0.6v0.6h-0.6zM347.0 282.1h0.6v0.6h-0.6zM349.5 275.0h0.6v0.6h-0.6zM365.0 295.6h0.6v0.6h-0.6zM368.3 288.2h0.6v0.6h-0.6zM374.1 283.1h0.6v0.6h-0.6zM353.3 280.0h0.6v0.6h-0.6zM367.0 277.9h0.6v0.6h-0.6zM355.3 277.1h0.6v0.6h-0.6zM349.8 272.5h0.6v0.6h-0.6zM361.9 276.9h0.6v0.6h-0.6zM363.4 294.2h0.6v0.6h-0.6zM366.6 280.6h0.6v0.6h-0.6zM352.0 271.4h0.6v0.6h-0.6zM367.2 271.9h0.6v0.6h-0.6zM367.5 270.3h0.6v0.6h-0.6zM364.6 280.2h0.6v0.6h-0.6zM373.8 277.0h0.6v0.6h-0.6zM358.5 283.8h0.6v0.6h-0.6zM363.5 295.6h0.6v0.6h-0.6zM360.0 275.0h0.6v0.6h-0.6zM359.2 286.3h0.6v0.6h-0.6zM365.7 288.5h0.6v0.6h-0.6zM354.3 295.7h0.6v0.6h-0.6zM379.0 280.7h0.6v0.6h-0.6zM350.4 282.5h0.6v0.6h-0.6zM366.1 265.1h0.6v0.6h-0.6zM363.1 267.4h0.6v0.6h-0.6zM367.5 293.8h0.6v0.6h-0.6zM372.0 268.6h0.6v0.6h-0.6zM375.7 288.9h0.6v0.6h-0.6zM358.8 286.6h0.6v0.6h-0.6zM377.4 278.0h0.6v0.6h-0.6zM362.8 274.8h0.6v0.6h-0.6zM371.2 266.5h0.6v0.6h-0.6zM375.8 272.7h0.6v0.6h-0.6zM371.0 267.8h0.6v0.6h-0.6zM353.0 275.0h0.6v0.6h-0.6zM370.3 267.6h0.6v0.6h-0.6zM369.8 274.3h0.6v0.6h-0.6zM375.7 278.0h0.6v0.6h-0.6zM368.8 279.1h0.6v0.6h-0.6zM378.7 278.0h0.6v0.6h-0.6zM362.8 296.6h0.6v0.6h-0.6zM363.9 288.5h0.6v0.6h-0.6zM354.5 283.2h0.6v0.6h-0.6zM345.9 281.8h0.6v0.6h-0.6zM357.0 267.8h0.6v0.6h-0.6zM350.6 290.4h0.6v0.6h-0.6zM367.0 267.5h0.6v0.6h-0.6zM378.3 275.5h0.6v0.6h-0.6zM358.6 283.8h0.6v0.6h-0.6zM353.5 268.3h0.6v0.6h-0.6zM355.6 292.1h0.6v0.6h-0.6zM371.3 268.0h0.6v0.6h-0.6zM375.6 281.3h0.6v0.6h-0.6zM369.0 281.6h0.6v0.6h-0.6zM367.4 270.8h0.6v0.6h-0.6zM353.4 274.0h0.6v0.6h-0.6zM358.7 287.8h0.6v0.6h-0.6zM353.0 293.4h0.6v0.6h-0.6zM355.9 274.7h0.6v0.6h-0.6zM371.0 285.6h0.6v0.6h-0.6zM359.4 270.2h0.6v0.6h-0.6zM354.4 268.1h0.6v0.6h-0.6zM373.8 290.7h0.6v0.6h-0.6zM378.8 285.0h0.6v0.6h-0.6zM366.8 289.1h0.6v0.6h-0.6zM373.5 278.3h0.6v0.6h-0.6zM365.7 296.8h0.6v0.6h-0.6zM349.9 270.7h0.6v0.6h-0.6zM353.0 288.4h0.6v0.6h-0.6zM375.3 277.7h0.6v0.6h-0.6zM370.8 280.5h0.6v0.6h-0.6zM366.5 275.0h0.6v0.6h-0.6zM362.7 280.9h0.6v0.6h-0.6zM370.9 295.7h0.6v0.6h-0.6zM347.5 285.3h0.6v0.6h-0.6zM362.9 291.1h0.6v0.6h-0.6zM373.8 288.5h0.6v0.6h-0.6zM371.4 271.7h0.6v0.6h-0.6zM350.6 292.5h0.6v0.6h-0.6zM374.5 272.4h0.6v0.6h-0.6zM375.6 287.2h0.6v0.6h-0.6zM346.5 286.7h0.6v0.6h-0.6zM353.5 291.5h0.6v0.6h-0.6zM355.5 273.3h0.6v0.6h-0.6zM348.3 279.1h0.6v0.6h-0.6zM373.6 274.4h0.6v0.6h-0.6zM351.3 293.7h0.6v0.6h-0.6zM378.4 286.4h0.6v0.6h-0.6zM357.5 269.4h0.6v0.6h-0.6zM348.2 285.8h0.6v0.6h-0.6zM374.9 271.8h0.6v0.6h-0.6zM363.0 277.8h0.6v0.6h-0.6zM360.0 286.6h0.6v0.6h-0.6zM379.3 276.3h0.6v0.6h-0.6zM371.5 291.3h0.6v0.6h-0.6zM359.6 279.3h0.6v0.6h-0.6zM350.9 290.2h0.6v0.6h-0.6zM357.0 274.0h0.6v0.6h-0.6zM363.8 271.9h0.6v0.6h-0.6zM351.8 278.0h0.6v0.6h-0.6zM377.4 279.1h0.6v0.6h-0.6zM368.0 267.8h0.6v0.6h-0.6zM350.1 292.4h0.6v0.6h-0.6zM359.3 267.3h0.6v0.6h-0.6zM361.8 287.7h0.6v0.6h-0.6zM348.4 274.0h0.6v0.6h-0.6zM365.9 271.4h0.6v0.6h-0.6zM371.2 290.4h0.6v0.6h-0.6zM368.2 276.2h0.6v0.6h-0.6zM362.5 274.0h0.6v0.6h-0.6zM361.4 284.6h0.6v0.6h-0.6zM359.7 291.1h0.6v0.6h-0.6zM380.3 277.6h0.6v0.6h-0.6zM366.9 289.7h0.6v0.6h-0.6zM370.5 278.4h0.6v0.6h-0.6zM357.9 291.2h0.6v0.6h-0.6zM370.1 286.5h0.6v0.6h-0.6zM354.2 287.5h0.6v0.6h-0.6zM372.1 279.0h0.6v0.6h-0.6zM367.9 296.5h0.6v0.6h-0.6zM347.3 285.8h0.6v0.6h-0.6zM352.7 269.6h0.6v0.6h-0.6z" fill="#c4c4c4"/>
<path d="M356.2 287.2h0.6v0.6h-0.6zM358.4 274.0h0.6v0.6h-0.6zM346.9 278.7h0.6v0.6h-0.6zM358.1 276.6h0.6v0.6h-0.6zM346.4 296.6h0.6v0.6h-0.6zM351.5 281.8h0.6v0.6h-0.6zM353.8 278.5h0.6v0.6h-0.6zM358.3 280.7h0.6v0.6h-0.6zM362.8 273.8h0.6v0.6h-0.6zM357.4 288.9h0.6v0.6h-0.6zM367.1 287.3h0.6v0.6h-0.6zM358.3 271.0h0.6v0.6h-0.6zM345.6 290.6h0.6v0.6h-0.6zM363.2 287.4h0.6v0.6h-0.6zM349.8 273.8h0.6v0.6h-0.6zM359.2 275.1h0.6v0.6h-0.6zM370.3 278.2h0.6v0.6h-0.6zM353.6 289.7h0.6v0.6h-0.6zM360.5 276.0h0.6v0.6h-0.6zM348.5 281.1h0.6v0.6h-0.6zM349.6 267.9h0.6v0.6h-0.6zM362.9 288.4h0.6v0.6h-0.6zM365.6 286.3h0.6v0.6h-0.6zM352.8 273.9h0.6v0.6h-0.6zM349.4 288.9h0.6v0.6h-0.6zM361.7 268.2h0.6v0.6h-0.6zM364.9 292.7h0.6v0.6h-0.6zM358.2 273.6h0.6v0.6h-0.6zM371.7 272.8h0.6v0.6h-0.6zM357.3 268.2h0.6v0.6h-0.6zM348.2 269.8h0.6v0.6h-0.6zM366.5 292.2h0.6v0.6h-0.6zM354.8 272.4h0.6v0.6h-0.6zM357.5 285.9h0.6v0.6h-0.6zM346.1 274.0h0.6v0.6h-0.6zM357.2 288.5h0.6v0.6h-0.6zM358.6 286.5h0.6v0.6h-0.6zM348.3 263.6h0.6v0.6h-0.6zM360.4 275.8h0.6v0.6h-0.6zM357.0 280.1h0.6v0.6h-0.6zM361.7 277.0h0.6v0.6h-0.6zM369.3 283.2h0.6v0.6h-0.6zM362.1 287.9h0.6v0.6h-0.6zM366.1 286.2h0.6v0.6h-0.6zM372.5 286.7h0.6v0.6h-0.6zM362.4 286.7h0.6v0.6h-0.6zM353.0 277.7h0.6v0.6h-0.6zM352.9 292.1h0.6v0.6h-0.6zM361.6 273.7h0.6v0.6h-0.6zM371.6 285.6h0.6v0.6h-0.6zM367.3 284.7h0.6v0.6h-0.6zM355.4 284.3h0.6v0.6h-0.6zM349.2 273.6h0.6v0.6h-0.6zM351.0 278.9h0.6v0.6h-0.6zM347.4 282.2h0.6v0.6h-0.6zM372.4 282.6h0.6v0.6h-0.6zM364.9 281.3h0.6v0.6h-0.6zM361.1 282.7h0.6v0.6h-0.6zM353.8 283.6h0.6v0.6h-0.6zM346.4 286.5h0.6v0.6h-0.6zM355.7 274.5h0.6v0.6h-0.6zM355.2 287.4h0.6v0.6h-0.6zM352.7 286.7h0.6v0.6h-0.6zM362.5 295.3h0.6v0.6h-0.6zM349.4 282.1h0.6v0.6h-0.6zM362.0 294.8h0.6v0.6h-0.6zM360.1 288.9h0.6v0.6h-0.6zM346.4 278.4h0.6v0.6h-0.6zM371.1 280.8h0.6v0.6h-0.6zM375.0 277.3h0.6v0.6h-0.6zM355.8 270.4h0.6v0.6h-0.6zM363.0 285.1h0.6v0.6h-0.6zM373.9 284.3h0.6v0.6h-0.6zM356.0 271.9h0.6v0.6h-0.6zM357.4 290.5h0.6v0.6h-0.6zM363.8 292.7h0.6v0.6h-0.6zM364.8 282.6h0.6v0.6h-0.6zM362.8 284.4h0.6v0.6h-0.6zM347.5 296.5h0.6v0.6h-0.6zM361.0 274.7h0.6v0.6h-0.6zM361.0 285.3h0.6v0.6h-0.6zM365.9 294.4h0.6v0.6h-0.6zM370.1 275.5h0.6v0.6h-0.6zM360.7 285.8h0.6v0.6h-0.6zM349.2 279.3h0.6v0.6h-0.6zM359.5 288.9h0.6v0.6h-0.6zM375.4 285.3h0.6v0.6h-0.6zM353.2 264.3h0.6v0.6h-0.6zM366.5 282.0h0.6v0.6h-0.6zM357.1 275.2h0.6v0.6h-0.6zM363.8 268.8h0.6v0.6h-0.6zM358.9 284.0h0.6v0.6h-0.6zM360.4 293.3h0.6v0.6h-0.6zM357.2 283.7h0.6v0.6h-0.6zM364.8 270.7h0.6v0.6h-0.6zM355.7 283.5h0.6v0.6h-0.6zM365.6 276.6h0.6v0.6h-0.6zM364.4 286.1h0.6v0.6h-0.6zM346.2 271.3h0.6v0.6h-0.6zM346.6 284.1h0.6v0.6h-0.6zM359.6 288.7h0.6v0.6h-0.6zM364.5 278.6h0.6v0.6h-0.6zM366.5 289.5h0.6v0.6h-0.6zM361.7 286.8h0.6v0.6h-0.6zM347.8 285.9h0.6v0.6h-0.6zM349.8 273.5h0.6v0.6h-0.6zM355.2 284.1h0.6v0.6h-0.6zM357.6 280.4h0.6v0.6h-0.6zM350.0 284.5h0.6v0.6h-0.6zM352.1 271.8h0.6v0.6h-0.6zM358.7 294.6h0.6v0.6h-0.6zM354.8 274.6h0.6v0.6h-0.6zM369.0 296.6h0.6v0.6h-0.6zM355.7 281.3h0.6v0.6h-0.6zM359.1 290.9h0.6v0.6h-0.6zM361.5 268.5h0.6v0.6h-0.6zM349.2 273.2h0.6v0.6h-0.6zM361.4 283.8h0.6v0.6h-0.6zM372.3 280.8h0.6v0.6h-0.6zM360.5 283.6h0.6v0.6h-0.6zM360.3 294.7h0.6v0.6h-0.6zM368.3 278.2h0.6v0.6h-0.6zM363.5 280.0h0.6v0.6h-0.6zM358.9 284.3h0.6v0.6h-0.6zM358.2 279.3h0.6v0.6h-0.6zM370.4 280.9h0.6v0.6h-0.6zM363.6 296.4h0.6v0.6h-0.6zM363.0 291.2h0.6v0.6h-0.6zM369.1 291.7h0.6v0.6h-0.6zM371.7 271.6h0.6v0.6h-0.6zM373.6 283.2h0.6v0.6h-0.6zM346.9 282.8h0.6v0.6h-0.6zM346.1 275.0h0.6v0.6h-0.6zM360.4 284.3h0.6v0.6h-0.6zM351.6 281.1h0.6v0.6h-0.6zM357.2 283.6h0.6v0.6h-0.6zM357.9 281.2h0.6v0.6h-0.6zM365.0 270.2h0.6v0.6h-0.6zM354.1 284.1h0.6v0.6h-0.6zM354.8 278.6h0.6v0.6h-0.6zM354.5 284.7h0.6v0.6h-0.6zM367.9 281.5h0.6v0.6h-0.6zM355.9 285.8h0.6v0.6h-0.6zM356.1 267.5h0.6v0.6h-0.6zM360.1 280.0h0.6v0.6h-0.6zM353.4 288.0h0.6v0.6h-0.6zM358.4 278.5h0.6v0.6h-0.6zM358.1 282.1h0.6v0.6h-0.6zM361.5 284.8h0.6v0.6h-0.6zM354.2 272.9h0.6v0.6h-0.6zM349.2 281.9h0.6v0.6h-0.6zM348.8 289.0h0.6v0.6h-0.6zM347.4 268.7h0.6v0.6h-0.6zM356.5 268.8h0.6v0.6h-0.6zM371.0 275.1h0.6v0.6h-0.6zM357.6 281.0h0.6v0.6h-0.6zM351.4 268.9h0.6v0.6h-0.6zM346.3 287.5h0.6v0.6h-0.6zM357.9 289.8h0.6v0.6h-0.6zM353.9 288.8h0.6v0.6h-0.6zM365.2 287.9h0.6v0.6h-0.6zM369.6 281.6h0.6v0.6h-0.6zM370.3 277.4h0.6v0.6h-0.6zM371.3 261.0h0.6v0.6h-0.6zM358.1 276.6h0.6v0.6h-0.6zM358.0 291.2h0.6v0.6h-0.6zM363.7 283.8h0.6v0.6h-0.6zM371.6 271.2h0.6v0.6h-0.6zM351.5 295.1h0.6v0.6h-0.6zM360.6 266.4h0.6v0.6h-0.6zM360.7 273.5h0.6v0.6h-0.6zM369.8 292.2h0.6v0.6h-0.6zM353.6 293.3h0.6v0.6h-0.6zM351.3 290.4h0.6v0.6h-0.6zM362.6 282.0h0.6v0.6h-0.6zM346.6 280.8h0.6v0.6h-0.6zM350.3 263.5h0.6v0.6h-0.6zM362.7 286.0h0.6v0.6h-0.6zM364.2 283.5h0.6v0.6h-0.6zM352.8 259.4h0.6v0.6h-0.6zM361.8 290.7h0.6v0.6h-0.6zM353.3 271.7h0.6v0.6h-0.6zM357.7 269.6h0.6v0.6h-0.6zM358.1 289.2h0.6v0.6h-0.6zM370.1 285.1h0.6v0.6h-0.6zM359.6 289.0h0.6v0.6h-0.6zM369.2 280.4h0.6v0.6h-0.6zM348.2 276.7h0.6v0.6h-0.6zM347.9 275.9h0.6v0.6h-0.6zM357.0 285.7h0.6v0.6h-0.6zM359.2 283.6h0.6v0.6h-0.6zM355.1 286.4h0.6v0.6h-0.6zM365.1 289.1h0.6v0.6h-0.6zM370.0 280.7h0.6v0.6h-0.6zM356.0 296.6h0.6v0.6h-0.6zM359.6 286.3h0.6v0.6h-0.6zM355.3 290.8h0.6v0.6h-0.6zM354.8 274.9h0.6v0.6h-0.6zM357.5 279.5h0.6v0.6h-0.6zM364.7 280.0h0.6v0.6h-0.6zM359.0 281.3h0.6v0.6h-0.6zM360.7 278.0h0.6v0.6h-0.6zM366.8 271.6h0.6v0.6h-0.6zM354.9 277.3h0.6v0.6h-0.6zM363.2 283.3h0.6v0.6h-0.6zM361.9 280.4h0.6v0.6h-0.6zM352.3 274.0h0.6v0.6h-0.6zM355.3 278.7h0.6v0.6h-0.6zM360.2 285.8h0.6v0.6h-0.6zM365.8 282.1h0.6v0.6h-0.6zM352.0 274.5h0.6v0.6h-0.6zM358.5 285.9h0.6v0.6h-0.6zM373.6 284.5h0.6v0.6h-0.6zM349.6 292.7h0.6v0.6h-0.6zM367.1 293.8h0.6v0.6h-0.6zM357.9 290.6h0.6v0.6h-0.6zM354.2 282.4h0.6v0.6h-0.6zM356.3 290.6h0.6v0.6h-0.6z" fill="#a8a8a8"/>
<path d="M365.13,285.25 L365.50,287.00 L365.60,288.75 L365.43,290.46 L364.96,292.10 L364.22,293.61 L363.21,294.97 L361.96,296.14 L360.50,297.10 L358.90,297.81 L357.18,298.25 L355.42,298.42 L353.67,298.30 L351.98,297.90 L350.40,297.23 L348.99,296.30 L347.77,295.13 L346.77,293.75 L346.02,292.20 L345.52,290.52 L345.27,288.75 L345.27,286.94 L345.50,285.13 L345.94,283.37 L346.57,281.70 L347.37,280.18 L348.33,278.83 L349.41,277.69 L350.60,276.78 L351.87,276.13 L353.22,275.75 L354.61,275.65 L356.03,275.82 L357.46,276.27 L358.86,276.97 L360.22,277.91 L361.50,279.07 L362.66,280.42 L363.68,281.92 L364.51,283.54Z" fill="#f1f1f1" stroke="none"/>
<path d="M364.06,285.44 L364.40,287.00 L364.49,288.56 L364.33,290.09 L363.92,291.55 L363.25,292.90 L362.35,294.12 L361.23,295.16 L359.94,296.02 L358.50,296.65 L356.97,297.05 L355.40,297.19 L353.83,297.09 L352.32,296.74 L350.92,296.13 L349.65,295.30 L348.56,294.26 L347.68,293.03 L347.01,291.65 L346.56,290.14 L346.34,288.56 L346.33,286.94 L346.54,285.33 L346.93,283.76 L347.49,282.27 L348.21,280.91 L349.06,279.70 L350.03,278.68 L351.09,277.87 L352.23,277.29 L353.43,276.95 L354.67,276.86 L355.94,277.02 L357.22,277.42 L358.47,278.04 L359.68,278.89 L360.82,279.92 L361.86,281.12 L362.77,282.46 L363.51,283.91Z" fill="#d8d8d8" stroke="#a8a8a8" stroke-width="0.45"/>
<path d="M361.11,285.96 L361.33,287.00 L361.39,288.04 L361.29,289.06 L361.01,290.03 L360.57,290.94 L359.97,291.75 L359.22,292.44 L358.36,293.01 L357.40,293.43 L356.38,293.70 L355.33,293.80 L354.29,293.73 L353.28,293.49 L352.34,293.09 L351.50,292.53 L350.78,291.84 L350.18,291.02 L349.74,290.10 L349.44,289.10 L349.29,288.04 L349.29,286.96 L349.42,285.88 L349.69,284.84 L350.06,283.85 L350.54,282.94 L351.11,282.14 L351.75,281.46 L352.46,280.92 L353.22,280.53 L354.02,280.30 L354.85,280.24 L355.69,280.35 L356.54,280.61 L357.38,281.03 L358.19,281.59 L358.95,282.28 L359.64,283.08 L360.25,283.98 L360.74,284.94Z" fill="#dcdcdc" stroke="#a8a8a8" stroke-width="0.45"/>
<path d="M358.15,286.48 L358.27,287.00 L358.30,287.52 L358.24,288.03 L358.11,288.52 L357.88,288.97 L357.58,289.37 L357.21,289.72 L356.78,290.01 L356.30,290.22 L355.79,290.35 L355.27,290.40 L354.74,290.36 L354.24,290.25 L353.77,290.04 L353.35,289.77 L352.99,289.42 L352.69,289.01 L352.47,288.55 L352.32,288.05 L352.25,287.52 L352.24,286.98 L352.31,286.44 L352.44,285.92 L352.63,285.42 L352.87,284.97 L353.15,284.57 L353.48,284.23 L353.83,283.96 L354.21,283.76 L354.61,283.65 L355.02,283.62 L355.45,283.67 L355.87,283.81 L356.29,284.01 L356.69,284.30 L357.07,284.64 L357.42,285.04 L357.72,285.49 L357.97,285.97Z" fill="#e6e6e6" stroke="#a8a8a8" stroke-width="0.45"/>
<path d="M348,297.4 Q356,295.8 364,297.4" stroke="#333" stroke-width="1.1" fill="none"/>
<ellipse cx="374.6" cy="262.8" rx="5.0" ry="5.0" transform="rotate(0 374.6 262.8)" fill="#bcbcbc"/>
<ellipse cx="374.6" cy="262.8" rx="5.00" ry="5.00" transform="rotate(0 374.6 262.8)" fill="none" stroke="#4a4a4a" stroke-width="0.55"/>
<ellipse cx="374.6" cy="262.8" rx="3.75" ry="3.75" transform="rotate(0 374.6 262.8)" fill="none" stroke="#4a4a4a" stroke-width="0.55"/>
<ellipse cx="374.6" cy="262.8" rx="2.50" ry="2.50" transform="rotate(0 374.6 262.8)" fill="none" stroke="#4a4a4a" stroke-width="0.55"/>
<ellipse cx="374.6" cy="262.8" rx="1.25" ry="1.25" transform="rotate(0 374.6 262.8)" fill="none" stroke="#4a4a4a" stroke-width="0.55"/>
<ellipse cx="374.6" cy="262.8" rx="1.10" ry="1.10" fill="#f0f0f0"/>
<rect x="344.60" y="249.00" width="49.20" height="48.60" fill="none" stroke="#111" stroke-width="1.3"/>
<line x1="342.00" y1="249.50" x2="344.60" y2="249.50" stroke="#1a1a1a" stroke-width="0.9" />
<line x1="342.00" y1="261.40" x2="344.60" y2="261.40" stroke="#1a1a1a" stroke-width="0.9" />
<line x1="342.00" y1="273.70" x2="344.60" y2="273.70" stroke="#1a1a1a" stroke-width="0.9" />
<line x1="342.00" y1="285.90" x2="344.60" y2="285.90" stroke="#1a1a1a" stroke-width="0.9" />
<line x1="342.00" y1="297.40" x2="344.60" y2="297.40" stroke="#1a1a1a" stroke-width="0.9" />
<line x1="351.70" y1="297.60" x2="351.70" y2="300.00" stroke="#1a1a1a" stroke-width="0.9" />
<line x1="368.20" y1="297.60" x2="368.20" y2="300.00" stroke="#1a1a1a" stroke-width="0.9" />
<line x1="384.80" y1="297.60" x2="384.80" y2="300.00" stroke="#1a1a1a" stroke-width="0.9" />
<polygon points="354.3,258.2 370.2,256.9 367.6,265.8 355.5,264.9" fill="none" stroke="#111" stroke-width="0.95" stroke-linejoin="round"/>
<circle cx="376.6" cy="263" r="7.3" fill="none" stroke="#222" stroke-width="1.0" stroke-dasharray="2.3,1.5"/>
<text x="346.80" y="255.00" font-size="5.5" fill="#222" textLength="28.90" lengthAdjust="spacingAndGlyphs" stroke="#222" stroke-width="0.12" >CD19⁺B220⁻</text>
<text x="346.80" y="260.90" font-size="5.5" fill="#222" textLength="5.80" lengthAdjust="spacingAndGlyphs" stroke="#222" stroke-width="0.12" >1%</text>
<text x="383.30" y="273.50" font-size="5.5" fill="#222" textLength="9.70" lengthAdjust="spacingAndGlyphs" stroke="#222" stroke-width="0.12" >52%</text>
<text x="377.00" y="280.60" font-size="5.5" fill="#222" textLength="15.50" lengthAdjust="spacingAndGlyphs" stroke="#222" stroke-width="0.12" >CD19⁺</text>
<text x="378.20" y="287.80" font-size="5.5" fill="#222" textLength="14.20" lengthAdjust="spacingAndGlyphs" stroke="#222" stroke-width="0.12" >B220⁺</text>
<text x="268.80" y="251.90" font-size="6.8" fill="#1a1a1a" textLength="6.40" lengthAdjust="spacingAndGlyphs" stroke="#1a1a1a" stroke-width="0.18" >10</text>
<text x="275.70" y="248.90" font-size="4.2" fill="#1a1a1a" stroke="#1a1a1a" stroke-width="0.12" >6</text>
<text x="268.80" y="263.80" font-size="6.8" fill="#1a1a1a" textLength="6.40" lengthAdjust="spacingAndGlyphs" stroke="#1a1a1a" stroke-width="0.18" >10</text>
<text x="275.70" y="260.80" font-size="4.2" fill="#1a1a1a" stroke="#1a1a1a" stroke-width="0.12" >5</text>
<text x="268.80" y="276.10" font-size="6.8" fill="#1a1a1a" textLength="6.40" lengthAdjust="spacingAndGlyphs" stroke="#1a1a1a" stroke-width="0.18" >10</text>
<text x="275.70" y="273.10" font-size="4.2" fill="#1a1a1a" stroke="#1a1a1a" stroke-width="0.12" >4</text>
<text x="268.80" y="288.30" font-size="6.8" fill="#1a1a1a" textLength="6.40" lengthAdjust="spacingAndGlyphs" stroke="#1a1a1a" stroke-width="0.18" >10</text>
<text x="275.70" y="285.30" font-size="4.2" fill="#1a1a1a" stroke="#1a1a1a" stroke-width="0.12" >3</text>
<text x="268.80" y="299.80" font-size="6.8" fill="#1a1a1a" textLength="6.40" lengthAdjust="spacingAndGlyphs" stroke="#1a1a1a" stroke-width="0.18" >10</text>
<text x="275.70" y="296.80" font-size="4.2" fill="#1a1a1a" stroke="#1a1a1a" stroke-width="0.12" >2</text>
<text x="287.90" y="309.80" font-size="6.8" fill="#1a1a1a" textLength="6.40" lengthAdjust="spacingAndGlyphs" stroke="#1a1a1a" stroke-width="0.18" >10</text>
<text x="294.80" y="306.80" font-size="4.2" fill="#1a1a1a" stroke="#1a1a1a" stroke-width="0.12" >3</text>
<text x="304.00" y="309.80" font-size="6.8" fill="#1a1a1a" textLength="6.40" lengthAdjust="spacingAndGlyphs" stroke="#1a1a1a" stroke-width="0.18" >10</text>
<text x="310.90" y="306.80" font-size="4.2" fill="#1a1a1a" stroke="#1a1a1a" stroke-width="0.12" >4</text>
<text x="320.10" y="309.80" font-size="6.8" fill="#1a1a1a" textLength="6.40" lengthAdjust="spacingAndGlyphs" stroke="#1a1a1a" stroke-width="0.18" >10</text>
<text x="327.00" y="306.80" font-size="4.2" fill="#1a1a1a" stroke="#1a1a1a" stroke-width="0.12" >5</text>
<text x="347.50" y="309.80" font-size="6.8" fill="#1a1a1a" textLength="6.40" lengthAdjust="spacingAndGlyphs" stroke="#1a1a1a" stroke-width="0.18" >10</text>
<text x="354.40" y="306.80" font-size="4.2" fill="#1a1a1a" stroke="#1a1a1a" stroke-width="0.12" >3</text>
<text x="364.00" y="309.80" font-size="6.8" fill="#1a1a1a" textLength="6.40" lengthAdjust="spacingAndGlyphs" stroke="#1a1a1a" stroke-width="0.18" >10</text>
<text x="370.90" y="306.80" font-size="4.2" fill="#1a1a1a" stroke="#1a1a1a" stroke-width="0.12" >4</text>
<text x="380.60" y="309.80" font-size="6.8" fill="#1a1a1a" textLength="6.40" lengthAdjust="spacingAndGlyphs" stroke="#1a1a1a" stroke-width="0.18" >10</text>
<text x="387.50" y="306.80" font-size="4.2" fill="#1a1a1a" stroke="#1a1a1a" stroke-width="0.12" >5</text>
<line x1="261.40" y1="285.60" x2="261.40" y2="255.60" stroke="#1a1a1a" stroke-width="0.9" />
<polygon points="259.50,256.40 263.30,256.40 261.40,252.60" fill="#1a1a1a"/>
<text x="264.70" y="300.60" font-size="8.4" fill="#1a1a1a" textLength="13.80" lengthAdjust="spacingAndGlyphs" stroke="#1a1a1a" stroke-width="0.12" transform="rotate(-90 264.70 300.60)" >CD19</text>
<text x="279.80" y="320.60" font-size="8.4" fill="#1a1a1a" textLength="16.00" lengthAdjust="spacingAndGlyphs" stroke="#1a1a1a" stroke-width="0.12" >B220</text>
<line x1="298.80" y1="317.50" x2="391.30" y2="317.50" stroke="#222" stroke-width="1.1" />
<polygon points="390.50,315.60 390.50,319.40 394.30,317.50" fill="#1a1a1a"/>
<polyline points="283.50,374.57 286.00,369.92 288.00,362.95 290.00,355.97 292.00,351.32 294.00,348.07 295.00,346.21 296.50,351.32 298.00,362.95 300.00,369.92 302.00,373.18 305.00,371.32 307.00,374.11 310.00,375.97 316.00,376.90" stroke="#a8173f" stroke-width="1.2" fill="none" stroke-linejoin="round" stroke-dasharray="2.6,1.4"/>
<polyline points="284.00,376.90 291.00,376.44 294.00,374.57 296.70,367.60 299.00,358.30 301.20,348.53 303.00,337.38 304.20,334.12 305.80,335.98 307.10,344.35 308.60,360.16 310.10,374.57 313.00,376.44 333.00,376.90" stroke="#a8173f" stroke-width="1.2" fill="none" stroke-linejoin="round" />
<rect x="283.20" y="328.50" width="50.60" height="48.40" fill="none" stroke="#111" stroke-width="1.3"/>
<line x1="280.70" y1="330.40" x2="283.20" y2="330.40" stroke="#1a1a1a" stroke-width="0.9" />
<line x1="280.70" y1="339.70" x2="283.20" y2="339.70" stroke="#1a1a1a" stroke-width="0.9" />
<line x1="280.70" y1="349.00" x2="283.20" y2="349.00" stroke="#1a1a1a" stroke-width="0.9" />
<line x1="280.70" y1="358.30" x2="283.20" y2="358.30" stroke="#1a1a1a" stroke-width="0.9" />
<line x1="280.70" y1="367.60" x2="283.20" y2="367.60" stroke="#1a1a1a" stroke-width="0.9" />
<line x1="280.70" y1="376.90" x2="283.20" y2="376.90" stroke="#1a1a1a" stroke-width="0.9" />
<line x1="281.90" y1="332.26" x2="283.20" y2="332.26" stroke="#1a1a1a" stroke-width="0.5" />
<line x1="281.90" y1="334.12" x2="283.20" y2="334.12" stroke="#1a1a1a" stroke-width="0.5" />
<line x1="281.90" y1="335.98" x2="283.20" y2="335.98" stroke="#1a1a1a" stroke-width="0.5" />
<line x1="281.90" y1="337.84" x2="283.20" y2="337.84" stroke="#1a1a1a" stroke-width="0.5" />
<line x1="281.90" y1="341.56" x2="283.20" y2="341.56" stroke="#1a1a1a" stroke-width="0.5" />
<line x1="281.90" y1="343.42" x2="283.20" y2="343.42" stroke="#1a1a1a" stroke-width="0.5" />
<line x1="281.90" y1="345.28" x2="283.20" y2="345.28" stroke="#1a1a1a" stroke-width="0.5" />
<line x1="281.90" y1="347.14" x2="283.20" y2="347.14" stroke="#1a1a1a" stroke-width="0.5" />
<line x1="281.90" y1="350.86" x2="283.20" y2="350.86" stroke="#1a1a1a" stroke-width="0.5" />
<line x1="281.90" y1="352.72" x2="283.20" y2="352.72" stroke="#1a1a1a" stroke-width="0.5" />
<line x1="281.90" y1="354.58" x2="283.20" y2="354.58" stroke="#1a1a1a" stroke-width="0.5" />
<line x1="281.90" y1="356.44" x2="283.20" y2="356.44" stroke="#1a1a1a" stroke-width="0.5" />
<line x1="281.90" y1="360.16" x2="283.20" y2="360.16" stroke="#1a1a1a" stroke-width="0.5" />
<line x1="281.90" y1="362.02" x2="283.20" y2="362.02" stroke="#1a1a1a" stroke-width="0.5" />
<line x1="281.90" y1="363.88" x2="283.20" y2="363.88" stroke="#1a1a1a" stroke-width="0.5" />
<line x1="281.90" y1="365.74" x2="283.20" y2="365.74" stroke="#1a1a1a" stroke-width="0.5" />
<line x1="281.90" y1="369.46" x2="283.20" y2="369.46" stroke="#1a1a1a" stroke-width="0.5" />
<line x1="281.90" y1="371.32" x2="283.20" y2="371.32" stroke="#1a1a1a" stroke-width="0.5" />
<line x1="281.90" y1="373.18" x2="283.20" y2="373.18" stroke="#1a1a1a" stroke-width="0.5" />
<line x1="281.90" y1="375.04" x2="283.20" y2="375.04" stroke="#1a1a1a" stroke-width="0.5" />
<line x1="283.60" y1="376.90" x2="283.60" y2="378.90" stroke="#1a1a1a" stroke-width="0.8" />
<line x1="287.03" y1="376.90" x2="287.03" y2="378.10" stroke="#1a1a1a" stroke-width="0.5" />
<line x1="289.04" y1="376.90" x2="289.04" y2="378.10" stroke="#1a1a1a" stroke-width="0.5" />
<line x1="290.46" y1="376.90" x2="290.46" y2="378.10" stroke="#1a1a1a" stroke-width="0.5" />
<line x1="291.57" y1="376.90" x2="291.57" y2="378.10" stroke="#1a1a1a" stroke-width="0.5" />
<line x1="292.47" y1="376.90" x2="292.47" y2="378.10" stroke="#1a1a1a" stroke-width="0.5" />
<line x1="293.23" y1="376.90" x2="293.23" y2="378.10" stroke="#1a1a1a" stroke-width="0.5" />
<line x1="293.90" y1="376.90" x2="293.90" y2="378.10" stroke="#1a1a1a" stroke-width="0.5" />
<line x1="294.48" y1="376.90" x2="294.48" y2="378.10" stroke="#1a1a1a" stroke-width="0.5" />
<line x1="295.00" y1="376.90" x2="295.00" y2="378.90" stroke="#1a1a1a" stroke-width="0.8" />
<line x1="298.40" y1="376.90" x2="298.40" y2="378.10" stroke="#1a1a1a" stroke-width="0.5" />
<line x1="300.39" y1="376.90" x2="300.39" y2="378.10" stroke="#1a1a1a" stroke-width="0.5" />
<line x1="301.80" y1="376.90" x2="301.80" y2="378.10" stroke="#1a1a1a" stroke-width="0.5" />
<line x1="302.90" y1="376.90" x2="302.90" y2="378.10" stroke="#1a1a1a" stroke-width="0.5" />
<line x1="303.79" y1="376.90" x2="303.79" y2="378.10" stroke="#1a1a1a" stroke-width="0.5" />
<line x1="304.55" y1="376.90" x2="304.55" y2="378.10" stroke="#1a1a1a" stroke-width="0.5" />
<line x1="305.20" y1="376.90" x2="305.20" y2="378.10" stroke="#1a1a1a" stroke-width="0.5" />
<line x1="305.78" y1="376.90" x2="305.78" y2="378.10" stroke="#1a1a1a" stroke-width="0.5" />
<line x1="306.30" y1="376.90" x2="306.30" y2="378.90" stroke="#1a1a1a" stroke-width="0.8" />
<line x1="309.73" y1="376.90" x2="309.73" y2="378.10" stroke="#1a1a1a" stroke-width="0.5" />
<line x1="311.74" y1="376.90" x2="311.74" y2="378.10" stroke="#1a1a1a" stroke-width="0.5" />
<line x1="313.16" y1="376.90" x2="313.16" y2="378.10" stroke="#1a1a1a" stroke-width="0.5" />
<line x1="314.27" y1="376.90" x2="314.27" y2="378.10" stroke="#1a1a1a" stroke-width="0.5" />
<line x1="315.17" y1="376.90" x2="315.17" y2="378.10" stroke="#1a1a1a" stroke-width="0.5" />
<line x1="315.93" y1="376.90" x2="315.93" y2="378.10" stroke="#1a1a1a" stroke-width="0.5" />
<line x1="316.60" y1="376.90" x2="316.60" y2="378.10" stroke="#1a1a1a" stroke-width="0.5" />
<line x1="317.18" y1="376.90" x2="317.18" y2="378.10" stroke="#1a1a1a" stroke-width="0.5" />
<line x1="317.70" y1="376.90" x2="317.70" y2="378.90" stroke="#1a1a1a" stroke-width="0.8" />
<line x1="321.40" y1="376.90" x2="321.40" y2="378.10" stroke="#1a1a1a" stroke-width="0.5" />
<line x1="323.57" y1="376.90" x2="323.57" y2="378.10" stroke="#1a1a1a" stroke-width="0.5" />
<line x1="325.11" y1="376.90" x2="325.11" y2="378.10" stroke="#1a1a1a" stroke-width="0.5" />
<line x1="326.30" y1="376.90" x2="326.30" y2="378.10" stroke="#1a1a1a" stroke-width="0.5" />
<line x1="327.27" y1="376.90" x2="327.27" y2="378.10" stroke="#1a1a1a" stroke-width="0.5" />
<line x1="328.09" y1="376.90" x2="328.09" y2="378.10" stroke="#1a1a1a" stroke-width="0.5" />
<line x1="328.81" y1="376.90" x2="328.81" y2="378.10" stroke="#1a1a1a" stroke-width="0.5" />
<line x1="329.44" y1="376.90" x2="329.44" y2="378.10" stroke="#1a1a1a" stroke-width="0.5" />
<line x1="330.00" y1="376.90" x2="330.00" y2="378.90" stroke="#1a1a1a" stroke-width="0.8" />
<line x1="298.40" y1="336.70" x2="323.40" y2="336.70" stroke="#222" stroke-width="0.9" />
<line x1="298.40" y1="335.10" x2="298.40" y2="338.30" stroke="#222" stroke-width="0.9" />
<line x1="323.40" y1="335.10" x2="323.40" y2="338.30" stroke="#222" stroke-width="0.9" />
<text x="310.00" y="334.00" font-size="5.0" fill="#1a1a1a" textLength="13.40" lengthAdjust="spacingAndGlyphs" stroke="#1a1a1a" stroke-width="0.1" >CD5⁺</text>
<text x="267.69" y="332.80" font-size="6.8" fill="#1a1a1a" textLength="10.21" lengthAdjust="spacingAndGlyphs" stroke="#1a1a1a" stroke-width="0.18" >100</text>
<text x="271.09" y="342.10" font-size="6.8" fill="#1a1a1a" textLength="6.81" lengthAdjust="spacingAndGlyphs" stroke="#1a1a1a" stroke-width="0.18" >80</text>
<text x="271.09" y="351.40" font-size="6.8" fill="#1a1a1a" textLength="6.81" lengthAdjust="spacingAndGlyphs" stroke="#1a1a1a" stroke-width="0.18" >60</text>
<text x="271.09" y="360.70" font-size="6.8" fill="#1a1a1a" textLength="6.81" lengthAdjust="spacingAndGlyphs" stroke="#1a1a1a" stroke-width="0.18" >40</text>
<text x="271.09" y="370.00" font-size="6.8" fill="#1a1a1a" textLength="6.81" lengthAdjust="spacingAndGlyphs" stroke="#1a1a1a" stroke-width="0.18" >20</text>
<text x="274.50" y="379.30" font-size="6.8" fill="#1a1a1a" textLength="3.40" lengthAdjust="spacingAndGlyphs" stroke="#1a1a1a" stroke-width="0.18" >0</text>
<polyline points="345.00,372.25 348.00,367.60 350.50,358.30 352.50,349.00 354.50,339.70 356.70,335.05 358.00,342.02 360.00,355.97 362.00,367.60 364.00,373.18 367.00,375.50 372.00,376.44 378.00,376.90" stroke="#a8173f" stroke-width="1.2" fill="none" stroke-linejoin="round" stroke-dasharray="2.6,1.4"/>
<polyline points="345.20,376.90 348.00,374.11 350.00,371.32 352.00,370.39 354.50,360.16 356.00,357.37 358.80,355.51 361.00,358.30 363.00,359.23 365.20,356.90 368.40,356.44 370.00,362.95 371.60,374.57 374.00,375.97 380.00,376.90 394.00,376.90" stroke="#a8173f" stroke-width="1.2" fill="none" stroke-linejoin="round" />
<rect x="344.90" y="328.50" width="49.50" height="48.90" fill="none" stroke="#111" stroke-width="1.3"/>
<line x1="342.40" y1="330.40" x2="344.90" y2="330.40" stroke="#1a1a1a" stroke-width="0.9" />
<line x1="342.40" y1="339.70" x2="344.90" y2="339.70" stroke="#1a1a1a" stroke-width="0.9" />
<line x1="342.40" y1="349.00" x2="344.90" y2="349.00" stroke="#1a1a1a" stroke-width="0.9" />
<line x1="342.40" y1="358.30" x2="344.90" y2="358.30" stroke="#1a1a1a" stroke-width="0.9" />
<line x1="342.40" y1="367.60" x2="344.90" y2="367.60" stroke="#1a1a1a" stroke-width="0.9" />
<line x1="342.40" y1="376.90" x2="344.90" y2="376.90" stroke="#1a1a1a" stroke-width="0.9" />
<line x1="343.60" y1="332.26" x2="344.90" y2="332.26" stroke="#1a1a1a" stroke-width="0.5" />
<line x1="343.60" y1="334.12" x2="344.90" y2="334.12" stroke="#1a1a1a" stroke-width="0.5" />
<line x1="343.60" y1="335.98" x2="344.90" y2="335.98" stroke="#1a1a1a" stroke-width="0.5" />
<line x1="343.60" y1="337.84" x2="344.90" y2="337.84" stroke="#1a1a1a" stroke-width="0.5" />
<line x1="343.60" y1="341.56" x2="344.90" y2="341.56" stroke="#1a1a1a" stroke-width="0.5" />
<line x1="343.60" y1="343.42" x2="344.90" y2="343.42" stroke="#1a1a1a" stroke-width="0.5" />
<line x1="343.60" y1="345.28" x2="344.90" y2="345.28" stroke="#1a1a1a" stroke-width="0.5" />
<line x1="343.60" y1="347.14" x2="344.90" y2="347.14" stroke="#1a1a1a" stroke-width="0.5" />
<line x1="343.60" y1="350.86" x2="344.90" y2="350.86" stroke="#1a1a1a" stroke-width="0.5" />
<line x1="343.60" y1="352.72" x2="344.90" y2="352.72" stroke="#1a1a1a" stroke-width="0.5" />
<line x1="343.60" y1="354.58" x2="344.90" y2="354.58" stroke="#1a1a1a" stroke-width="0.5" />
<line x1="343.60" y1="356.44" x2="344.90" y2="356.44" stroke="#1a1a1a" stroke-width="0.5" />
<line x1="343.60" y1="360.16" x2="344.90" y2="360.16" stroke="#1a1a1a" stroke-width="0.5" />
<line x1="343.60" y1="362.02" x2="344.90" y2="362.02" stroke="#1a1a1a" stroke-width="0.5" />
<line x1="343.60" y1="363.88" x2="344.90" y2="363.88" stroke="#1a1a1a" stroke-width="0.5" />
<line x1="343.60" y1="365.74" x2="344.90" y2="365.74" stroke="#1a1a1a" stroke-width="0.5" />
<line x1="343.60" y1="369.46" x2="344.90" y2="369.46" stroke="#1a1a1a" stroke-width="0.5" />
<line x1="343.60" y1="371.32" x2="344.90" y2="371.32" stroke="#1a1a1a" stroke-width="0.5" />
<line x1="343.60" y1="373.18" x2="344.90" y2="373.18" stroke="#1a1a1a" stroke-width="0.5" />
<line x1="343.60" y1="375.04" x2="344.90" y2="375.04" stroke="#1a1a1a" stroke-width="0.5" />
<line x1="346.00" y1="377.40" x2="346.00" y2="379.40" stroke="#1a1a1a" stroke-width="0.8" />
<line x1="349.40" y1="377.40" x2="349.40" y2="378.60" stroke="#1a1a1a" stroke-width="0.5" />
<line x1="351.39" y1="377.40" x2="351.39" y2="378.60" stroke="#1a1a1a" stroke-width="0.5" />
<line x1="352.80" y1="377.40" x2="352.80" y2="378.60" stroke="#1a1a1a" stroke-width="0.5" />
<line x1="353.90" y1="377.40" x2="353.90" y2="378.60" stroke="#1a1a1a" stroke-width="0.5" />
<line x1="354.79" y1="377.40" x2="354.79" y2="378.60" stroke="#1a1a1a" stroke-width="0.5" />
<line x1="355.55" y1="377.40" x2="355.55" y2="378.60" stroke="#1a1a1a" stroke-width="0.5" />
<line x1="356.20" y1="377.40" x2="356.20" y2="378.60" stroke="#1a1a1a" stroke-width="0.5" />
<line x1="356.78" y1="377.40" x2="356.78" y2="378.60" stroke="#1a1a1a" stroke-width="0.5" />
<line x1="357.30" y1="377.40" x2="357.30" y2="379.40" stroke="#1a1a1a" stroke-width="0.8" />
<line x1="360.82" y1="377.40" x2="360.82" y2="378.60" stroke="#1a1a1a" stroke-width="0.5" />
<line x1="362.88" y1="377.40" x2="362.88" y2="378.60" stroke="#1a1a1a" stroke-width="0.5" />
<line x1="364.34" y1="377.40" x2="364.34" y2="378.60" stroke="#1a1a1a" stroke-width="0.5" />
<line x1="365.48" y1="377.40" x2="365.48" y2="378.60" stroke="#1a1a1a" stroke-width="0.5" />
<line x1="366.40" y1="377.40" x2="366.40" y2="378.60" stroke="#1a1a1a" stroke-width="0.5" />
<line x1="367.19" y1="377.40" x2="367.19" y2="378.60" stroke="#1a1a1a" stroke-width="0.5" />
<line x1="367.87" y1="377.40" x2="367.87" y2="378.60" stroke="#1a1a1a" stroke-width="0.5" />
<line x1="368.46" y1="377.40" x2="368.46" y2="378.60" stroke="#1a1a1a" stroke-width="0.5" />
<line x1="369.00" y1="377.40" x2="369.00" y2="379.40" stroke="#1a1a1a" stroke-width="0.8" />
<line x1="372.67" y1="377.40" x2="372.67" y2="378.60" stroke="#1a1a1a" stroke-width="0.5" />
<line x1="374.82" y1="377.40" x2="374.82" y2="378.60" stroke="#1a1a1a" stroke-width="0.5" />
<line x1="376.35" y1="377.40" x2="376.35" y2="378.60" stroke="#1a1a1a" stroke-width="0.5" />
<line x1="377.53" y1="377.40" x2="377.53" y2="378.60" stroke="#1a1a1a" stroke-width="0.5" />
<line x1="378.49" y1="377.40" x2="378.49" y2="378.60" stroke="#1a1a1a" stroke-width="0.5" />
<line x1="379.31" y1="377.40" x2="379.31" y2="378.60" stroke="#1a1a1a" stroke-width="0.5" />
<line x1="380.02" y1="377.40" x2="380.02" y2="378.60" stroke="#1a1a1a" stroke-width="0.5" />
<line x1="380.64" y1="377.40" x2="380.64" y2="378.60" stroke="#1a1a1a" stroke-width="0.5" />
<line x1="381.20" y1="377.40" x2="381.20" y2="379.40" stroke="#1a1a1a" stroke-width="0.8" />
<line x1="384.39" y1="377.40" x2="384.39" y2="378.60" stroke="#1a1a1a" stroke-width="0.5" />
<line x1="386.26" y1="377.40" x2="386.26" y2="378.60" stroke="#1a1a1a" stroke-width="0.5" />
<line x1="387.58" y1="377.40" x2="387.58" y2="378.60" stroke="#1a1a1a" stroke-width="0.5" />
<line x1="388.61" y1="377.40" x2="388.61" y2="378.60" stroke="#1a1a1a" stroke-width="0.5" />
<line x1="389.45" y1="377.40" x2="389.45" y2="378.60" stroke="#1a1a1a" stroke-width="0.5" />
<line x1="390.16" y1="377.40" x2="390.16" y2="378.60" stroke="#1a1a1a" stroke-width="0.5" />
<line x1="390.77" y1="377.40" x2="390.77" y2="378.60" stroke="#1a1a1a" stroke-width="0.5" />
<line x1="391.31" y1="377.40" x2="391.31" y2="378.60" stroke="#1a1a1a" stroke-width="0.5" />
<line x1="391.80" y1="377.40" x2="391.80" y2="379.40" stroke="#1a1a1a" stroke-width="0.8" />
<line x1="358.80" y1="336.00" x2="384.40" y2="336.00" stroke="#222" stroke-width="0.9" />
<line x1="358.80" y1="334.40" x2="358.80" y2="337.60" stroke="#222" stroke-width="0.9" />
<line x1="384.40" y1="334.40" x2="384.40" y2="337.60" stroke="#222" stroke-width="0.9" />
<text x="367.30" y="333.70" font-size="5.0" fill="#1a1a1a" textLength="12.80" lengthAdjust="spacingAndGlyphs" stroke="#1a1a1a" stroke-width="0.1" >CD5⁺</text>
<text x="279.40" y="389.20" font-size="6.8" fill="#1a1a1a" textLength="6.40" lengthAdjust="spacingAndGlyphs" stroke="#1a1a1a" stroke-width="0.18" >10</text>
<text x="286.30" y="386.20" font-size="4.2" fill="#1a1a1a" stroke="#1a1a1a" stroke-width="0.12" >2</text>
<text x="290.80" y="389.20" font-size="6.8" fill="#1a1a1a" textLength="6.40" lengthAdjust="spacingAndGlyphs" stroke="#1a1a1a" stroke-width="0.18" >10</text>
<text x="297.70" y="386.20" font-size="4.2" fill="#1a1a1a" stroke="#1a1a1a" stroke-width="0.12" >3</text>
<text x="302.10" y="389.20" font-size="6.8" fill="#1a1a1a" textLength="6.40" lengthAdjust="spacingAndGlyphs" stroke="#1a1a1a" stroke-width="0.18" >10</text>
<text x="309.00" y="386.20" font-size="4.2" fill="#1a1a1a" stroke="#1a1a1a" stroke-width="0.12" >4</text>
<text x="313.50" y="389.20" font-size="6.8" fill="#1a1a1a" textLength="6.40" lengthAdjust="spacingAndGlyphs" stroke="#1a1a1a" stroke-width="0.18" >10</text>
<text x="320.40" y="386.20" font-size="4.2" fill="#1a1a1a" stroke="#1a1a1a" stroke-width="0.12" >5</text>
<text x="325.80" y="389.20" font-size="6.8" fill="#1a1a1a" textLength="6.40" lengthAdjust="spacingAndGlyphs" stroke="#1a1a1a" stroke-width="0.18" >10</text>
<text x="332.70" y="386.20" font-size="4.2" fill="#1a1a1a" stroke="#1a1a1a" stroke-width="0.12" >6</text>
<text x="341.80" y="389.20" font-size="6.8" fill="#1a1a1a" textLength="6.40" lengthAdjust="spacingAndGlyphs" stroke="#1a1a1a" stroke-width="0.18" >10</text>
<text x="348.70" y="386.20" font-size="4.2" fill="#1a1a1a" stroke="#1a1a1a" stroke-width="0.12" >2</text>
<text x="353.10" y="389.20" font-size="6.8" fill="#1a1a1a" textLength="6.40" lengthAdjust="spacingAndGlyphs" stroke="#1a1a1a" stroke-width="0.18" >10</text>
<text x="360.00" y="386.20" font-size="4.2" fill="#1a1a1a" stroke="#1a1a1a" stroke-width="0.12" >3</text>
<text x="364.80" y="389.20" font-size="6.8" fill="#1a1a1a" textLength="6.40" lengthAdjust="spacingAndGlyphs" stroke="#1a1a1a" stroke-width="0.18" >10</text>
<text x="371.70" y="386.20" font-size="4.2" fill="#1a1a1a" stroke="#1a1a1a" stroke-width="0.12" >4</text>
<text x="377.00" y="389.20" font-size="6.8" fill="#1a1a1a" textLength="6.40" lengthAdjust="spacingAndGlyphs" stroke="#1a1a1a" stroke-width="0.18" >10</text>
<text x="383.90" y="386.20" font-size="4.2" fill="#1a1a1a" stroke="#1a1a1a" stroke-width="0.12" >5</text>
<text x="387.60" y="389.20" font-size="6.8" fill="#1a1a1a" textLength="6.40" lengthAdjust="spacingAndGlyphs" stroke="#1a1a1a" stroke-width="0.18" >10</text>
<text x="394.50" y="386.20" font-size="4.2" fill="#1a1a1a" stroke="#1a1a1a" stroke-width="0.12" >6</text>
<text x="282.60" y="399.60" font-size="8.4" fill="#1a1a1a" textLength="13.40" lengthAdjust="spacingAndGlyphs" stroke="#1a1a1a" stroke-width="0.12" >CD5</text>
<line x1="298.80" y1="396.50" x2="392.00" y2="396.50" stroke="#222" stroke-width="1.1" />
<polygon points="391.20,394.60 391.20,398.40 395.00,396.50" fill="#1a1a1a"/>
<line x1="452.40" y1="264.50" x2="452.40" y2="314.25" stroke="#1a1a1a" stroke-width="1.5" />
<line x1="449.80" y1="266.15" x2="452.40" y2="266.15" stroke="#1a1a1a" stroke-width="1.0" />
<text x="438.16" y="268.55" font-size="6.8" fill="#1a1a1a" textLength="9.64" lengthAdjust="spacingAndGlyphs" stroke="#1a1a1a" stroke-width="0.18" >100</text>
<line x1="449.80" y1="275.62" x2="452.40" y2="275.62" stroke="#1a1a1a" stroke-width="1.0" />
<text x="441.37" y="278.02" font-size="6.8" fill="#1a1a1a" textLength="6.43" lengthAdjust="spacingAndGlyphs" stroke="#1a1a1a" stroke-width="0.18" >80</text>
<line x1="449.80" y1="285.09" x2="452.40" y2="285.09" stroke="#1a1a1a" stroke-width="1.0" />
<text x="441.37" y="287.49" font-size="6.8" fill="#1a1a1a" textLength="6.43" lengthAdjust="spacingAndGlyphs" stroke="#1a1a1a" stroke-width="0.18" >60</text>
<line x1="449.80" y1="294.56" x2="452.40" y2="294.56" stroke="#1a1a1a" stroke-width="1.0" />
<text x="441.37" y="296.96" font-size="6.8" fill="#1a1a1a" textLength="6.43" lengthAdjust="spacingAndGlyphs" stroke="#1a1a1a" stroke-width="0.18" >40</text>
<line x1="449.80" y1="304.03" x2="452.40" y2="304.03" stroke="#1a1a1a" stroke-width="1.0" />
<text x="441.37" y="306.43" font-size="6.8" fill="#1a1a1a" textLength="6.43" lengthAdjust="spacingAndGlyphs" stroke="#1a1a1a" stroke-width="0.18" >20</text>
<line x1="449.80" y1="313.50" x2="452.40" y2="313.50" stroke="#1a1a1a" stroke-width="1.0" />
<text x="444.59" y="315.90" font-size="6.8" fill="#1a1a1a" textLength="3.21" lengthAdjust="spacingAndGlyphs" stroke="#1a1a1a" stroke-width="0.18" >0</text>
<line x1="451.65" y1="313.50" x2="510.00" y2="313.50" stroke="#1a1a1a" stroke-width="1.5" />
<line x1="467.10" y1="313.50" x2="467.10" y2="316.10" stroke="#1a1a1a" stroke-width="1.0" />
<line x1="495.50" y1="313.50" x2="495.50" y2="316.10" stroke="#1a1a1a" stroke-width="1.0" />
<text x="421.60" y="314.60" font-size="8.8" fill="#1a1a1a" textLength="52.70" lengthAdjust="spacingAndGlyphs" stroke="#1a1a1a" stroke-width="0.12" transform="rotate(-90 421.60 314.60)" >CD19⁺CD5⁺ cells</text>
<text x="432.00" y="303.20" font-size="8.8" fill="#1a1a1a" textLength="30.60" lengthAdjust="spacingAndGlyphs" stroke="#1a1a1a" stroke-width="0.12" transform="rotate(-90 432.00 303.20)" >in PBL (%)</text>
<line x1="467.80" y1="269.00" x2="494.20" y2="269.00" stroke="#555" stroke-width="1.4" />
<rect x="480.4" y="264.5" width="1.6" height="1.6" fill="#222"/><rect x="483.5" y="264.5" width="1.6" height="1.6" fill="#222"/>
<circle cx="464.80" cy="273.70" r="1.0" fill="#1d3b7a"/>
<circle cx="469.30" cy="273.70" r="1.0" fill="#1d3b7a"/>
<circle cx="465.20" cy="278.90" r="1.0" fill="#1d3b7a"/>
<circle cx="468.80" cy="281.30" r="1.0" fill="#1d3b7a"/>
<circle cx="467.10" cy="298.30" r="1.0" fill="#1d3b7a"/>
<circle cx="467.10" cy="306.00" r="1.0" fill="#1d3b7a"/>
<circle cx="467.10" cy="310.00" r="1.0" fill="#1d3b7a"/>
<line x1="457.60" y1="291.30" x2="476.60" y2="291.30" stroke="#1d3b7a" stroke-width="1.2" />
<line x1="462.80" y1="286.50" x2="471.40" y2="286.50" stroke="#1d3b7a" stroke-width="1.1" />
<line x1="462.80" y1="296.50" x2="471.40" y2="296.50" stroke="#1d3b7a" stroke-width="1.1" />
<line x1="467.10" y1="286.50" x2="467.10" y2="296.50" stroke="#1d3b7a" stroke-width="1.1" />
<circle cx="495.10" cy="287.50" r="1.0" fill="#b0002e"/>
<line x1="486.50" y1="311.30" x2="504.40" y2="311.30" stroke="#b0002e" stroke-width="1.2" />
<line x1="491.00" y1="308.10" x2="499.70" y2="308.10" stroke="#b0002e" stroke-width="1.1" />
<line x1="495.50" y1="308.10" x2="495.50" y2="313.50" stroke="#b0002e" stroke-width="1.1" />
<line x1="487.00" y1="312.60" x2="504.00" y2="312.60" stroke="#b0002e" stroke-width="1.1" />
<g transform="translate(457.60 332.10) rotate(-45)">
<text x="-11.90" y="0.60" font-size="6.4" fill="#1a1a1a" textLength="23.80" lengthAdjust="spacingAndGlyphs" stroke="#1a1a1a" stroke-width="0.15" >IgH.TEμ</text>
<text x="-16.60" y="8.40" font-size="6.4" fill="#1a1a1a" textLength="17.60" lengthAdjust="spacingAndGlyphs" stroke="#1a1a1a" stroke-width="0.15" >RBP-J</text>
<text x="1.50" y="5.40" font-size="4.0" fill="#222" textLength="12.00" lengthAdjust="spacingAndGlyphs" stroke="#222" stroke-width="0.14" >lox/lox</text>
</g>
<g transform="translate(479.50 334.75) rotate(-45)">
<text x="-11.90" y="0.60" font-size="6.4" fill="#1a1a1a" textLength="23.80" lengthAdjust="spacingAndGlyphs" stroke="#1a1a1a" stroke-width="0.15" >IgH.TEμ</text>
<text x="-20.30" y="8.40" font-size="6.4" fill="#1a1a1a" textLength="16.30" lengthAdjust="spacingAndGlyphs" stroke="#1a1a1a" stroke-width="0.15" >RBP-J</text>
<text x="-0.20" y="5.40" font-size="4.0" fill="#222" textLength="21.40" lengthAdjust="spacingAndGlyphs" stroke="#222" stroke-width="0.14" >Δ/Δ mb1-Cre</text>
</g>
<text x="36.00" y="376.20" font-size="6.6" fill="#1a1a1a" textLength="22.60" lengthAdjust="spacingAndGlyphs" stroke="#1a1a1a" stroke-width="0.15" >IgH.TEμ</text>
<text x="31.60" y="382.90" font-size="6.6" fill="#1a1a1a" textLength="17.50" lengthAdjust="spacingAndGlyphs" stroke="#1a1a1a" stroke-width="0.15" >RBP-J</text>
<text x="49.60" y="379.80" font-size="4.2" fill="#333" textLength="12.00" lengthAdjust="spacingAndGlyphs" stroke="#333" stroke-width="0.12" >lox/lox</text>
<text x="79.30" y="376.20" font-size="6.6" fill="#1a1a1a" textLength="21.90" lengthAdjust="spacingAndGlyphs" stroke="#1a1a1a" stroke-width="0.15" >IgH.TEμ</text>
<text x="69.80" y="382.90" font-size="6.6" fill="#1a1a1a" textLength="17.20" lengthAdjust="spacingAndGlyphs" stroke="#1a1a1a" stroke-width="0.15" >RBP-J</text>
<text x="87.20" y="379.80" font-size="4.2" fill="#333" textLength="24.00" lengthAdjust="spacingAndGlyphs" stroke="#333" stroke-width="0.12" >Δ/Δ mb1-Cre</text>
<line x1="33.60" y1="386.90" x2="61.00" y2="386.90" stroke="#6a6a6a" stroke-width="1.4" />
<line x1="63.20" y1="386.90" x2="117.60" y2="386.90" stroke="#6a6a6a" stroke-width="1.4" />
<rect x="33.1" y="389.9" width="85.7" height="25.0" fill="#111"/>
<defs><linearGradient id="bd" x1="0" y1="0" x2="0" y2="1"><stop offset="0" stop-color="#3a3a3a"/><stop offset="0.5" stop-color="#f2f2f2"/><stop offset="1" stop-color="#4a4a4a"/></linearGradient><linearGradient id="bd2" x1="0" y1="0" x2="0" y2="1"><stop offset="0" stop-color="#555"/><stop offset="0.4" stop-color="#f0f0f0"/><stop offset="0.75" stop-color="#cfcfcf"/><stop offset="1" stop-color="#444"/></linearGradient></defs>
<rect x="34.1" y="398.6" width="12.2" height="2.8" rx="0.8" fill="url(#bd)"/>
<rect x="48.5" y="398.6" width="11.8" height="2.8" rx="0.8" fill="url(#bd)"/>
<rect x="62.9" y="403.9" width="11.8" height="3.4" rx="0.9" fill="url(#bd2)"/>
<rect x="76.9" y="403.9" width="11.8" height="3.4" rx="0.9" fill="url(#bd2)"/>
<rect x="91.2" y="403.9" width="11.8" height="3.4" rx="0.9" fill="url(#bd2)"/>
<rect x="105.9" y="403.9" width="11.1" height="3.4" rx="0.9" fill="url(#bd2)"/>
<text x="11.00" y="401.80" font-size="7.2" fill="#222" textLength="9.00" lengthAdjust="spacingAndGlyphs" stroke="#222" stroke-width="0.1" >lox</text>
<text x="16.20" y="409.20" font-size="6.8" fill="#222" textLength="4.60" lengthAdjust="spacingAndGlyphs" stroke="#222" stroke-width="0.1" >Δ</text>
<line x1="22.80" y1="399.80" x2="26.50" y2="399.80" stroke="#1a1a1a" stroke-width="1.0" />
<polygon points="25.6,397.90 25.6,401.70 28.8,399.80" fill="#1a1a1a"/>
<line x1="22.80" y1="406.80" x2="26.50" y2="406.80" stroke="#1a1a1a" stroke-width="1.0" />
<polygon points="25.6,404.90 25.6,408.70 28.8,406.80" fill="#1a1a1a"/>
<rect x="0.5" y="0.5" width="519" height="421" fill="none" stroke="#000" stroke-width="1.2"/>
</svg></body></html>
